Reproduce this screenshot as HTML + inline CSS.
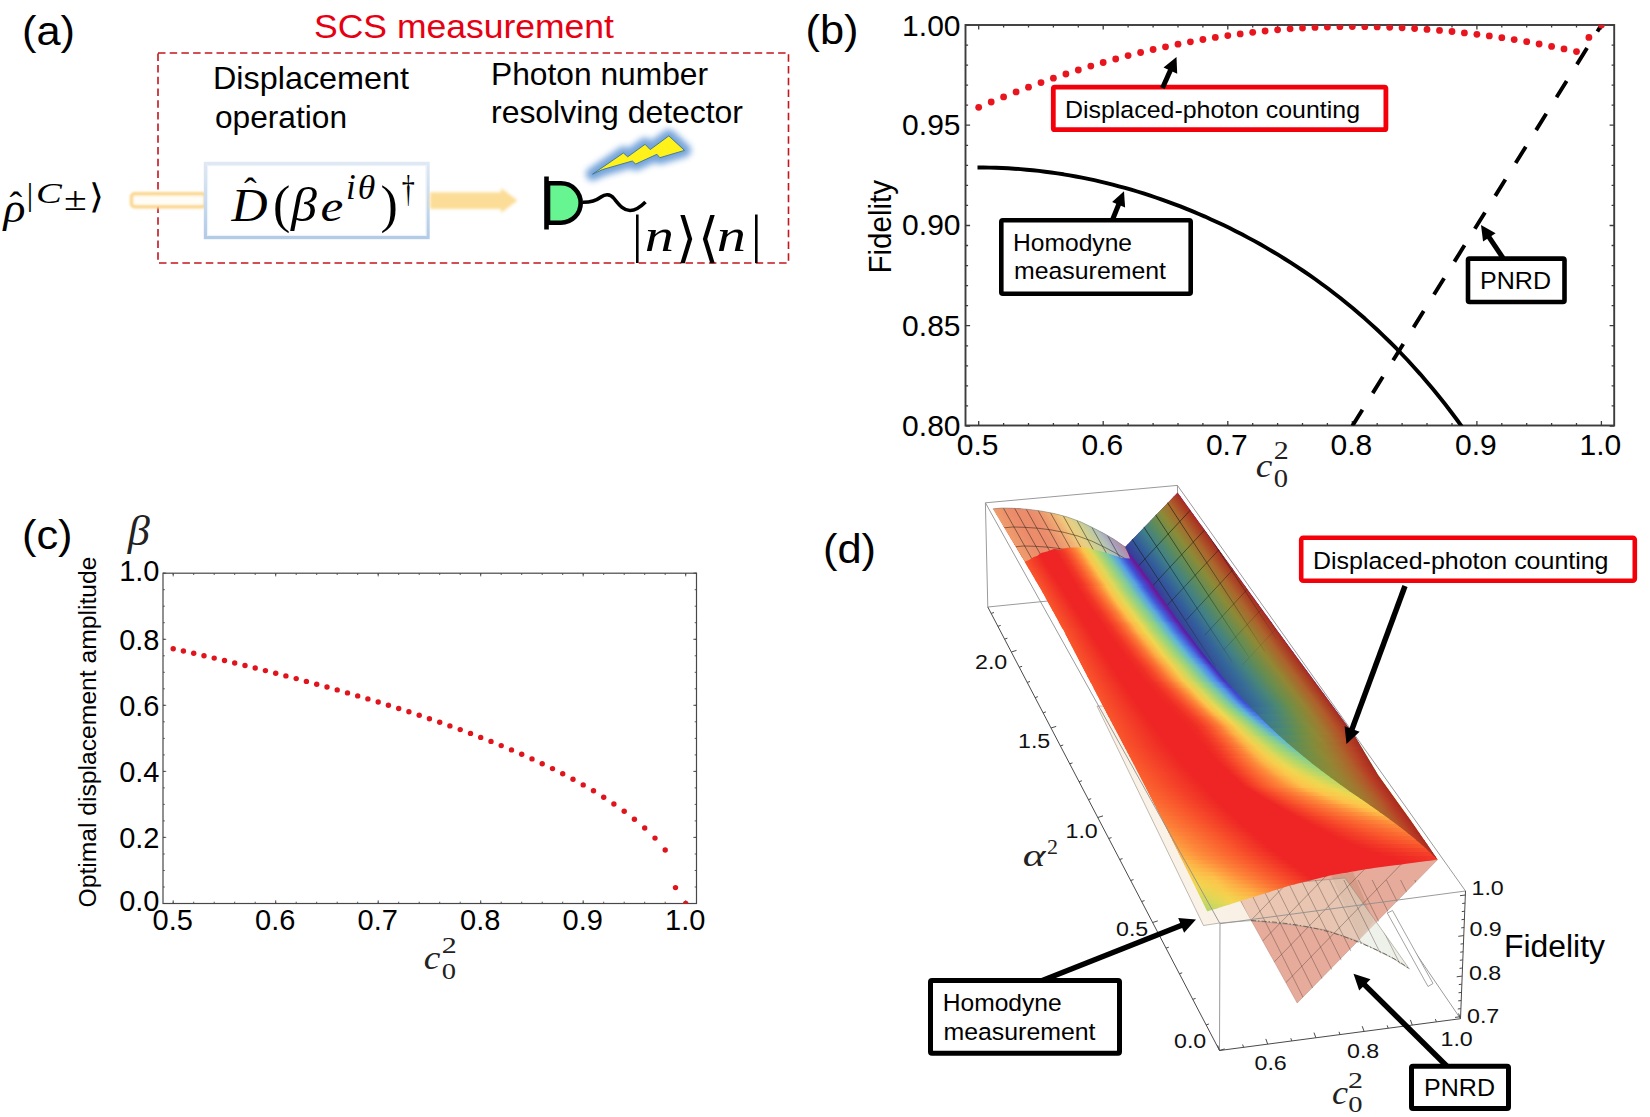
<!DOCTYPE html>
<html lang="en"><head><meta charset="utf-8"><title>SCS measurement figure</title>
<style>html,body{margin:0;padding:0;background:#fff}svg{display:block}</style></head>
<body>
<svg width="1650" height="1117" viewBox="0 0 1650 1117">
<rect width="1650" height="1117" fill="#fff"/>
<defs>
<filter id="soft1" x="-5%" y="-20%" width="110%" height="140%"><feGaussianBlur stdDeviation="0.7"/></filter>
<filter id="soft2" x="-5%" y="-30%" width="110%" height="160%"><feGaussianBlur stdDeviation="1.5"/></filter>
<filter id="soft3" x="-10%" y="-60%" width="120%" height="220%"><feGaussianBlur stdDeviation="1.0"/></filter>
<linearGradient id="gbox" x1="0" y1="0" x2="0" y2="1"><stop offset="0" stop-color="#dfe8f3"/><stop offset=".5" stop-color="#c9dbee"/><stop offset="1" stop-color="#b3cbe6"/></linearGradient>
<filter id="glow" x="-30%" y="-60%" width="160%" height="220%"><feGaussianBlur stdDeviation="3.2"/></filter>
</defs>
<g id="pa">
<text x="22" y="45.3" font-family='"Liberation Sans", sans-serif' font-size="41.5" fill="#000" textLength="53" lengthAdjust="spacingAndGlyphs">(a)</text>
<text x="314" y="37.5" font-family='"Liberation Sans", sans-serif' font-size="34" fill="#e60012" textLength="300" lengthAdjust="spacingAndGlyphs">SCS measurement</text>
<rect x="158" y="53" width="630.5" height="210" fill="none" stroke="#c4161c" stroke-width="1.6" stroke-dasharray="7.5 4.2"/>
<text x="213" y="89" font-family='"Liberation Sans", sans-serif' font-size="32" fill="#000" textLength="196" lengthAdjust="spacingAndGlyphs">Displacement</text>
<text x="215" y="127.5" font-family='"Liberation Sans", sans-serif' font-size="32" fill="#000" textLength="132" lengthAdjust="spacingAndGlyphs">operation</text>
<text x="491" y="85" font-family='"Liberation Sans", sans-serif' font-size="32" fill="#000" textLength="217" lengthAdjust="spacingAndGlyphs">Photon number</text>
<text x="491" y="123" font-family='"Liberation Sans", sans-serif' font-size="32" fill="#000" textLength="252" lengthAdjust="spacingAndGlyphs">resolving detector</text>
<text x="3.41" y="221.6" font-family='"Liberation Serif", "DejaVu Serif", serif' font-size="40" font-style="italic" fill="#000" textLength="21.96" lengthAdjust="spacingAndGlyphs">ρ</text>
<text x="9.42" y="218.4" font-family='"Liberation Serif", "DejaVu Serif", serif' font-size="38" fill="#000">ˆ</text>
<text x="26.64" y="204.8" font-family='"Liberation Serif", "DejaVu Serif", serif' font-size="32" fill="#000">|</text>
<text x="36.08" y="202.6" font-family='"Liberation Serif", "DejaVu Serif", serif' font-size="30" font-style="italic" fill="#000" textLength="25.82" lengthAdjust="spacingAndGlyphs">C</text>
<text x="64.14" y="210.3" font-family='"Liberation Serif", "DejaVu Serif", serif' font-size="33" fill="#000" textLength="22.78" lengthAdjust="spacingAndGlyphs">±</text>
<text x="89.18" y="207.8" font-family='"DejaVu Sans", sans-serif' font-size="34" font-weight="200" fill="#000" textLength="14.71" lengthAdjust="spacingAndGlyphs">⟩</text>
<rect x="131.5" y="193.8" width="74" height="13" rx="3" fill="#fffdf6" stroke="#fbd68c" stroke-width="3.4" filter="url(#soft3)"/>
<rect x="205.5" y="163.5" width="222.5" height="74" fill="#fff" stroke="url(#gbox)" stroke-width="3.4" filter="url(#soft1)"/>
<rect x="207.6" y="165.6" width="218.3" height="69.8" fill="none" stroke="#eef3f9" stroke-width="1.2"/>
<text x="231.50" y="220.5" font-family='"Liberation Serif", "DejaVu Serif", serif' font-size="46" font-style="italic" fill="#000" textLength="36.10" lengthAdjust="spacingAndGlyphs">D</text>
<text x="243.92" y="204.1" font-family='"Liberation Serif", "DejaVu Serif", serif' font-size="38" fill="#000">ˆ</text>
<text x="272.92" y="221.5" font-family='"Liberation Serif", "DejaVu Serif", serif' font-size="52" fill="#000">(</text>
<text x="291.04" y="220.5" font-family='"Liberation Serif", "DejaVu Serif", serif' font-size="48" font-style="italic" fill="#000" textLength="25.86" lengthAdjust="spacingAndGlyphs">β</text>
<text x="320.46" y="220.5" font-family='"Liberation Serif", "DejaVu Serif", serif' font-size="44" font-style="italic" fill="#000" textLength="22.77" lengthAdjust="spacingAndGlyphs">e</text>
<text x="345.90" y="198.7" font-family='"Liberation Serif", "DejaVu Serif", serif' font-size="35" font-style="italic" fill="#000">i</text>
<text x="357.71" y="198.5" font-family='"Liberation Serif", "DejaVu Serif", serif' font-size="34" font-style="italic" fill="#000" textLength="17.54" lengthAdjust="spacingAndGlyphs">θ</text>
<text x="380.44" y="221.5" font-family='"Liberation Serif", "DejaVu Serif", serif' font-size="52" fill="#000">)</text>
<text x="401.72" y="202.2" font-family='"Liberation Serif", "DejaVu Serif", serif' font-size="38" fill="#000" textLength="13.07" lengthAdjust="spacingAndGlyphs">†</text>
<path d="M430,192.3 L501,192.3 L501,188 L517.5,200.5 L501,213 L501,209 L430,209 Z" fill="#fcdd98" filter="url(#soft2)"/>
<path d="M548,183.3 L561,183.3 A19.7,19.7 0 0 1 561,222.7 L548,222.7 Z" fill="#66f590" stroke="#000" stroke-width="4.6"/>
<rect x="544.2" y="176.5" width="4.6" height="53" fill="#000"/>
<path d="M582.5,202.3 C592,202.5 597,200 601,197 C605,194 610,193.5 614,198.5 C619,204.5 623,210.3 630,210.5 C636,210.6 641,206.5 645.5,202" fill="none" stroke="#000" stroke-width="3.6" stroke-linecap="butt"/>
<polygon points="592.5,174.2 623.4,153 627.7,156.8 645.1,144.3 650.2,149.6 668.8,135.9 684.5,150.4 659.9,157.7 656.9,154.3 635.7,164 632.3,161 602.7,169.5" fill="#6d9fd8" stroke="#6d9fd8" stroke-width="13" stroke-linejoin="round" filter="url(#glow)" opacity="0.95"/>
<polygon points="592.5,174.2 623.4,153 627.7,156.8 645.1,144.3 650.2,149.6 668.8,135.9 684.5,150.4 659.9,157.7 656.9,154.3 635.7,164 632.3,161 602.7,169.5" fill="#fff21a" stroke="#3a7396" stroke-width="0.9" stroke-linejoin="miter"/>
<text x="631.96" y="251.6" font-family='"Liberation Serif", "DejaVu Serif", serif' font-size="53" fill="#000">|</text>
<text x="644.67" y="251" font-family='"Liberation Serif", "DejaVu Serif", serif' font-size="46" font-style="italic" fill="#000" textLength="29.17" lengthAdjust="spacingAndGlyphs">n</text>
<text x="675.68" y="256" font-family='"DejaVu Sans", sans-serif' font-size="54" font-weight="200" fill="#000">⟩</text>
<text x="697.84" y="256" font-family='"DejaVu Sans", sans-serif' font-size="54" font-weight="200" fill="#000">⟨</text>
<text x="716.67" y="251" font-family='"Liberation Serif", "DejaVu Serif", serif' font-size="46" font-style="italic" fill="#000" textLength="29.17" lengthAdjust="spacingAndGlyphs">n</text>
<text x="751.06" y="251.6" font-family='"Liberation Serif", "DejaVu Serif", serif' font-size="53" fill="#000">|</text>
</g>
<g id="pb">
<text x="805.5" y="44.3" font-family='"Liberation Sans", sans-serif' font-size="41.5" fill="#000" textLength="53" lengthAdjust="spacingAndGlyphs">(b)</text>
<rect x="965.5" y="25" width="648.7" height="400.5" fill="none" stroke="#3c3c3c" stroke-width="1.9"/>
<path d="M978.7,425.5v-2.6M978.7,25v2.6M1003.6,425.5v-2.6M1003.6,25v2.6M1028.5,425.5v-2.6M1028.5,25v2.6M1053.4,425.5v-2.6M1053.4,25v2.6M1078.3,425.5v-2.6M1078.3,25v2.6M1103.2,425.5v-2.6M1103.2,25v2.6M1128.1,425.5v-2.6M1128.1,25v2.6M1153.1,425.5v-2.6M1153.1,25v2.6M1178.0,425.5v-2.6M1178.0,25v2.6M1202.9,425.5v-2.6M1202.9,25v2.6M1227.8,425.5v-2.6M1227.8,25v2.6M1252.7,425.5v-2.6M1252.7,25v2.6M1277.6,425.5v-2.6M1277.6,25v2.6M1302.5,425.5v-2.6M1302.5,25v2.6M1327.4,425.5v-2.6M1327.4,25v2.6M1352.3,425.5v-2.6M1352.3,25v2.6M1377.2,425.5v-2.6M1377.2,25v2.6M1402.1,425.5v-2.6M1402.1,25v2.6M1427.0,425.5v-2.6M1427.0,25v2.6M1452.0,425.5v-2.6M1452.0,25v2.6M1476.9,425.5v-2.6M1476.9,25v2.6M1501.8,425.5v-2.6M1501.8,25v2.6M1526.7,425.5v-2.6M1526.7,25v2.6M1551.6,425.5v-2.6M1551.6,25v2.6M1576.5,425.5v-2.6M1576.5,25v2.6M1601.4,425.5v-2.6M1601.4,25v2.6M978.7,425.5v-4.6M978.7,25v4.6M1103.2,425.5v-4.6M1103.2,25v4.6M1227.8,425.5v-4.6M1227.8,25v4.6M1352.3,425.5v-4.6M1352.3,25v4.6M1476.9,425.5v-4.6M1476.9,25v4.6M1601.4,425.5v-4.6M1601.4,25v4.6M965.5,426.0h2.6M1614.2,426.0h-2.6M965.5,405.9h2.6M1614.2,405.9h-2.6M965.5,385.9h2.6M1614.2,385.9h-2.6M965.5,365.8h2.6M1614.2,365.8h-2.6M965.5,345.8h2.6M1614.2,345.8h-2.6M965.5,325.7h2.6M1614.2,325.7h-2.6M965.5,305.7h2.6M1614.2,305.7h-2.6M965.5,285.6h2.6M1614.2,285.6h-2.6M965.5,265.6h2.6M1614.2,265.6h-2.6M965.5,245.5h2.6M1614.2,245.5h-2.6M965.5,225.5h2.6M1614.2,225.5h-2.6M965.5,205.4h2.6M1614.2,205.4h-2.6M965.5,185.4h2.6M1614.2,185.4h-2.6M965.5,165.3h2.6M1614.2,165.3h-2.6M965.5,145.3h2.6M1614.2,145.3h-2.6M965.5,125.2h2.6M1614.2,125.2h-2.6M965.5,105.2h2.6M1614.2,105.2h-2.6M965.5,85.1h2.6M1614.2,85.1h-2.6M965.5,65.1h2.6M1614.2,65.1h-2.6M965.5,45.1h2.6M1614.2,45.1h-2.6M965.5,25.0h2.6M1614.2,25.0h-2.6M965.5,426.0h4.6M1614.2,426.0h-4.6M965.5,325.7h4.6M1614.2,325.7h-4.6M965.5,225.5h4.6M1614.2,225.5h-4.6M965.5,125.2h4.6M1614.2,125.2h-4.6M965.5,25.0h4.6M1614.2,25.0h-4.6" stroke="#3c3c3c" stroke-width="1.3" fill="none"/>
<text x="960.5" y="435.7999999999999" font-family='"Liberation Sans", sans-serif' font-size="30" fill="#000" text-anchor="end">0.80</text>
<text x="960.5" y="335.54999999999984" font-family='"Liberation Sans", sans-serif' font-size="30" fill="#000" text-anchor="end">0.85</text>
<text x="960.5" y="235.29999999999995" font-family='"Liberation Sans", sans-serif' font-size="30" fill="#000" text-anchor="end">0.90</text>
<text x="960.5" y="135.04999999999987" font-family='"Liberation Sans", sans-serif' font-size="30" fill="#000" text-anchor="end">0.95</text>
<text x="960.5" y="36.2" font-family='"Liberation Sans", sans-serif' font-size="30" fill="#000" text-anchor="end">1.00</text>
<text x="977.7" y="455" font-family='"Liberation Sans", sans-serif' font-size="30" fill="#000" text-anchor="middle">0.5</text>
<text x="1102.24" y="455" font-family='"Liberation Sans", sans-serif' font-size="30" fill="#000" text-anchor="middle">0.6</text>
<text x="1226.78" y="455" font-family='"Liberation Sans", sans-serif' font-size="30" fill="#000" text-anchor="middle">0.7</text>
<text x="1351.3200000000002" y="455" font-family='"Liberation Sans", sans-serif' font-size="30" fill="#000" text-anchor="middle">0.8</text>
<text x="1475.8600000000001" y="455" font-family='"Liberation Sans", sans-serif' font-size="30" fill="#000" text-anchor="middle">0.9</text>
<text x="1600.4" y="455" font-family='"Liberation Sans", sans-serif' font-size="30" fill="#000" text-anchor="middle">1.0</text>
<text transform="translate(890.7,273.5) rotate(-90)" font-family='"Liberation Sans", sans-serif' font-size="31.5" fill="#000" textLength="93.5" lengthAdjust="spacingAndGlyphs">Fidelity</text>
<text x="1255.88" y="476.6" font-family='"Liberation Serif", "DejaVu Serif", serif' font-size="33" font-style="italic" fill="#222" textLength="16.65" lengthAdjust="spacingAndGlyphs">c</text>
<text x="1273.80" y="459" font-family='"Liberation Serif", "DejaVu Serif", serif' font-size="24.5" fill="#222" textLength="15.00" lengthAdjust="spacingAndGlyphs">2</text>
<text x="1273.86" y="486.6" font-family='"Liberation Serif", "DejaVu Serif", serif' font-size="24.5" fill="#222" textLength="14.29" lengthAdjust="spacingAndGlyphs">0</text>
<clipPath id="cb"><rect x="965.5" y="25" width="648.7" height="400.5"/></clipPath>
<polyline points="977.5,167.5 983.6,167.5 989.8,167.6 995.9,167.7 1002.1,168.0 1008.2,168.3 1014.3,168.7 1020.5,169.1 1026.6,169.7 1032.8,170.3 1038.9,170.9 1045.1,171.7 1051.2,172.5 1057.4,173.4 1063.5,174.3 1069.7,175.4 1075.8,176.5 1082.0,177.7 1088.1,178.9 1094.3,180.2 1100.4,181.6 1106.6,183.1 1112.7,184.6 1118.9,186.3 1125.0,187.9 1131.2,189.7 1137.3,191.5 1143.5,193.4 1149.6,195.4 1155.8,197.5 1161.9,199.6 1168.1,201.8 1174.2,204.1 1180.4,206.4 1186.5,208.9 1192.7,211.4 1198.8,214.0 1205.0,216.6 1211.1,219.4 1217.3,222.2 1223.4,225.1 1229.6,228.1 1235.7,231.2 1241.9,234.3 1248.0,237.6 1254.2,240.9 1260.3,244.3 1266.5,247.9 1272.6,251.5 1278.8,255.2 1284.9,259.0 1291.1,262.9 1297.2,266.9 1303.4,271.0 1309.5,275.2 1315.7,279.5 1321.8,284.0 1328.0,288.5 1334.1,293.2 1340.3,298.0 1346.4,303.0 1352.6,308.0 1358.7,313.3 1364.9,318.6 1371.0,324.1 1377.2,329.8 1383.3,335.6 1389.4,341.5 1395.6,347.7 1401.7,354.0 1407.9,360.5 1414.0,367.2 1420.2,374.1 1426.3,381.2 1432.5,388.5 1438.6,396.0 1444.8,403.8 1450.9,411.8 1457.1,420.0 1463.2,428.5 1469.4,437.2" fill="none" stroke="#000" stroke-width="3.9" stroke-linejoin="round" clip-path="url(#cb)"/>
<line x1="1352.3" y1="426.0" x2="1601.4" y2="25.0" stroke="#000" stroke-width="3.9" stroke-dasharray="19.2 19.5" stroke-dashoffset="0" clip-path="url(#cb)"/>
<g fill="#e8141e" clip-path="url(#cb)"><circle cx="978.7" cy="107.3" r="3.4"/><circle cx="991.2" cy="102.0" r="3.4"/><circle cx="1003.6" cy="96.9" r="3.4"/><circle cx="1016.1" cy="91.9" r="3.4"/><circle cx="1028.5" cy="87.2" r="3.4"/><circle cx="1041.0" cy="82.6" r="3.4"/><circle cx="1053.4" cy="78.2" r="3.4"/><circle cx="1065.9" cy="74.0" r="3.4"/><circle cx="1078.3" cy="70.0" r="3.4"/><circle cx="1090.8" cy="66.1" r="3.4"/><circle cx="1103.2" cy="62.5" r="3.4"/><circle cx="1115.7" cy="59.0" r="3.4"/><circle cx="1128.1" cy="55.6" r="3.4"/><circle cx="1140.6" cy="52.5" r="3.4"/><circle cx="1153.1" cy="49.5" r="3.4"/><circle cx="1165.5" cy="46.8" r="3.4"/><circle cx="1178.0" cy="44.2" r="3.4"/><circle cx="1190.4" cy="41.8" r="3.4"/><circle cx="1202.9" cy="39.5" r="3.4"/><circle cx="1215.3" cy="37.4" r="3.4"/><circle cx="1227.8" cy="35.6" r="3.4"/><circle cx="1240.2" cy="33.9" r="3.4"/><circle cx="1252.7" cy="32.3" r="3.4"/><circle cx="1265.1" cy="31.0" r="3.4"/><circle cx="1277.6" cy="29.8" r="3.4"/><circle cx="1290.1" cy="28.8" r="3.4"/><circle cx="1302.5" cy="28.0" r="3.4"/><circle cx="1315.0" cy="27.4" r="3.4"/><circle cx="1327.4" cy="27.0" r="3.4"/><circle cx="1339.9" cy="26.7" r="3.4"/><circle cx="1352.3" cy="26.6" r="3.4"/><circle cx="1364.8" cy="26.7" r="3.4"/><circle cx="1377.2" cy="26.9" r="3.4"/><circle cx="1389.7" cy="27.3" r="3.4"/><circle cx="1402.1" cy="27.8" r="3.4"/><circle cx="1414.6" cy="28.5" r="3.4"/><circle cx="1427.0" cy="29.4" r="3.4"/><circle cx="1439.5" cy="30.4" r="3.4"/><circle cx="1452.0" cy="31.5" r="3.4"/><circle cx="1464.4" cy="32.9" r="3.4"/><circle cx="1476.9" cy="34.3" r="3.4"/><circle cx="1489.3" cy="35.9" r="3.4"/><circle cx="1501.8" cy="37.7" r="3.4"/><circle cx="1514.2" cy="39.6" r="3.4"/><circle cx="1526.7" cy="41.7" r="3.4"/><circle cx="1539.1" cy="44.0" r="3.4"/><circle cx="1551.6" cy="46.4" r="3.4"/><circle cx="1564.0" cy="48.9" r="3.4"/><circle cx="1576.5" cy="51.6" r="3.4"/><circle cx="1588.9" cy="37.4" r="3.4"/><circle cx="1601.4" cy="25.0" r="3.4"/></g>
<rect x="1053.3" y="87.2" width="332.6" height="42.5" rx="1.5" fill="#fff" stroke="#f3000a" stroke-width="4.8"/>
<text x="1065" y="117.5" font-family='"Liberation Sans", sans-serif' font-size="24.5" fill="#000" textLength="295" lengthAdjust="spacingAndGlyphs">Displaced-photon counting</text>
<line x1="1162.5" y1="88.0" x2="1171.1" y2="68.8" stroke="#000" stroke-width="5"/><polygon points="1176.5,57.0 1177.2,73.8 1163.5,67.6" fill="#000"/>
<rect x="1001.3" y="220.3" width="189.4" height="73.4" rx="1.5" fill="#fff" stroke="#000" stroke-width="4.6"/>
<text x="1013" y="250.5" font-family='"Liberation Sans", sans-serif' font-size="24.5" fill="#000" textLength="119" lengthAdjust="spacingAndGlyphs">Homodyne</text>
<text x="1014" y="279" font-family='"Liberation Sans", sans-serif' font-size="24.5" fill="#000" textLength="152" lengthAdjust="spacingAndGlyphs">measurement</text>
<line x1="1112.0" y1="221.0" x2="1119.3" y2="202.9" stroke="#000" stroke-width="5"/><polygon points="1124.0,191.3 1125.1,207.4 1112.1,202.1" fill="#000"/>
<rect x="1468" y="258.6" width="96.5" height="43.4" rx="1.5" fill="#fff" stroke="#000" stroke-width="4.6"/>
<text x="1480" y="289" font-family='"Liberation Sans", sans-serif' font-size="24.5" fill="#000" textLength="71" lengthAdjust="spacingAndGlyphs">PNRD</text>
<line x1="1503.0" y1="258.0" x2="1488.2" y2="235.8" stroke="#000" stroke-width="5"/><polygon points="1481.0,225.0 1495.6,233.3 1483.1,241.6" fill="#000"/>
</g>
<g id="pc">
<text x="22" y="549" font-family='"Liberation Sans", sans-serif' font-size="41.5" fill="#000" textLength="50.5" lengthAdjust="spacingAndGlyphs">(c)</text>
<text x="127.88" y="545.2" font-family='"Liberation Serif", "DejaVu Serif", serif' font-size="43" font-style="italic" fill="#222" textLength="22.03" lengthAdjust="spacingAndGlyphs">β</text>
<rect x="163" y="573.2" width="533.5" height="330.29999999999995" fill="none" stroke="#484848" stroke-width="1.2"/>
<path d="M173.2,903.5v-1.8M173.2,573.2v1.8M193.7,903.5v-1.8M193.7,573.2v1.8M214.2,903.5v-1.8M214.2,573.2v1.8M234.7,903.5v-1.8M234.7,573.2v1.8M255.2,903.5v-1.8M255.2,573.2v1.8M275.7,903.5v-1.8M275.7,573.2v1.8M296.2,903.5v-1.8M296.2,573.2v1.8M316.7,903.5v-1.8M316.7,573.2v1.8M337.2,903.5v-1.8M337.2,573.2v1.8M357.7,903.5v-1.8M357.7,573.2v1.8M378.2,903.5v-1.8M378.2,573.2v1.8M398.7,903.5v-1.8M398.7,573.2v1.8M419.2,903.5v-1.8M419.2,573.2v1.8M439.7,903.5v-1.8M439.7,573.2v1.8M460.2,903.5v-1.8M460.2,573.2v1.8M480.7,903.5v-1.8M480.7,573.2v1.8M501.2,903.5v-1.8M501.2,573.2v1.8M521.7,903.5v-1.8M521.7,573.2v1.8M542.2,903.5v-1.8M542.2,573.2v1.8M562.7,903.5v-1.8M562.7,573.2v1.8M583.2,903.5v-1.8M583.2,573.2v1.8M603.7,903.5v-1.8M603.7,573.2v1.8M624.2,903.5v-1.8M624.2,573.2v1.8M644.7,903.5v-1.8M644.7,573.2v1.8M665.2,903.5v-1.8M665.2,573.2v1.8M685.7,903.5v-1.8M685.7,573.2v1.8M173.2,903.5v-3.2M173.2,573.2v3.2M275.7,903.5v-3.2M275.7,573.2v3.2M378.2,903.5v-3.2M378.2,573.2v3.2M480.7,903.5v-3.2M480.7,573.2v3.2M583.2,903.5v-3.2M583.2,573.2v3.2M685.7,903.5v-3.2M685.7,573.2v3.2M163,903.5h1.8M696.5,903.5h-1.8M163,887.0h1.8M696.5,887.0h-1.8M163,870.5h1.8M696.5,870.5h-1.8M163,854.0h1.8M696.5,854.0h-1.8M163,837.4h1.8M696.5,837.4h-1.8M163,820.9h1.8M696.5,820.9h-1.8M163,804.4h1.8M696.5,804.4h-1.8M163,787.9h1.8M696.5,787.9h-1.8M163,771.4h1.8M696.5,771.4h-1.8M163,754.9h1.8M696.5,754.9h-1.8M163,738.4h1.8M696.5,738.4h-1.8M163,721.8h1.8M696.5,721.8h-1.8M163,705.3h1.8M696.5,705.3h-1.8M163,688.8h1.8M696.5,688.8h-1.8M163,672.3h1.8M696.5,672.3h-1.8M163,655.8h1.8M696.5,655.8h-1.8M163,639.3h1.8M696.5,639.3h-1.8M163,622.7h1.8M696.5,622.7h-1.8M163,606.2h1.8M696.5,606.2h-1.8M163,589.7h1.8M696.5,589.7h-1.8M163,573.2h1.8M696.5,573.2h-1.8M163,903.5h3.2M696.5,903.5h-3.2M163,837.4h3.2M696.5,837.4h-3.2M163,771.4h3.2M696.5,771.4h-3.2M163,705.3h3.2M696.5,705.3h-3.2M163,639.3h3.2M696.5,639.3h-3.2M163,573.2h3.2M696.5,573.2h-3.2" stroke="#484848" stroke-width="0.9" fill="none"/>
<text x="159.5" y="911.3" font-family='"Liberation Sans", sans-serif' font-size="29" fill="#000" text-anchor="end">0.0</text>
<text x="159.5" y="847.94" font-family='"Liberation Sans", sans-serif' font-size="29" fill="#000" text-anchor="end">0.2</text>
<text x="159.5" y="781.88" font-family='"Liberation Sans", sans-serif' font-size="29" fill="#000" text-anchor="end">0.4</text>
<text x="159.5" y="715.8199999999999" font-family='"Liberation Sans", sans-serif' font-size="29" fill="#000" text-anchor="end">0.6</text>
<text x="159.5" y="649.76" font-family='"Liberation Sans", sans-serif' font-size="29" fill="#000" text-anchor="end">0.8</text>
<text x="159.5" y="580.7" font-family='"Liberation Sans", sans-serif' font-size="29" fill="#000" text-anchor="end">1.0</text>
<text x="172.7" y="929.8" font-family='"Liberation Sans", sans-serif' font-size="29" fill="#000" text-anchor="middle">0.5</text>
<text x="275.19999999999993" y="929.8" font-family='"Liberation Sans", sans-serif' font-size="29" fill="#000" text-anchor="middle">0.6</text>
<text x="377.69999999999993" y="929.8" font-family='"Liberation Sans", sans-serif' font-size="29" fill="#000" text-anchor="middle">0.7</text>
<text x="480.20000000000005" y="929.8" font-family='"Liberation Sans", sans-serif' font-size="29" fill="#000" text-anchor="middle">0.8</text>
<text x="582.7" y="929.8" font-family='"Liberation Sans", sans-serif' font-size="29" fill="#000" text-anchor="middle">0.9</text>
<text x="685.2" y="929.8" font-family='"Liberation Sans", sans-serif' font-size="29" fill="#000" text-anchor="middle">1.0</text>
<text transform="translate(96,907.5) rotate(-90)" font-family='"Liberation Sans", sans-serif' font-size="23" fill="#000" textLength="351" lengthAdjust="spacingAndGlyphs">Optimal displacement amplitude</text>
<text x="423.88" y="968.7" font-family='"Liberation Serif", "DejaVu Serif", serif' font-size="33" font-style="italic" fill="#222" textLength="16.65" lengthAdjust="spacingAndGlyphs">c</text>
<text x="441.80" y="952.5" font-family='"Liberation Serif", "DejaVu Serif", serif' font-size="23.5" fill="#222" textLength="15.00" lengthAdjust="spacingAndGlyphs">2</text>
<text x="441.86" y="978.5" font-family='"Liberation Serif", "DejaVu Serif", serif' font-size="23.5" fill="#222" textLength="14.29" lengthAdjust="spacingAndGlyphs">0</text>
<clipPath id="cc"><rect x="163" y="573.2" width="533.5" height="330.29999999999995"/></clipPath>
<g fill="#e0141c" clip-path="url(#cc)"><circle cx="173.2" cy="648.7" r="2.7"/><circle cx="183.4" cy="651.0" r="2.7"/><circle cx="193.7" cy="653.3" r="2.7"/><circle cx="204.0" cy="655.7" r="2.7"/><circle cx="214.2" cy="658.1" r="2.7"/><circle cx="224.5" cy="660.5" r="2.7"/><circle cx="234.7" cy="663.0" r="2.7"/><circle cx="245.0" cy="665.5" r="2.7"/><circle cx="255.2" cy="668.0" r="2.7"/><circle cx="265.4" cy="670.6" r="2.7"/><circle cx="275.7" cy="673.2" r="2.7"/><circle cx="285.9" cy="675.9" r="2.7"/><circle cx="296.2" cy="678.6" r="2.7"/><circle cx="306.4" cy="681.4" r="2.7"/><circle cx="316.7" cy="684.2" r="2.7"/><circle cx="327.0" cy="687.0" r="2.7"/><circle cx="337.2" cy="689.9" r="2.7"/><circle cx="347.5" cy="692.9" r="2.7"/><circle cx="357.7" cy="695.9" r="2.7"/><circle cx="367.9" cy="698.9" r="2.7"/><circle cx="378.2" cy="702.0" r="2.7"/><circle cx="388.4" cy="705.2" r="2.7"/><circle cx="398.7" cy="708.5" r="2.7"/><circle cx="408.9" cy="711.8" r="2.7"/><circle cx="419.2" cy="715.2" r="2.7"/><circle cx="429.4" cy="718.7" r="2.7"/><circle cx="439.7" cy="722.2" r="2.7"/><circle cx="449.9" cy="725.9" r="2.7"/><circle cx="460.2" cy="729.6" r="2.7"/><circle cx="470.5" cy="733.4" r="2.7"/><circle cx="480.7" cy="737.4" r="2.7"/><circle cx="491.0" cy="741.4" r="2.7"/><circle cx="501.2" cy="745.6" r="2.7"/><circle cx="511.5" cy="749.9" r="2.7"/><circle cx="521.7" cy="754.3" r="2.7"/><circle cx="532.0" cy="758.9" r="2.7"/><circle cx="542.2" cy="763.7" r="2.7"/><circle cx="552.5" cy="768.6" r="2.7"/><circle cx="562.7" cy="773.8" r="2.7"/><circle cx="573.0" cy="779.2" r="2.7"/><circle cx="583.2" cy="784.9" r="2.7"/><circle cx="593.5" cy="790.8" r="2.7"/><circle cx="603.7" cy="797.2" r="2.7"/><circle cx="613.9" cy="804.0" r="2.7"/><circle cx="624.2" cy="811.3" r="2.7"/><circle cx="634.4" cy="819.2" r="2.7"/><circle cx="644.7" cy="828.0" r="2.7"/><circle cx="655.0" cy="838.1" r="2.7"/><circle cx="665.2" cy="850.0" r="2.7"/><circle cx="675.5" cy="887.6" r="2.7"/><circle cx="685.7" cy="903.5" r="2.7"/></g>
</g>
<g id="pd">
<text x="823" y="563.4" font-family='"Liberation Sans", sans-serif' font-size="41.5" fill="#000" textLength="53" lengthAdjust="spacingAndGlyphs">(d)</text>
<path d="M985.4,502.8L1177.4,485.4M985.4,502.8L987.8,607L1048,601M1177.4,485.4L1177.6,493M1388,912.5L1460.5,1018.7" fill="none" stroke="#9a9a9a" stroke-width="1"/>
<polygon points="1437.6,859.6 1297.2,1003.0 1236.0,893.0 1330.0,870.0" fill="#e6ab9b" stroke="#b07868" stroke-width="0.7" stroke-opacity=".6"/>
<polygon points="1331.0,875.5 1353.0,872.0 1373.7,921.4 1360.0,938.5" fill="#c98f78" fill-opacity=".55"/>
<linearGradient id="ghom" gradientUnits="userSpaceOnUse" x1="1205" y1="0" x2="1410" y2="0"><stop offset="0" stop-color="#f5e6cf"/><stop offset=".6" stop-color="#eadcc4"/><stop offset=".8" stop-color="#e0e6d8"/><stop offset="1" stop-color="#d9e2d4"/></linearGradient>
<polygon points="1097.0,706.0 1203.5,925.5 1219.8,923.0 1251.0,920.6 1292.0,924.8 1326.0,930.0 1360.0,941.9 1394.0,958.9 1409.4,969.0 1377.0,923.0 1345.0,878.0 1290.0,883.0 1250.0,896.0 1212.0,908.0 1135.0,760.0 1106.0,706.0" fill="url(#ghom)" fill-opacity=".52" stroke="#8d877a" stroke-width="0.8" stroke-opacity=".7"/>
<polygon points="1387.3,913.0 1392.5,910.5 1433.0,983.5 1428.0,986.5" fill="#fff" stroke="#8c8c88" stroke-width="0.8"/>
<clipPath id="cfr"><polygon points="1207.0,911.5 1203.5,925.5 1236.0,893.0 1297.2,1003.0 1360.0,941.9 1409.4,969.0 1377.0,923.0 1437.6,859.6 1330.0,872.0 1250.0,897.0"/></clipPath>
<path d="M1216.0,880l62.5,125M1230.2,880l62.5,125M1244.4,880l62.5,125M1258.6,880l62.5,125M1272.8,880l62.5,125M1287.0,880l62.5,125M1301.2,880l62.5,125M1315.4,880l62.5,125M1329.6,880l62.5,125M1343.8,880l62.5,125M1358.0,880l62.5,125M1372.2,880l62.5,125M1386.4,880l62.5,125M1400.6,880l62.5,125M1414.8,880l62.5,125M1410.6,854.6l-150,154M1383.6,849.6l-150,154M1356.6,844.6l-150,154M1329.6,839.6l-150,154" fill="none" stroke="#3a3028" stroke-width="0.8" opacity="0.45" clip-path="url(#cfr)"/>
<path d="M1251,920.6 C1285,922 1318,927 1345,937 S1396,958 1409.4,969" fill="none" stroke="#5a5248" stroke-width="1" stroke-dasharray="5 2 1.5 2" opacity=".8"/>
<clipPath id="cs"><polygon points="992.8,508.9 1002.0,508.0 1013.6,508.3 1027.0,509.2 1040.4,510.9 1054.0,513.5 1067.3,517.0 1081.0,522.0 1094.2,528.4 1104.0,533.5 1114.3,539.5 1125.2,547.1 1177.6,492.5 1248.0,590.0 1277.0,630.0 1299.0,660.0 1355.0,736.0 1378.3,775.0 1410.6,820.0 1437.6,859.6 1410.0,863.2 1370.0,868.4 1330.0,875.5 1290.0,885.5 1250.0,898.0 1207.0,911.5 1162.0,820.0 1129.0,756.0 1110.0,720.0 1089.0,680.0 1063.0,630.0 1041.0,590.0 1024.0,561.0"/></clipPath>
<clipPath id="cdk"><polygon points="1124.2,546.7 1177.6,492.5 1248.0,590.0 1277.0,630.0 1299.0,660.0 1355.0,736.0 1378.3,775.0 1410.6,820.0 1437.6,859.6 1425.3,847.7 1413.0,837.2 1400.7,827.5 1388.3,818.2 1375.7,809.3 1363.2,800.6 1350.6,791.9 1338.1,783.0 1325.6,773.8 1313.0,764.2 1300.5,754.1 1288.0,743.5 1275.4,732.2 1262.9,720.3 1250.4,707.6 1237.8,694.1 1225.3,680.0 1212.8,665.0 1200.2,649.4 1187.7,633.1 1175.1,616.2 1162.6,598.8 1150.1,581.0 1137.5,563.6"/></clipPath>
<defs><linearGradient id="g0"><stop offset=".000" stop-color="#f9562c"/><stop offset=".118" stop-color="#f74c2a"/><stop offset=".236" stop-color="#f44229"/><stop offset=".354" stop-color="#f23827"/><stop offset=".472" stop-color="#f02e25"/><stop offset=".590" stop-color="#ee2524"/><stop offset="1" stop-color="#ee2524"/></linearGradient>
<linearGradient id="g1"><stop offset=".000" stop-color="#ee2524"/><stop offset=".062" stop-color="#ee2524"/><stop offset=".099" stop-color="#f23727"/><stop offset=".135" stop-color="#f95a2d"/><stop offset=".171" stop-color="#fd8739"/><stop offset=".208" stop-color="#fbc54b"/><stop offset=".244" stop-color="#e0d857"/><stop offset=".281" stop-color="#a9d573"/><stop offset=".317" stop-color="#7bc8a4"/><stop offset=".353" stop-color="#56a2e3"/><stop offset=".390" stop-color="#4052d9"/><stop offset=".426" stop-color="#6a1a99"/><stop offset="1" stop-color="#6a1a99"/></linearGradient>
<linearGradient id="g2"><stop offset=".000" stop-color="#f9562c"/><stop offset=".116" stop-color="#f74c2a"/><stop offset=".233" stop-color="#f44229"/><stop offset=".349" stop-color="#f23827"/><stop offset=".465" stop-color="#f02e25"/><stop offset=".581" stop-color="#ee2524"/><stop offset="1" stop-color="#ee2524"/></linearGradient>
<linearGradient id="g3"><stop offset=".000" stop-color="#ee2524"/><stop offset=".064" stop-color="#ee2524"/><stop offset=".101" stop-color="#f23727"/><stop offset=".137" stop-color="#f95a2d"/><stop offset=".173" stop-color="#fd8739"/><stop offset=".210" stop-color="#fbc54b"/><stop offset=".246" stop-color="#e0d857"/><stop offset=".282" stop-color="#a9d573"/><stop offset=".319" stop-color="#7bc8a4"/><stop offset=".355" stop-color="#56a2e3"/><stop offset=".391" stop-color="#4052d9"/><stop offset=".428" stop-color="#6a1a99"/><stop offset="1" stop-color="#6a1a99"/></linearGradient>
<linearGradient id="g4"><stop offset=".000" stop-color="#f9562c"/><stop offset=".117" stop-color="#f74c2a"/><stop offset=".235" stop-color="#f44229"/><stop offset=".352" stop-color="#f23827"/><stop offset=".470" stop-color="#f02e25"/><stop offset=".587" stop-color="#ee2524"/><stop offset="1" stop-color="#ee2524"/></linearGradient>
<linearGradient id="g5"><stop offset=".000" stop-color="#ee2524"/><stop offset=".064" stop-color="#ee2524"/><stop offset=".101" stop-color="#f23727"/><stop offset=".137" stop-color="#f95a2d"/><stop offset=".174" stop-color="#fd8739"/><stop offset=".210" stop-color="#fbc54b"/><stop offset=".247" stop-color="#e0d857"/><stop offset=".283" stop-color="#a9d573"/><stop offset=".320" stop-color="#7bc8a4"/><stop offset=".357" stop-color="#56a2e3"/><stop offset=".393" stop-color="#4052d9"/><stop offset=".430" stop-color="#6a1a99"/><stop offset="1" stop-color="#6a1a99"/></linearGradient>
<linearGradient id="g6"><stop offset=".000" stop-color="#f9562c"/><stop offset=".119" stop-color="#f74c2a"/><stop offset=".239" stop-color="#f44229"/><stop offset=".358" stop-color="#f23827"/><stop offset=".477" stop-color="#f02e25"/><stop offset=".596" stop-color="#ee2524"/><stop offset="1" stop-color="#ee2524"/></linearGradient>
<linearGradient id="g7"><stop offset=".000" stop-color="#ee2524"/><stop offset=".063" stop-color="#ee2524"/><stop offset=".100" stop-color="#f23727"/><stop offset=".137" stop-color="#f95a2d"/><stop offset=".174" stop-color="#fd8739"/><stop offset=".211" stop-color="#fbc54b"/><stop offset=".247" stop-color="#e0d857"/><stop offset=".284" stop-color="#a9d573"/><stop offset=".321" stop-color="#7bc8a4"/><stop offset=".358" stop-color="#56a2e3"/><stop offset=".395" stop-color="#4052d9"/><stop offset=".432" stop-color="#6a1a99"/><stop offset="1" stop-color="#6a1a99"/></linearGradient>
<linearGradient id="g8"><stop offset=".000" stop-color="#f9562c"/><stop offset=".121" stop-color="#f74c2a"/><stop offset=".242" stop-color="#f44229"/><stop offset=".363" stop-color="#f23827"/><stop offset=".484" stop-color="#f02e25"/><stop offset=".605" stop-color="#ee2524"/><stop offset="1" stop-color="#ee2524"/></linearGradient>
<linearGradient id="g9"><stop offset=".000" stop-color="#ee2524"/><stop offset=".062" stop-color="#ee2524"/><stop offset=".099" stop-color="#f23727"/><stop offset=".136" stop-color="#f95a2d"/><stop offset=".174" stop-color="#fd8739"/><stop offset=".211" stop-color="#fbc54b"/><stop offset=".248" stop-color="#e0d857"/><stop offset=".285" stop-color="#a9d573"/><stop offset=".322" stop-color="#7bc8a4"/><stop offset=".360" stop-color="#56a2e3"/><stop offset=".397" stop-color="#4052d9"/><stop offset=".434" stop-color="#6a1a99"/><stop offset="1" stop-color="#6a1a99"/></linearGradient>
<linearGradient id="g10"><stop offset=".000" stop-color="#f9562c"/><stop offset=".123" stop-color="#f74c2a"/><stop offset=".245" stop-color="#f44229"/><stop offset=".368" stop-color="#f23827"/><stop offset=".491" stop-color="#f02e25"/><stop offset=".614" stop-color="#ee2524"/><stop offset="1" stop-color="#ee2524"/></linearGradient>
<linearGradient id="g11"><stop offset=".000" stop-color="#ee2524"/><stop offset=".061" stop-color="#ee2524"/><stop offset=".099" stop-color="#f23727"/><stop offset=".136" stop-color="#f95a2d"/><stop offset=".174" stop-color="#fd8739"/><stop offset=".211" stop-color="#fbc54b"/><stop offset=".249" stop-color="#e0d857"/><stop offset=".286" stop-color="#a9d573"/><stop offset=".324" stop-color="#7bc8a4"/><stop offset=".361" stop-color="#56a2e3"/><stop offset=".399" stop-color="#4052d9"/><stop offset=".436" stop-color="#6a1a99"/><stop offset="1" stop-color="#6a1a99"/></linearGradient>
<linearGradient id="g12"><stop offset=".000" stop-color="#f9562c"/><stop offset=".124" stop-color="#f74c2a"/><stop offset=".249" stop-color="#f44229"/><stop offset=".373" stop-color="#f23827"/><stop offset=".498" stop-color="#f02e25"/><stop offset=".622" stop-color="#ee2524"/><stop offset="1" stop-color="#ee2524"/></linearGradient>
<linearGradient id="g13"><stop offset=".000" stop-color="#ee2524"/><stop offset=".060" stop-color="#ee2524"/><stop offset=".098" stop-color="#f23727"/><stop offset=".136" stop-color="#f95a2d"/><stop offset=".174" stop-color="#fd8739"/><stop offset=".211" stop-color="#fbc54b"/><stop offset=".249" stop-color="#e0d857"/><stop offset=".287" stop-color="#a9d573"/><stop offset=".325" stop-color="#7bc8a4"/><stop offset=".363" stop-color="#56a2e3"/><stop offset=".400" stop-color="#4052d9"/><stop offset=".438" stop-color="#6a1a99"/><stop offset="1" stop-color="#6a1a99"/></linearGradient>
<linearGradient id="g14"><stop offset=".000" stop-color="#f9562c"/><stop offset=".126" stop-color="#f74c2a"/><stop offset=".252" stop-color="#f44229"/><stop offset=".378" stop-color="#f23827"/><stop offset=".504" stop-color="#f02e25"/><stop offset=".630" stop-color="#ee2524"/><stop offset="1" stop-color="#ee2524"/></linearGradient>
<linearGradient id="g15"><stop offset=".000" stop-color="#ee2524"/><stop offset=".059" stop-color="#ee2524"/><stop offset=".097" stop-color="#f23727"/><stop offset=".135" stop-color="#f95a2d"/><stop offset=".173" stop-color="#fd8739"/><stop offset=".212" stop-color="#fbc54b"/><stop offset=".250" stop-color="#e0d857"/><stop offset=".288" stop-color="#a9d573"/><stop offset=".326" stop-color="#7bc8a4"/><stop offset=".364" stop-color="#56a2e3"/><stop offset=".402" stop-color="#4052d9"/><stop offset=".440" stop-color="#6a1a99"/><stop offset="1" stop-color="#6a1a99"/></linearGradient>
<linearGradient id="g16"><stop offset=".000" stop-color="#f9562c"/><stop offset=".128" stop-color="#f74c2a"/><stop offset=".255" stop-color="#f44229"/><stop offset=".383" stop-color="#f23827"/><stop offset=".511" stop-color="#f02e25"/><stop offset=".638" stop-color="#ee2524"/><stop offset="1" stop-color="#ee2524"/></linearGradient>
<linearGradient id="g17"><stop offset=".000" stop-color="#ee2524"/><stop offset=".058" stop-color="#ee2524"/><stop offset=".097" stop-color="#f23727"/><stop offset=".135" stop-color="#f95a2d"/><stop offset=".173" stop-color="#fd8739"/><stop offset=".212" stop-color="#fbc54b"/><stop offset=".250" stop-color="#e0d857"/><stop offset=".289" stop-color="#a9d573"/><stop offset=".327" stop-color="#7bc8a4"/><stop offset=".366" stop-color="#56a2e3"/><stop offset=".404" stop-color="#4052d9"/><stop offset=".442" stop-color="#6a1a99"/><stop offset="1" stop-color="#6a1a99"/></linearGradient>
<linearGradient id="g18"><stop offset=".000" stop-color="#f9562c"/><stop offset=".129" stop-color="#f74c2a"/><stop offset=".259" stop-color="#f44229"/><stop offset=".388" stop-color="#f23827"/><stop offset=".517" stop-color="#f02e25"/><stop offset=".646" stop-color="#ee2524"/><stop offset="1" stop-color="#ee2524"/></linearGradient>
<linearGradient id="g19"><stop offset=".000" stop-color="#ee2524"/><stop offset=".057" stop-color="#ee2524"/><stop offset=".096" stop-color="#f23727"/><stop offset=".135" stop-color="#f95a2d"/><stop offset=".173" stop-color="#fd8739"/><stop offset=".212" stop-color="#fbc54b"/><stop offset=".251" stop-color="#e0d857"/><stop offset=".290" stop-color="#a9d573"/><stop offset=".328" stop-color="#7bc8a4"/><stop offset=".367" stop-color="#56a2e3"/><stop offset=".406" stop-color="#4052d9"/><stop offset=".444" stop-color="#6a1a99"/><stop offset="1" stop-color="#6a1a99"/></linearGradient>
<linearGradient id="g20"><stop offset=".000" stop-color="#f9562c"/><stop offset=".131" stop-color="#f74c2a"/><stop offset=".262" stop-color="#f44229"/><stop offset=".393" stop-color="#f23827"/><stop offset=".523" stop-color="#f02e25"/><stop offset=".654" stop-color="#ee2524"/><stop offset="1" stop-color="#ee2524"/></linearGradient>
<linearGradient id="g21"><stop offset=".000" stop-color="#ee2524"/><stop offset=".056" stop-color="#ee2524"/><stop offset=".095" stop-color="#f23727"/><stop offset=".134" stop-color="#f95a2d"/><stop offset=".173" stop-color="#fd8739"/><stop offset=".212" stop-color="#fbc54b"/><stop offset=".251" stop-color="#e0d857"/><stop offset=".290" stop-color="#a9d573"/><stop offset=".329" stop-color="#7bc8a4"/><stop offset=".368" stop-color="#56a2e3"/><stop offset=".407" stop-color="#4052d9"/><stop offset=".446" stop-color="#6a1a99"/><stop offset="1" stop-color="#6a1a99"/></linearGradient>
<linearGradient id="g22"><stop offset=".000" stop-color="#f9562c"/><stop offset=".132" stop-color="#f74c2a"/><stop offset=".265" stop-color="#f44229"/><stop offset=".397" stop-color="#f23827"/><stop offset=".530" stop-color="#f02e25"/><stop offset=".662" stop-color="#ee2524"/><stop offset="1" stop-color="#ee2524"/></linearGradient>
<linearGradient id="g23"><stop offset=".000" stop-color="#ee2524"/><stop offset=".055" stop-color="#ee2524"/><stop offset=".095" stop-color="#f23727"/><stop offset=".134" stop-color="#f95a2d"/><stop offset=".173" stop-color="#fd8739"/><stop offset=".213" stop-color="#fbc54b"/><stop offset=".252" stop-color="#e0d857"/><stop offset=".291" stop-color="#a9d573"/><stop offset=".331" stop-color="#7bc8a4"/><stop offset=".370" stop-color="#56a2e3"/><stop offset=".409" stop-color="#4052d9"/><stop offset=".448" stop-color="#6a1a99"/><stop offset="1" stop-color="#6a1a99"/></linearGradient>
<linearGradient id="g24"><stop offset=".000" stop-color="#f9562c"/><stop offset=".134" stop-color="#f74c2a"/><stop offset=".268" stop-color="#f44229"/><stop offset=".402" stop-color="#f23827"/><stop offset=".535" stop-color="#f02e25"/><stop offset=".669" stop-color="#ee2524"/><stop offset="1" stop-color="#ee2524"/></linearGradient>
<linearGradient id="g25"><stop offset=".000" stop-color="#ee2524"/><stop offset=".055" stop-color="#ee2524"/><stop offset=".094" stop-color="#f23727"/><stop offset=".134" stop-color="#f95a2d"/><stop offset=".173" stop-color="#fd8739"/><stop offset=".213" stop-color="#fbc54b"/><stop offset=".253" stop-color="#e0d857"/><stop offset=".292" stop-color="#a9d573"/><stop offset=".332" stop-color="#7bc8a4"/><stop offset=".371" stop-color="#56a2e3"/><stop offset=".411" stop-color="#4052d9"/><stop offset=".450" stop-color="#6a1a99"/><stop offset="1" stop-color="#6a1a99"/></linearGradient>
<linearGradient id="g26"><stop offset=".000" stop-color="#f9562c"/><stop offset=".135" stop-color="#f74c2a"/><stop offset=".271" stop-color="#f44229"/><stop offset=".406" stop-color="#f23827"/><stop offset=".542" stop-color="#f02e25"/><stop offset=".677" stop-color="#ee2524"/><stop offset="1" stop-color="#ee2524"/></linearGradient>
<linearGradient id="g27"><stop offset=".000" stop-color="#ee2524"/><stop offset=".054" stop-color="#ee2524"/><stop offset=".093" stop-color="#f23727"/><stop offset=".133" stop-color="#f95a2d"/><stop offset=".173" stop-color="#fd8739"/><stop offset=".213" stop-color="#fbc54b"/><stop offset=".253" stop-color="#e0d857"/><stop offset=".293" stop-color="#a9d573"/><stop offset=".333" stop-color="#7bc8a4"/><stop offset=".372" stop-color="#56a2e3"/><stop offset=".412" stop-color="#4052d9"/><stop offset=".452" stop-color="#6a1a99"/><stop offset="1" stop-color="#6a1a99"/></linearGradient>
<linearGradient id="g28"><stop offset=".000" stop-color="#f9562c"/><stop offset=".137" stop-color="#f74c2a"/><stop offset=".274" stop-color="#f44229"/><stop offset=".411" stop-color="#f23827"/><stop offset=".548" stop-color="#f02e25"/><stop offset=".685" stop-color="#ee2524"/><stop offset="1" stop-color="#ee2524"/></linearGradient>
<linearGradient id="g29"><stop offset=".000" stop-color="#ee2524"/><stop offset=".053" stop-color="#ee2524"/><stop offset=".093" stop-color="#f23727"/><stop offset=".133" stop-color="#f95a2d"/><stop offset=".173" stop-color="#fd8739"/><stop offset=".213" stop-color="#fbc54b"/><stop offset=".253" stop-color="#e0d857"/><stop offset=".293" stop-color="#a9d573"/><stop offset=".334" stop-color="#7bc8a4"/><stop offset=".374" stop-color="#56a2e3"/><stop offset=".414" stop-color="#4052d9"/><stop offset=".454" stop-color="#6a1a99"/><stop offset="1" stop-color="#6a1a99"/></linearGradient>
<linearGradient id="g30"><stop offset=".000" stop-color="#f9562c"/><stop offset=".138" stop-color="#f74c2a"/><stop offset=".277" stop-color="#f44229"/><stop offset=".415" stop-color="#f23827"/><stop offset=".554" stop-color="#f02e25"/><stop offset=".692" stop-color="#ee2524"/><stop offset="1" stop-color="#ee2524"/></linearGradient>
<linearGradient id="g31"><stop offset=".000" stop-color="#ee2524"/><stop offset=".051" stop-color="#ee2524"/><stop offset=".092" stop-color="#f23727"/><stop offset=".132" stop-color="#f95a2d"/><stop offset=".173" stop-color="#fd8739"/><stop offset=".213" stop-color="#fbc54b"/><stop offset=".253" stop-color="#e0d857"/><stop offset=".294" stop-color="#a9d573"/><stop offset=".334" stop-color="#7bc8a4"/><stop offset=".375" stop-color="#56a2e3"/><stop offset=".415" stop-color="#4052d9"/><stop offset=".456" stop-color="#6a1a99"/><stop offset="1" stop-color="#6a1a99"/></linearGradient>
<linearGradient id="g32"><stop offset=".000" stop-color="#f9562c"/><stop offset=".140" stop-color="#f74c2a"/><stop offset=".280" stop-color="#f44229"/><stop offset=".421" stop-color="#f23827"/><stop offset=".561" stop-color="#f02e25"/><stop offset=".701" stop-color="#ee2524"/><stop offset="1" stop-color="#ee2524"/></linearGradient>
<linearGradient id="g33"><stop offset=".000" stop-color="#ee2524"/><stop offset=".050" stop-color="#ee2524"/><stop offset=".091" stop-color="#f23727"/><stop offset=".131" stop-color="#f95a2d"/><stop offset=".172" stop-color="#fd8739"/><stop offset=".213" stop-color="#fbc54b"/><stop offset=".253" stop-color="#e0d857"/><stop offset=".294" stop-color="#a9d573"/><stop offset=".335" stop-color="#7bc8a4"/><stop offset=".375" stop-color="#56a2e3"/><stop offset=".416" stop-color="#4052d9"/><stop offset=".457" stop-color="#6a1a99"/><stop offset="1" stop-color="#6a1a99"/></linearGradient>
<linearGradient id="g34"><stop offset=".000" stop-color="#f9562c"/><stop offset=".141" stop-color="#f74c2a"/><stop offset=".283" stop-color="#f44229"/><stop offset=".424" stop-color="#f23827"/><stop offset=".565" stop-color="#f02e25"/><stop offset=".707" stop-color="#ee2524"/><stop offset="1" stop-color="#ee2524"/></linearGradient>
<linearGradient id="g35"><stop offset=".000" stop-color="#ee2524"/><stop offset=".050" stop-color="#ee2524"/><stop offset=".091" stop-color="#f23627"/><stop offset=".131" stop-color="#f9592d"/><stop offset=".172" stop-color="#fd8639"/><stop offset=".213" stop-color="#fcc44b"/><stop offset=".254" stop-color="#e2d856"/><stop offset=".294" stop-color="#aad572"/><stop offset=".335" stop-color="#7cc9a1"/><stop offset=".376" stop-color="#57a4e2"/><stop offset=".417" stop-color="#4055da"/><stop offset=".457" stop-color="#681b9a"/><stop offset="1" stop-color="#681b9a"/></linearGradient>
<linearGradient id="g36"><stop offset=".000" stop-color="#f9562c"/><stop offset=".142" stop-color="#f74c2a"/><stop offset=".284" stop-color="#f44229"/><stop offset=".427" stop-color="#f23827"/><stop offset=".569" stop-color="#f02e25"/><stop offset=".711" stop-color="#ee2524"/><stop offset="1" stop-color="#ee2524"/></linearGradient>
<linearGradient id="g37"><stop offset=".000" stop-color="#ee2524"/><stop offset=".050" stop-color="#ee2524"/><stop offset=".091" stop-color="#f23627"/><stop offset=".132" stop-color="#f9582c"/><stop offset=".172" stop-color="#fd8438"/><stop offset=".213" stop-color="#fcc34a"/><stop offset=".254" stop-color="#e4d855"/><stop offset=".295" stop-color="#acd670"/><stop offset=".336" stop-color="#7eca9e"/><stop offset=".376" stop-color="#58a6e0"/><stop offset=".417" stop-color="#4158db"/><stop offset=".458" stop-color="#661c9c"/><stop offset="1" stop-color="#661c9c"/></linearGradient>
<linearGradient id="g38"><stop offset=".000" stop-color="#f9562c"/><stop offset=".143" stop-color="#f74c2a"/><stop offset=".286" stop-color="#f44229"/><stop offset=".429" stop-color="#f23827"/><stop offset=".571" stop-color="#f02e25"/><stop offset=".714" stop-color="#ee2524"/><stop offset="1" stop-color="#ee2524"/></linearGradient>
<linearGradient id="g39"><stop offset=".000" stop-color="#ee2524"/><stop offset=".050" stop-color="#ee2524"/><stop offset=".091" stop-color="#f23527"/><stop offset=".132" stop-color="#f9572c"/><stop offset=".173" stop-color="#fc8238"/><stop offset=".214" stop-color="#fdc24a"/><stop offset=".255" stop-color="#e6d854"/><stop offset=".295" stop-color="#aed66f"/><stop offset=".336" stop-color="#7fcb9b"/><stop offset=".377" stop-color="#59a8df"/><stop offset=".418" stop-color="#425bdd"/><stop offset=".459" stop-color="#641d9e"/><stop offset="1" stop-color="#641d9e"/></linearGradient>
<linearGradient id="g40"><stop offset=".000" stop-color="#f9562c"/><stop offset=".144" stop-color="#f74c2a"/><stop offset=".287" stop-color="#f44229"/><stop offset=".431" stop-color="#f23827"/><stop offset=".574" stop-color="#f02e25"/><stop offset=".718" stop-color="#ee2524"/><stop offset="1" stop-color="#ee2524"/></linearGradient>
<linearGradient id="g41"><stop offset=".000" stop-color="#ee2524"/><stop offset=".051" stop-color="#ee2524"/><stop offset=".092" stop-color="#f13527"/><stop offset=".133" stop-color="#f9562c"/><stop offset=".173" stop-color="#fc8037"/><stop offset=".214" stop-color="#fdc049"/><stop offset=".255" stop-color="#e8d853"/><stop offset=".296" stop-color="#b0d66d"/><stop offset=".337" stop-color="#81cc98"/><stop offset=".378" stop-color="#5aaade"/><stop offset=".419" stop-color="#425ede"/><stop offset=".460" stop-color="#621da0"/><stop offset="1" stop-color="#621da0"/></linearGradient>
<linearGradient id="g42"><stop offset=".000" stop-color="#f9562c"/><stop offset=".144" stop-color="#f74c2a"/><stop offset=".288" stop-color="#f44229"/><stop offset=".432" stop-color="#f23827"/><stop offset=".576" stop-color="#f02e25"/><stop offset=".720" stop-color="#ee2524"/><stop offset="1" stop-color="#ee2524"/></linearGradient>
<linearGradient id="g43"><stop offset=".000" stop-color="#ee2524"/><stop offset=".051" stop-color="#ee2524"/><stop offset=".092" stop-color="#f13426"/><stop offset=".133" stop-color="#f9542c"/><stop offset=".174" stop-color="#fc7f37"/><stop offset=".215" stop-color="#fdbd49"/><stop offset=".256" stop-color="#ebd852"/><stop offset=".297" stop-color="#b2d76c"/><stop offset=".338" stop-color="#83cd95"/><stop offset=".379" stop-color="#5baddc"/><stop offset=".420" stop-color="#4361df"/><stop offset=".461" stop-color="#601ea2"/><stop offset="1" stop-color="#601ea2"/></linearGradient>
<linearGradient id="g44"><stop offset=".000" stop-color="#f9562c"/><stop offset=".144" stop-color="#f74c2a"/><stop offset=".288" stop-color="#f44229"/><stop offset=".433" stop-color="#f23827"/><stop offset=".577" stop-color="#f02e25"/><stop offset=".721" stop-color="#ee2524"/><stop offset="1" stop-color="#ee2524"/></linearGradient>
<linearGradient id="g45"><stop offset=".000" stop-color="#ee2524"/><stop offset=".052" stop-color="#ee2524"/><stop offset=".093" stop-color="#f13426"/><stop offset=".134" stop-color="#f8532c"/><stop offset=".175" stop-color="#fc7d37"/><stop offset=".216" stop-color="#fdba48"/><stop offset=".257" stop-color="#edd851"/><stop offset=".298" stop-color="#b3d76a"/><stop offset=".339" stop-color="#84ce92"/><stop offset=".380" stop-color="#5bafdb"/><stop offset=".421" stop-color="#4465e0"/><stop offset=".462" stop-color="#5e1fa3"/><stop offset="1" stop-color="#5e1fa3"/></linearGradient>
<linearGradient id="g46"><stop offset=".000" stop-color="#f9562c"/><stop offset=".144" stop-color="#f74c2a"/><stop offset=".289" stop-color="#f44229"/><stop offset=".433" stop-color="#f23827"/><stop offset=".578" stop-color="#f02e25"/><stop offset=".722" stop-color="#ee2524"/><stop offset="1" stop-color="#ee2524"/></linearGradient>
<linearGradient id="g47"><stop offset=".000" stop-color="#ee2524"/><stop offset=".053" stop-color="#ee2524"/><stop offset=".094" stop-color="#f13326"/><stop offset=".135" stop-color="#f8522b"/><stop offset=".176" stop-color="#fc7b36"/><stop offset=".217" stop-color="#fdb847"/><stop offset=".258" stop-color="#efd850"/><stop offset=".299" stop-color="#b5d769"/><stop offset=".341" stop-color="#86cf90"/><stop offset=".382" stop-color="#5cb1da"/><stop offset=".423" stop-color="#4568e2"/><stop offset=".464" stop-color="#5b20a5"/><stop offset="1" stop-color="#5b20a5"/></linearGradient>
<linearGradient id="g48"><stop offset=".000" stop-color="#f9562c"/><stop offset=".144" stop-color="#f74c2a"/><stop offset=".288" stop-color="#f44229"/><stop offset=".433" stop-color="#f23827"/><stop offset=".577" stop-color="#f02e25"/><stop offset=".721" stop-color="#ee2524"/><stop offset="1" stop-color="#ee2524"/></linearGradient>
<linearGradient id="g49"><stop offset=".000" stop-color="#ee2524"/><stop offset=".055" stop-color="#ee2524"/><stop offset=".096" stop-color="#f13326"/><stop offset=".137" stop-color="#f8512b"/><stop offset=".178" stop-color="#fc7a36"/><stop offset=".219" stop-color="#fdb546"/><stop offset=".260" stop-color="#f0d750"/><stop offset=".301" stop-color="#b7d868"/><stop offset=".342" stop-color="#88cf8e"/><stop offset=".383" stop-color="#5db3d8"/><stop offset=".425" stop-color="#456be3"/><stop offset=".466" stop-color="#5921a7"/><stop offset="1" stop-color="#5921a7"/></linearGradient>
<linearGradient id="g50"><stop offset=".000" stop-color="#f9562c"/><stop offset=".144" stop-color="#f74c2a"/><stop offset=".288" stop-color="#f44229"/><stop offset=".432" stop-color="#f23827"/><stop offset=".577" stop-color="#f02e25"/><stop offset=".721" stop-color="#ee2524"/><stop offset="1" stop-color="#ee2524"/></linearGradient>
<linearGradient id="g51"><stop offset=".000" stop-color="#ee2524"/><stop offset=".056" stop-color="#ee2524"/><stop offset=".097" stop-color="#f13226"/><stop offset=".138" stop-color="#f8502b"/><stop offset=".179" stop-color="#fc7835"/><stop offset=".221" stop-color="#fdb245"/><stop offset=".262" stop-color="#f1d64f"/><stop offset=".303" stop-color="#b9d866"/><stop offset=".344" stop-color="#8ad08c"/><stop offset=".385" stop-color="#5fb6d7"/><stop offset=".426" stop-color="#466fe4"/><stop offset=".468" stop-color="#5622aa"/><stop offset="1" stop-color="#5622aa"/></linearGradient>
<linearGradient id="g52"><stop offset=".000" stop-color="#f9562c"/><stop offset=".144" stop-color="#f74c2a"/><stop offset=".289" stop-color="#f44229"/><stop offset=".433" stop-color="#f23827"/><stop offset=".578" stop-color="#f02e25"/><stop offset=".722" stop-color="#ee2524"/><stop offset="1" stop-color="#ee2524"/></linearGradient>
<linearGradient id="g53"><stop offset=".000" stop-color="#ee2524"/><stop offset=".057" stop-color="#ee2524"/><stop offset=".098" stop-color="#f13226"/><stop offset=".139" stop-color="#f74e2b"/><stop offset=".181" stop-color="#fb7635"/><stop offset=".222" stop-color="#fdae44"/><stop offset=".263" stop-color="#f2d44f"/><stop offset=".305" stop-color="#bdd864"/><stop offset=".346" stop-color="#8dd089"/><stop offset=".387" stop-color="#61b8d3"/><stop offset=".428" stop-color="#4775e7"/><stop offset=".470" stop-color="#5224ad"/><stop offset="1" stop-color="#5224ad"/></linearGradient>
<linearGradient id="g54"><stop offset=".000" stop-color="#f9562c"/><stop offset=".144" stop-color="#f74c2a"/><stop offset=".289" stop-color="#f44229"/><stop offset=".433" stop-color="#f23827"/><stop offset=".577" stop-color="#f02e25"/><stop offset=".721" stop-color="#ee2524"/><stop offset="1" stop-color="#ee2524"/></linearGradient>
<linearGradient id="g55"><stop offset=".000" stop-color="#ee2524"/><stop offset=".059" stop-color="#ee2524"/><stop offset=".100" stop-color="#f13126"/><stop offset=".141" stop-color="#f74d2b"/><stop offset=".183" stop-color="#fb7434"/><stop offset=".224" stop-color="#fdab43"/><stop offset=".265" stop-color="#f3d34f"/><stop offset=".307" stop-color="#c1d863"/><stop offset=".348" stop-color="#90d187"/><stop offset=".390" stop-color="#63bace"/><stop offset=".431" stop-color="#497ae9"/><stop offset=".472" stop-color="#4e26b0"/><stop offset="1" stop-color="#4e26b0"/></linearGradient>
<linearGradient id="g56"><stop offset=".000" stop-color="#f9562c"/><stop offset=".144" stop-color="#f74c2a"/><stop offset=".288" stop-color="#f44229"/><stop offset=".432" stop-color="#f23827"/><stop offset=".576" stop-color="#f02e25"/><stop offset=".721" stop-color="#ee2524"/><stop offset="1" stop-color="#ee2524"/></linearGradient>
<linearGradient id="g57"><stop offset=".000" stop-color="#ee2524"/><stop offset=".060" stop-color="#ee2524"/><stop offset=".102" stop-color="#f13026"/><stop offset=".143" stop-color="#f74c2a"/><stop offset=".185" stop-color="#fb7233"/><stop offset=".226" stop-color="#fda742"/><stop offset=".268" stop-color="#f4d14e"/><stop offset=".309" stop-color="#c4d861"/><stop offset=".351" stop-color="#93d185"/><stop offset=".392" stop-color="#66bbc9"/><stop offset=".434" stop-color="#4a7feb"/><stop offset=".475" stop-color="#4b28b4"/><stop offset="1" stop-color="#4b28b4"/></linearGradient>
<linearGradient id="g58"><stop offset=".000" stop-color="#f9562c"/><stop offset=".144" stop-color="#f74c2a"/><stop offset=".288" stop-color="#f44229"/><stop offset=".432" stop-color="#f23827"/><stop offset=".575" stop-color="#f02e25"/><stop offset=".719" stop-color="#ee2524"/><stop offset="1" stop-color="#ee2524"/></linearGradient>
<linearGradient id="g59"><stop offset=".000" stop-color="#ee2524"/><stop offset=".062" stop-color="#ee2524"/><stop offset=".104" stop-color="#f03026"/><stop offset=".145" stop-color="#f64a2a"/><stop offset=".187" stop-color="#fb7033"/><stop offset=".229" stop-color="#fda441"/><stop offset=".270" stop-color="#f5d04e"/><stop offset=".312" stop-color="#c8d860"/><stop offset=".353" stop-color="#96d282"/><stop offset=".395" stop-color="#69bdc4"/><stop offset=".437" stop-color="#4b85ed"/><stop offset=".478" stop-color="#492cb8"/><stop offset="1" stop-color="#492cb8"/></linearGradient>
<linearGradient id="g60"><stop offset=".000" stop-color="#f9562c"/><stop offset=".143" stop-color="#f74c2a"/><stop offset=".287" stop-color="#f44229"/><stop offset=".430" stop-color="#f23827"/><stop offset=".574" stop-color="#f02e25"/><stop offset=".717" stop-color="#ee2524"/><stop offset="1" stop-color="#ee2524"/></linearGradient>
<linearGradient id="g61"><stop offset=".000" stop-color="#ee2524"/><stop offset=".064" stop-color="#ee2524"/><stop offset=".106" stop-color="#f03026"/><stop offset=".148" stop-color="#f6492a"/><stop offset=".189" stop-color="#fb6e32"/><stop offset=".231" stop-color="#fda040"/><stop offset=".273" stop-color="#f6ce4d"/><stop offset=".315" stop-color="#ccd85f"/><stop offset=".356" stop-color="#99d280"/><stop offset=".398" stop-color="#6bbfbf"/><stop offset=".440" stop-color="#4c8aef"/><stop offset=".482" stop-color="#4831bc"/><stop offset="1" stop-color="#4831bc"/></linearGradient>
<linearGradient id="g62"><stop offset=".000" stop-color="#f9562c"/><stop offset=".143" stop-color="#f74c2a"/><stop offset=".286" stop-color="#f44229"/><stop offset=".429" stop-color="#f23827"/><stop offset=".572" stop-color="#f02e25"/><stop offset=".715" stop-color="#ee2524"/><stop offset="1" stop-color="#ee2524"/></linearGradient>
<linearGradient id="g63"><stop offset=".000" stop-color="#ee2524"/><stop offset=".066" stop-color="#ee2524"/><stop offset=".108" stop-color="#f02f26"/><stop offset=".150" stop-color="#f6482a"/><stop offset=".192" stop-color="#fb6c32"/><stop offset=".234" stop-color="#fd9d3f"/><stop offset=".276" stop-color="#f7cd4d"/><stop offset=".318" stop-color="#cfd85d"/><stop offset=".359" stop-color="#9cd37e"/><stop offset=".401" stop-color="#6ec0bb"/><stop offset=".443" stop-color="#4e8fef"/><stop offset=".485" stop-color="#4735c0"/><stop offset="1" stop-color="#4735c0"/></linearGradient>
<linearGradient id="g64"><stop offset=".000" stop-color="#f9562c"/><stop offset=".142" stop-color="#f74c2a"/><stop offset=".285" stop-color="#f44229"/><stop offset=".427" stop-color="#f23827"/><stop offset=".570" stop-color="#f02e25"/><stop offset=".712" stop-color="#ee2524"/><stop offset="1" stop-color="#ee2524"/></linearGradient>
<linearGradient id="g65"><stop offset=".000" stop-color="#ee2524"/><stop offset=".069" stop-color="#ee2524"/><stop offset=".111" stop-color="#f02e26"/><stop offset=".153" stop-color="#f54629"/><stop offset=".195" stop-color="#fa6931"/><stop offset=".237" stop-color="#fd983e"/><stop offset=".279" stop-color="#f8cb4c"/><stop offset=".321" stop-color="#d4d85b"/><stop offset=".363" stop-color="#a0d47a"/><stop offset=".405" stop-color="#72c3b3"/><stop offset=".447" stop-color="#5094ec"/><stop offset=".489" stop-color="#453cc6"/><stop offset="1" stop-color="#453cc6"/></linearGradient>
<linearGradient id="g66"><stop offset=".000" stop-color="#f9562c"/><stop offset=".142" stop-color="#f74c2a"/><stop offset=".284" stop-color="#f44229"/><stop offset=".425" stop-color="#f23827"/><stop offset=".567" stop-color="#f02e25"/><stop offset=".709" stop-color="#ee2524"/><stop offset="1" stop-color="#ee2524"/></linearGradient>
<linearGradient id="g67"><stop offset=".000" stop-color="#ee2524"/><stop offset=".073" stop-color="#ee2524"/><stop offset=".115" stop-color="#f02e25"/><stop offset=".157" stop-color="#f54429"/><stop offset=".199" stop-color="#fa6630"/><stop offset=".241" stop-color="#fd933d"/><stop offset=".283" stop-color="#f9c84c"/><stop offset=".325" stop-color="#dad859"/><stop offset=".367" stop-color="#a4d477"/><stop offset=".409" stop-color="#76c5ac"/><stop offset=".451" stop-color="#539ae8"/><stop offset=".493" stop-color="#4343cd"/><stop offset="1" stop-color="#4343cd"/></linearGradient>
<linearGradient id="g68"><stop offset=".000" stop-color="#f9562c"/><stop offset=".141" stop-color="#f74c2a"/><stop offset=".282" stop-color="#f44229"/><stop offset=".423" stop-color="#f23827"/><stop offset=".564" stop-color="#f02e25"/><stop offset=".705" stop-color="#ee2524"/><stop offset="1" stop-color="#ee2524"/></linearGradient>
<linearGradient id="g69"><stop offset=".000" stop-color="#ee2524"/><stop offset=".076" stop-color="#ee2524"/><stop offset=".119" stop-color="#f02d25"/><stop offset=".161" stop-color="#f54329"/><stop offset=".203" stop-color="#fa6330"/><stop offset=".245" stop-color="#fd8e3b"/><stop offset=".287" stop-color="#fbc64b"/><stop offset=".329" stop-color="#dfd857"/><stop offset=".371" stop-color="#a9d573"/><stop offset=".413" stop-color="#7ac8a4"/><stop offset=".455" stop-color="#55a0e4"/><stop offset=".497" stop-color="#404ad4"/><stop offset="1" stop-color="#404ad4"/></linearGradient>
<linearGradient id="g70"><stop offset=".000" stop-color="#f9562c"/><stop offset=".140" stop-color="#f74c2a"/><stop offset=".280" stop-color="#f44229"/><stop offset=".421" stop-color="#f23827"/><stop offset=".561" stop-color="#f02e25"/><stop offset=".701" stop-color="#ee2524"/><stop offset="1" stop-color="#ee2524"/></linearGradient>
<linearGradient id="g71"><stop offset=".000" stop-color="#ee2524"/><stop offset=".080" stop-color="#ee2524"/><stop offset=".122" stop-color="#f02d25"/><stop offset=".164" stop-color="#f44129"/><stop offset=".206" stop-color="#fa612f"/><stop offset=".249" stop-color="#fd8a3a"/><stop offset=".291" stop-color="#fcc44b"/><stop offset=".333" stop-color="#e3d855"/><stop offset=".375" stop-color="#acd670"/><stop offset=".417" stop-color="#7eca9e"/><stop offset=".459" stop-color="#57a4e2"/><stop offset=".502" stop-color="#3f51d9"/><stop offset="1" stop-color="#3f51d9"/></linearGradient>
<linearGradient id="g72"><stop offset=".000" stop-color="#f9562c"/><stop offset=".140" stop-color="#f74c2a"/><stop offset=".279" stop-color="#f44229"/><stop offset=".419" stop-color="#f23827"/><stop offset=".559" stop-color="#f02e25"/><stop offset=".698" stop-color="#ee2524"/><stop offset="1" stop-color="#ee2524"/></linearGradient>
<linearGradient id="g73"><stop offset=".000" stop-color="#ee2524"/><stop offset=".083" stop-color="#ee2524"/><stop offset=".125" stop-color="#f02c25"/><stop offset=".167" stop-color="#f44028"/><stop offset=".209" stop-color="#fa602f"/><stop offset=".251" stop-color="#fd8839"/><stop offset=".294" stop-color="#fcc34a"/><stop offset=".336" stop-color="#e7d854"/><stop offset=".378" stop-color="#b0d66d"/><stop offset=".420" stop-color="#81cc99"/><stop offset=".463" stop-color="#59a9df"/><stop offset=".505" stop-color="#4159dc"/><stop offset="1" stop-color="#4159dc"/></linearGradient>
<linearGradient id="g74"><stop offset=".000" stop-color="#f9562c"/><stop offset=".139" stop-color="#f74c2a"/><stop offset=".279" stop-color="#f44229"/><stop offset=".418" stop-color="#f23827"/><stop offset=".557" stop-color="#f02e25"/><stop offset=".697" stop-color="#ee2524"/><stop offset="1" stop-color="#ee2524"/></linearGradient>
<linearGradient id="g75"><stop offset=".000" stop-color="#ee2524"/><stop offset=".085" stop-color="#ee2524"/><stop offset=".128" stop-color="#f02c25"/><stop offset=".170" stop-color="#f44028"/><stop offset=".212" stop-color="#fa5e2e"/><stop offset=".255" stop-color="#fd8539"/><stop offset=".297" stop-color="#fdc049"/><stop offset=".339" stop-color="#ecd852"/><stop offset=".382" stop-color="#b4d76a"/><stop offset=".424" stop-color="#85cf90"/><stop offset=".466" stop-color="#5cb1da"/><stop offset=".509" stop-color="#4466e1"/><stop offset="1" stop-color="#4466e1"/></linearGradient>
<linearGradient id="g76"><stop offset=".000" stop-color="#f9562c"/><stop offset=".139" stop-color="#f74c2a"/><stop offset=".278" stop-color="#f44229"/><stop offset=".417" stop-color="#f23827"/><stop offset=".556" stop-color="#f02e25"/><stop offset=".695" stop-color="#ee2524"/><stop offset="1" stop-color="#ee2524"/></linearGradient>
<linearGradient id="g77"><stop offset=".000" stop-color="#ee2524"/><stop offset=".088" stop-color="#ee2524"/><stop offset=".131" stop-color="#f02c25"/><stop offset=".173" stop-color="#f43f28"/><stop offset=".215" stop-color="#fa5d2e"/><stop offset=".258" stop-color="#fc8338"/><stop offset=".300" stop-color="#fdbb48"/><stop offset=".343" stop-color="#f0d850"/><stop offset=".385" stop-color="#b8d866"/><stop offset=".428" stop-color="#8bd08b"/><stop offset=".470" stop-color="#60b8d4"/><stop offset=".513" stop-color="#4774e6"/><stop offset="1" stop-color="#4774e6"/></linearGradient>
<linearGradient id="g78"><stop offset=".000" stop-color="#f9562c"/><stop offset=".138" stop-color="#f74c2a"/><stop offset=".277" stop-color="#f44229"/><stop offset=".415" stop-color="#f23827"/><stop offset=".554" stop-color="#f02e25"/><stop offset=".692" stop-color="#ee2524"/><stop offset="1" stop-color="#ee2524"/></linearGradient>
<linearGradient id="g79"><stop offset=".000" stop-color="#ee2524"/><stop offset=".091" stop-color="#ee2524"/><stop offset=".134" stop-color="#f02c25"/><stop offset=".176" stop-color="#f43e28"/><stop offset=".219" stop-color="#f95b2d"/><stop offset=".261" stop-color="#fc8037"/><stop offset=".304" stop-color="#fdb747"/><stop offset=".346" stop-color="#f1d64f"/><stop offset=".389" stop-color="#bed864"/><stop offset=".432" stop-color="#91d186"/><stop offset=".474" stop-color="#66bbca"/><stop offset=".517" stop-color="#4a82ec"/><stop offset="1" stop-color="#4a82ec"/></linearGradient>
<linearGradient id="g80"><stop offset=".000" stop-color="#f9562c"/><stop offset=".138" stop-color="#f74c2a"/><stop offset=".276" stop-color="#f44229"/><stop offset=".414" stop-color="#f23827"/><stop offset=".552" stop-color="#f02e25"/><stop offset=".690" stop-color="#ee2524"/><stop offset="1" stop-color="#ee2524"/></linearGradient>
<linearGradient id="g81"><stop offset=".000" stop-color="#ee2524"/><stop offset=".094" stop-color="#ee2524"/><stop offset=".137" stop-color="#ef2c25"/><stop offset=".180" stop-color="#f43e28"/><stop offset=".222" stop-color="#f95a2d"/><stop offset=".265" stop-color="#fc7e37"/><stop offset=".308" stop-color="#fdb245"/><stop offset=".350" stop-color="#f3d34f"/><stop offset=".393" stop-color="#c5d861"/><stop offset=".436" stop-color="#96d282"/><stop offset=".478" stop-color="#6cbfbf"/><stop offset=".521" stop-color="#4e8eef"/><stop offset="1" stop-color="#4e8eef"/></linearGradient>
<linearGradient id="g82"><stop offset=".000" stop-color="#f9562c"/><stop offset=".138" stop-color="#f74c2a"/><stop offset=".275" stop-color="#f44229"/><stop offset=".413" stop-color="#f23827"/><stop offset=".550" stop-color="#f02e25"/><stop offset=".688" stop-color="#ee2524"/><stop offset="1" stop-color="#ee2524"/></linearGradient>
<linearGradient id="g83"><stop offset=".000" stop-color="#ee2524"/><stop offset=".097" stop-color="#ee2524"/><stop offset=".140" stop-color="#ef2c25"/><stop offset=".183" stop-color="#f33d28"/><stop offset=".226" stop-color="#f9592d"/><stop offset=".269" stop-color="#fc7c36"/><stop offset=".312" stop-color="#fdaf44"/><stop offset=".355" stop-color="#f4d14e"/><stop offset=".398" stop-color="#cad85f"/><stop offset=".441" stop-color="#9cd37e"/><stop offset=".484" stop-color="#71c2b4"/><stop offset=".527" stop-color="#5298e9"/><stop offset="1" stop-color="#5298e9"/></linearGradient>
<linearGradient id="g84"><stop offset=".000" stop-color="#f9562c"/><stop offset=".138" stop-color="#f74c2a"/><stop offset=".276" stop-color="#f44229"/><stop offset=".414" stop-color="#f23827"/><stop offset=".552" stop-color="#f02e25"/><stop offset=".690" stop-color="#ee2524"/><stop offset="1" stop-color="#ee2524"/></linearGradient>
<linearGradient id="g85"><stop offset=".000" stop-color="#ee2524"/><stop offset=".098" stop-color="#ee2524"/><stop offset=".142" stop-color="#f02c25"/><stop offset=".185" stop-color="#f43f28"/><stop offset=".229" stop-color="#f95b2d"/><stop offset=".272" stop-color="#fc7e37"/><stop offset=".316" stop-color="#fdaf45"/><stop offset=".359" stop-color="#f4d14e"/><stop offset=".403" stop-color="#cdd85e"/><stop offset=".446" stop-color="#a0d47a"/><stop offset=".490" stop-color="#77c6aa"/><stop offset=".533" stop-color="#56a3e2"/><stop offset="1" stop-color="#56a3e2"/></linearGradient>
<linearGradient id="g86"><stop offset=".000" stop-color="#f9562c"/><stop offset=".138" stop-color="#f74c2a"/><stop offset=".277" stop-color="#f44229"/><stop offset=".415" stop-color="#f23827"/><stop offset=".554" stop-color="#f02e25"/><stop offset=".692" stop-color="#ee2524"/><stop offset="1" stop-color="#ee2524"/></linearGradient>
<linearGradient id="g87"><stop offset=".000" stop-color="#ee2524"/><stop offset=".100" stop-color="#ee2524"/><stop offset=".144" stop-color="#f02d25"/><stop offset=".188" stop-color="#f44028"/><stop offset=".232" stop-color="#fa5d2e"/><stop offset=".276" stop-color="#fc7f37"/><stop offset=".320" stop-color="#fdb045"/><stop offset=".364" stop-color="#f4d04e"/><stop offset=".408" stop-color="#d0d85d"/><stop offset=".452" stop-color="#a4d477"/><stop offset=".496" stop-color="#7dc99f"/><stop offset=".540" stop-color="#5baedc"/><stop offset="1" stop-color="#5baedc"/></linearGradient>
<linearGradient id="g88"><stop offset=".000" stop-color="#f9562c"/><stop offset=".139" stop-color="#f74c2a"/><stop offset=".277" stop-color="#f44229"/><stop offset=".416" stop-color="#f23827"/><stop offset=".555" stop-color="#f02e25"/><stop offset=".693" stop-color="#ee2524"/><stop offset="1" stop-color="#ee2524"/></linearGradient>
<linearGradient id="g89"><stop offset=".000" stop-color="#ee2524"/><stop offset=".101" stop-color="#ee2524"/><stop offset=".146" stop-color="#f02e25"/><stop offset=".191" stop-color="#f54229"/><stop offset=".235" stop-color="#fa5e2e"/><stop offset=".280" stop-color="#fc8037"/><stop offset=".325" stop-color="#fdb045"/><stop offset=".369" stop-color="#f5d04e"/><stop offset=".414" stop-color="#d4d85b"/><stop offset=".459" stop-color="#a9d573"/><stop offset=".504" stop-color="#83cd95"/><stop offset=".548" stop-color="#60b8d3"/><stop offset="1" stop-color="#60b8d3"/></linearGradient>
<linearGradient id="g90"><stop offset=".000" stop-color="#f9562c"/><stop offset=".139" stop-color="#f74c2a"/><stop offset=".278" stop-color="#f44229"/><stop offset=".416" stop-color="#f23827"/><stop offset=".555" stop-color="#f02e25"/><stop offset=".694" stop-color="#ee2524"/><stop offset="1" stop-color="#ee2524"/></linearGradient>
<linearGradient id="g91"><stop offset=".000" stop-color="#ee2524"/><stop offset=".103" stop-color="#ee2524"/><stop offset=".149" stop-color="#f02f26"/><stop offset=".194" stop-color="#f54429"/><stop offset=".239" stop-color="#fa602f"/><stop offset=".285" stop-color="#fc8238"/><stop offset=".330" stop-color="#fdb045"/><stop offset=".376" stop-color="#f5cf4e"/><stop offset=".421" stop-color="#d8d85a"/><stop offset=".467" stop-color="#aed66f"/><stop offset=".512" stop-color="#8ad08c"/><stop offset=".558" stop-color="#69bdc4"/><stop offset="1" stop-color="#69bdc4"/></linearGradient>
<linearGradient id="g92"><stop offset=".000" stop-color="#f9562c"/><stop offset=".139" stop-color="#f74c2a"/><stop offset=".278" stop-color="#f44229"/><stop offset=".417" stop-color="#f23827"/><stop offset=".556" stop-color="#f02e25"/><stop offset=".695" stop-color="#ee2524"/><stop offset="1" stop-color="#ee2524"/></linearGradient>
<linearGradient id="g93"><stop offset=".000" stop-color="#ee2524"/><stop offset=".105" stop-color="#ee2524"/><stop offset=".151" stop-color="#f03026"/><stop offset=".198" stop-color="#f54629"/><stop offset=".244" stop-color="#fa622f"/><stop offset=".290" stop-color="#fc8338"/><stop offset=".336" stop-color="#fdb145"/><stop offset=".383" stop-color="#f6ce4d"/><stop offset=".429" stop-color="#dbd858"/><stop offset=".475" stop-color="#b2d76b"/><stop offset=".521" stop-color="#91d186"/><stop offset=".567" stop-color="#71c2b5"/><stop offset="1" stop-color="#71c2b5"/></linearGradient>
<linearGradient id="g94"><stop offset=".000" stop-color="#f9582c"/><stop offset=".140" stop-color="#f74d2b"/><stop offset=".280" stop-color="#f54329"/><stop offset=".420" stop-color="#f23827"/><stop offset=".560" stop-color="#f02e26"/><stop offset=".700" stop-color="#ee2524"/><stop offset="1" stop-color="#ee2524"/></linearGradient>
<linearGradient id="g95"><stop offset=".000" stop-color="#ee2524"/><stop offset=".106" stop-color="#ee2524"/><stop offset=".153" stop-color="#f13126"/><stop offset=".201" stop-color="#f6482a"/><stop offset=".248" stop-color="#fa6430"/><stop offset=".295" stop-color="#fd8539"/><stop offset=".342" stop-color="#fdb245"/><stop offset=".389" stop-color="#f6ce4d"/><stop offset=".436" stop-color="#ded857"/><stop offset=".483" stop-color="#b6d868"/><stop offset=".531" stop-color="#97d281"/><stop offset=".578" stop-color="#79c7a7"/><stop offset="1" stop-color="#79c7a7"/></linearGradient>
<linearGradient id="g96"><stop offset=".000" stop-color="#f9592d"/><stop offset=".141" stop-color="#f74e2b"/><stop offset=".282" stop-color="#f54429"/><stop offset=".423" stop-color="#f23927"/><stop offset=".563" stop-color="#f02f26"/><stop offset=".704" stop-color="#ee2524"/><stop offset="1" stop-color="#ee2524"/></linearGradient>
<linearGradient id="g97"><stop offset=".000" stop-color="#ee2524"/><stop offset=".108" stop-color="#ee2524"/><stop offset=".156" stop-color="#f13326"/><stop offset=".204" stop-color="#f64a2a"/><stop offset=".252" stop-color="#fa6731"/><stop offset=".300" stop-color="#fd8739"/><stop offset=".348" stop-color="#fdb346"/><stop offset=".396" stop-color="#f6cd4d"/><stop offset=".444" stop-color="#e1d856"/><stop offset=".492" stop-color="#bbd865"/><stop offset=".540" stop-color="#9ed37c"/><stop offset=".588" stop-color="#81cc98"/><stop offset="1" stop-color="#81cc98"/></linearGradient>
<linearGradient id="g98"><stop offset=".000" stop-color="#f95a2d"/><stop offset=".141" stop-color="#f84f2b"/><stop offset=".283" stop-color="#f54429"/><stop offset=".424" stop-color="#f33927"/><stop offset=".566" stop-color="#f02f26"/><stop offset=".707" stop-color="#ee2524"/><stop offset="1" stop-color="#ee2524"/></linearGradient>
<linearGradient id="g99"><stop offset=".000" stop-color="#ee2524"/><stop offset=".109" stop-color="#ee2524"/><stop offset=".158" stop-color="#f13427"/><stop offset=".207" stop-color="#f74d2b"/><stop offset=".256" stop-color="#fb6a31"/><stop offset=".306" stop-color="#fd893a"/><stop offset=".355" stop-color="#fdb346"/><stop offset=".404" stop-color="#f7cd4d"/><stop offset=".453" stop-color="#e5d854"/><stop offset=".502" stop-color="#c2d863"/><stop offset=".551" stop-color="#a5d476"/><stop offset=".600" stop-color="#89d08c"/><stop offset="1" stop-color="#89d08c"/></linearGradient>
<linearGradient id="g100"><stop offset=".000" stop-color="#f95c2d"/><stop offset=".142" stop-color="#f8502b"/><stop offset=".284" stop-color="#f54529"/><stop offset=".426" stop-color="#f33a27"/><stop offset=".568" stop-color="#f02f26"/><stop offset=".710" stop-color="#ee2524"/><stop offset="1" stop-color="#ee2524"/></linearGradient>
<linearGradient id="g101"><stop offset=".000" stop-color="#ee2524"/><stop offset=".111" stop-color="#ee2524"/><stop offset=".161" stop-color="#f23627"/><stop offset=".211" stop-color="#f8502b"/><stop offset=".261" stop-color="#fb6c32"/><stop offset=".311" stop-color="#fd8b3a"/><stop offset=".361" stop-color="#fdb446"/><stop offset=".411" stop-color="#f7cc4d"/><stop offset=".461" stop-color="#e9d853"/><stop offset=".511" stop-color="#c8d860"/><stop offset=".561" stop-color="#acd671"/><stop offset=".611" stop-color="#93d185"/><stop offset="1" stop-color="#93d185"/></linearGradient>
<linearGradient id="g102"><stop offset=".000" stop-color="#fa5d2e"/><stop offset=".142" stop-color="#f8522b"/><stop offset=".285" stop-color="#f54629"/><stop offset=".427" stop-color="#f33b28"/><stop offset=".570" stop-color="#f02f26"/><stop offset=".712" stop-color="#ee2524"/><stop offset="1" stop-color="#ee2524"/></linearGradient>
<linearGradient id="g103"><stop offset=".000" stop-color="#ee2524"/><stop offset=".114" stop-color="#ee2524"/><stop offset=".165" stop-color="#f23827"/><stop offset=".216" stop-color="#f8522b"/><stop offset=".267" stop-color="#fb6e32"/><stop offset=".318" stop-color="#fd8c3b"/><stop offset=".369" stop-color="#fdb346"/><stop offset=".420" stop-color="#f8cb4c"/><stop offset=".471" stop-color="#edd851"/><stop offset=".522" stop-color="#cfd85d"/><stop offset=".573" stop-color="#b3d76b"/><stop offset=".624" stop-color="#9cd37d"/><stop offset="1" stop-color="#9cd37d"/></linearGradient>
<linearGradient id="g104"><stop offset=".000" stop-color="#fa5e2e"/><stop offset=".143" stop-color="#f8532b"/><stop offset=".286" stop-color="#f6472a"/><stop offset=".429" stop-color="#f33b28"/><stop offset=".572" stop-color="#f03026"/><stop offset=".716" stop-color="#ee2524"/><stop offset="1" stop-color="#ee2524"/></linearGradient>
<linearGradient id="g105"><stop offset=".000" stop-color="#ee2524"/><stop offset=".117" stop-color="#ee2524"/><stop offset=".169" stop-color="#f33a27"/><stop offset=".221" stop-color="#f9542c"/><stop offset=".272" stop-color="#fb6f33"/><stop offset=".324" stop-color="#fd8c3b"/><stop offset=".376" stop-color="#fdb145"/><stop offset=".428" stop-color="#f9c94c"/><stop offset=".480" stop-color="#f1d750"/><stop offset=".532" stop-color="#d6d85a"/><stop offset=".584" stop-color="#b9d866"/><stop offset=".636" stop-color="#a4d477"/><stop offset="1" stop-color="#a4d477"/></linearGradient>
<linearGradient id="g106"><stop offset=".000" stop-color="#fa5f2f"/><stop offset=".144" stop-color="#f9542c"/><stop offset=".288" stop-color="#f6482a"/><stop offset=".431" stop-color="#f33c28"/><stop offset=".575" stop-color="#f03026"/><stop offset=".719" stop-color="#ee2524"/><stop offset="1" stop-color="#ee2524"/></linearGradient>
<linearGradient id="g107"><stop offset=".000" stop-color="#ee2524"/><stop offset=".119" stop-color="#ee2524"/><stop offset=".172" stop-color="#f33b28"/><stop offset=".225" stop-color="#f9552c"/><stop offset=".278" stop-color="#fb7033"/><stop offset=".331" stop-color="#fd8b3a"/><stop offset=".384" stop-color="#fdaf44"/><stop offset=".437" stop-color="#fac84c"/><stop offset=".490" stop-color="#f2d44f"/><stop offset=".543" stop-color="#ddd857"/><stop offset=".597" stop-color="#c3d862"/><stop offset=".650" stop-color="#add670"/><stop offset="1" stop-color="#add670"/></linearGradient>
<linearGradient id="g108"><stop offset=".000" stop-color="#fa612f"/><stop offset=".144" stop-color="#f9552c"/><stop offset=".288" stop-color="#f6482a"/><stop offset=".433" stop-color="#f33c28"/><stop offset=".577" stop-color="#f13026"/><stop offset=".721" stop-color="#ee2524"/><stop offset="1" stop-color="#ee2524"/></linearGradient>
<linearGradient id="g109"><stop offset=".000" stop-color="#ee2524"/><stop offset=".122" stop-color="#ee2524"/><stop offset=".176" stop-color="#f33c28"/><stop offset=".230" stop-color="#f9572c"/><stop offset=".284" stop-color="#fb7033"/><stop offset=".338" stop-color="#fd8b3a"/><stop offset=".392" stop-color="#fdac44"/><stop offset=".446" stop-color="#fbc64b"/><stop offset=".500" stop-color="#f4d24e"/><stop offset=".554" stop-color="#e5d855"/><stop offset=".608" stop-color="#cdd85e"/><stop offset=".662" stop-color="#b6d769"/><stop offset="1" stop-color="#b6d769"/></linearGradient>
<linearGradient id="g110"><stop offset=".000" stop-color="#fa622f"/><stop offset=".145" stop-color="#f9562c"/><stop offset=".289" stop-color="#f6492a"/><stop offset=".434" stop-color="#f33d28"/><stop offset=".579" stop-color="#f13026"/><stop offset=".723" stop-color="#ee2524"/><stop offset="1" stop-color="#ee2524"/></linearGradient>
<linearGradient id="g111"><stop offset=".000" stop-color="#ee2524"/><stop offset=".125" stop-color="#ee2524"/><stop offset=".180" stop-color="#f43e28"/><stop offset=".235" stop-color="#f9582c"/><stop offset=".290" stop-color="#fb7133"/><stop offset=".345" stop-color="#fd8a3a"/><stop offset=".400" stop-color="#fda943"/><stop offset=".455" stop-color="#fcc44b"/><stop offset=".510" stop-color="#f5cf4e"/><stop offset=".565" stop-color="#ecd851"/><stop offset=".620" stop-color="#d6d85a"/><stop offset=".675" stop-color="#c0d863"/><stop offset="1" stop-color="#c0d863"/></linearGradient>
<linearGradient id="g112"><stop offset=".000" stop-color="#fa6430"/><stop offset=".145" stop-color="#f9572c"/><stop offset=".289" stop-color="#f64a2a"/><stop offset=".434" stop-color="#f33d28"/><stop offset=".579" stop-color="#f13126"/><stop offset=".723" stop-color="#ee2524"/><stop offset="1" stop-color="#ee2524"/></linearGradient>
<linearGradient id="g113"><stop offset=".000" stop-color="#ee2524"/><stop offset=".130" stop-color="#ee2524"/><stop offset=".186" stop-color="#f43e28"/><stop offset=".242" stop-color="#f9582c"/><stop offset=".297" stop-color="#fb7033"/><stop offset=".353" stop-color="#fd8739"/><stop offset=".409" stop-color="#fda441"/><stop offset=".465" stop-color="#fdc14a"/><stop offset=".520" stop-color="#f7cc4d"/><stop offset=".576" stop-color="#f1d64f"/><stop offset=".632" stop-color="#e1d856"/><stop offset=".688" stop-color="#cdd85e"/><stop offset="1" stop-color="#cdd85e"/></linearGradient>
<linearGradient id="g114"><stop offset=".000" stop-color="#fa6630"/><stop offset=".144" stop-color="#f9592d"/><stop offset=".288" stop-color="#f74c2a"/><stop offset=".431" stop-color="#f43e28"/><stop offset=".575" stop-color="#f13126"/><stop offset=".719" stop-color="#ee2524"/><stop offset="1" stop-color="#ee2524"/></linearGradient>
<linearGradient id="g115"><stop offset=".000" stop-color="#ee2524"/><stop offset=".138" stop-color="#ee2524"/><stop offset=".194" stop-color="#f33d28"/><stop offset=".251" stop-color="#f9552c"/><stop offset=".307" stop-color="#fb6b32"/><stop offset=".363" stop-color="#fc8138"/><stop offset=".419" stop-color="#fd9a3f"/><stop offset=".475" stop-color="#fdb646"/><stop offset=".532" stop-color="#fac74b"/><stop offset=".588" stop-color="#f4d04e"/><stop offset=".644" stop-color="#ecd851"/><stop offset=".700" stop-color="#dad859"/><stop offset="1" stop-color="#dad859"/></linearGradient>
<linearGradient id="g116"><stop offset=".000" stop-color="#fa6831"/><stop offset=".143" stop-color="#f95b2d"/><stop offset=".286" stop-color="#f74d2b"/><stop offset=".429" stop-color="#f43f28"/><stop offset=".572" stop-color="#f13226"/><stop offset=".715" stop-color="#ee2524"/><stop offset="1" stop-color="#ee2524"/></linearGradient>
<linearGradient id="g117"><stop offset=".000" stop-color="#ee2524"/><stop offset=".147" stop-color="#ee2524"/><stop offset=".203" stop-color="#f33b28"/><stop offset=".260" stop-color="#f8512b"/><stop offset=".317" stop-color="#fa6630"/><stop offset=".373" stop-color="#fc7b36"/><stop offset=".430" stop-color="#fd913c"/><stop offset=".487" stop-color="#fdaa43"/><stop offset=".544" stop-color="#fdc34a"/><stop offset=".600" stop-color="#f7cb4d"/><stop offset=".657" stop-color="#f2d44f"/><stop offset=".714" stop-color="#e6d854"/><stop offset="1" stop-color="#e6d854"/></linearGradient>
<linearGradient id="g118"><stop offset=".000" stop-color="#fb6a32"/><stop offset=".142" stop-color="#fa5d2e"/><stop offset=".284" stop-color="#f74f2b"/><stop offset=".426" stop-color="#f44028"/><stop offset=".568" stop-color="#f13226"/><stop offset=".711" stop-color="#ee2524"/><stop offset="1" stop-color="#ee2524"/></linearGradient>
<linearGradient id="g119"><stop offset=".000" stop-color="#ee2524"/><stop offset=".156" stop-color="#ee2524"/><stop offset=".213" stop-color="#f33a27"/><stop offset=".270" stop-color="#f74e2b"/><stop offset=".328" stop-color="#fa622f"/><stop offset=".385" stop-color="#fb7534"/><stop offset=".442" stop-color="#fd883a"/><stop offset=".499" stop-color="#fd9f40"/><stop offset=".556" stop-color="#fdb747"/><stop offset=".613" stop-color="#fac64b"/><stop offset=".670" stop-color="#f6ce4d"/><stop offset=".727" stop-color="#f1d750"/><stop offset="1" stop-color="#f1d750"/></linearGradient>
<linearGradient id="g120"><stop offset=".000" stop-color="#fb6e33"/><stop offset=".141" stop-color="#fa602f"/><stop offset=".283" stop-color="#f8512b"/><stop offset=".424" stop-color="#f44229"/><stop offset=".565" stop-color="#f13326"/><stop offset=".707" stop-color="#ee2524"/><stop offset="1" stop-color="#ee2524"/></linearGradient>
<linearGradient id="g121"><stop offset=".000" stop-color="#ee2524"/><stop offset=".167" stop-color="#ee2524"/><stop offset=".225" stop-color="#f23827"/><stop offset=".282" stop-color="#f74b2a"/><stop offset=".339" stop-color="#fa5e2e"/><stop offset=".397" stop-color="#fb7033"/><stop offset=".454" stop-color="#fc8138"/><stop offset=".511" stop-color="#fd953d"/><stop offset=".569" stop-color="#fdab43"/><stop offset=".626" stop-color="#fdc14a"/><stop offset=".683" stop-color="#f9c94c"/><stop offset=".741" stop-color="#f4d14e"/><stop offset="1" stop-color="#f4d14e"/></linearGradient>
<linearGradient id="g122"><stop offset=".000" stop-color="#fb7234"/><stop offset=".141" stop-color="#fa6330"/><stop offset=".281" stop-color="#f8542c"/><stop offset=".422" stop-color="#f54329"/><stop offset=".562" stop-color="#f13426"/><stop offset=".703" stop-color="#ee2524"/><stop offset="1" stop-color="#ee2524"/></linearGradient>
<linearGradient id="g123"><stop offset=".000" stop-color="#ee2524"/><stop offset=".179" stop-color="#ee2524"/><stop offset=".236" stop-color="#f23727"/><stop offset=".294" stop-color="#f6482a"/><stop offset=".351" stop-color="#f95a2d"/><stop offset=".409" stop-color="#fb6a31"/><stop offset=".466" stop-color="#fc7a36"/><stop offset=".524" stop-color="#fd8b3a"/><stop offset=".582" stop-color="#fd9f40"/><stop offset=".639" stop-color="#fdb346"/><stop offset=".697" stop-color="#fcc44a"/><stop offset=".754" stop-color="#f8cb4c"/><stop offset="1" stop-color="#f8cb4c"/></linearGradient>
<linearGradient id="g124"><stop offset=".000" stop-color="#fc7635"/><stop offset=".140" stop-color="#fa6630"/><stop offset=".280" stop-color="#f9562c"/><stop offset=".420" stop-color="#f54529"/><stop offset=".560" stop-color="#f13527"/><stop offset=".700" stop-color="#ee2524"/><stop offset="1" stop-color="#ee2524"/></linearGradient>
<linearGradient id="g125"><stop offset=".000" stop-color="#ee2524"/><stop offset=".191" stop-color="#ee2524"/><stop offset=".248" stop-color="#f23527"/><stop offset=".306" stop-color="#f54529"/><stop offset=".364" stop-color="#f9552c"/><stop offset=".422" stop-color="#fa6430"/><stop offset=".479" stop-color="#fb7334"/><stop offset=".537" stop-color="#fc8238"/><stop offset=".595" stop-color="#fd933d"/><stop offset=".653" stop-color="#fda542"/><stop offset=".710" stop-color="#fdb847"/><stop offset=".768" stop-color="#fbc54b"/><stop offset="1" stop-color="#fbc54b"/></linearGradient>
<linearGradient id="g126"><stop offset=".000" stop-color="#fc7b36"/><stop offset=".139" stop-color="#fa6931"/><stop offset=".278" stop-color="#f9582d"/><stop offset=".417" stop-color="#f6472a"/><stop offset=".556" stop-color="#f23527"/><stop offset=".695" stop-color="#ee2524"/><stop offset="1" stop-color="#ee2524"/></linearGradient>
<linearGradient id="g127"><stop offset=".000" stop-color="#ee2524"/><stop offset=".205" stop-color="#ee2524"/><stop offset=".263" stop-color="#f13426"/><stop offset=".320" stop-color="#f54229"/><stop offset=".378" stop-color="#f8512b"/><stop offset=".436" stop-color="#fa5f2e"/><stop offset=".493" stop-color="#fb6c32"/><stop offset=".551" stop-color="#fc7a36"/><stop offset=".609" stop-color="#fd8739"/><stop offset=".666" stop-color="#fd973e"/><stop offset=".724" stop-color="#fda843"/><stop offset=".782" stop-color="#fdb947"/><stop offset="1" stop-color="#fdb947"/></linearGradient>
<linearGradient id="g128"><stop offset=".000" stop-color="#fc7f37"/><stop offset=".138" stop-color="#fb6d32"/><stop offset=".276" stop-color="#f95b2d"/><stop offset=".414" stop-color="#f6482a"/><stop offset=".552" stop-color="#f23627"/><stop offset=".690" stop-color="#ee2524"/><stop offset="1" stop-color="#ee2524"/></linearGradient>
<linearGradient id="g129"><stop offset=".000" stop-color="#ee2524"/><stop offset=".220" stop-color="#ee2524"/><stop offset=".277" stop-color="#f13226"/><stop offset=".335" stop-color="#f43f28"/><stop offset=".393" stop-color="#f74c2a"/><stop offset=".450" stop-color="#f9592d"/><stop offset=".508" stop-color="#fa6530"/><stop offset=".565" stop-color="#fb7133"/><stop offset=".623" stop-color="#fc7e37"/><stop offset=".681" stop-color="#fd8a3a"/><stop offset=".738" stop-color="#fd993e"/><stop offset=".796" stop-color="#fda842"/><stop offset="1" stop-color="#fda842"/></linearGradient>
<linearGradient id="g130"><stop offset=".000" stop-color="#fc8338"/><stop offset=".137" stop-color="#fb7033"/><stop offset=".275" stop-color="#fa5d2e"/><stop offset=".412" stop-color="#f64a2a"/><stop offset=".550" stop-color="#f23727"/><stop offset=".687" stop-color="#ee2524"/><stop offset="1" stop-color="#ee2524"/></linearGradient>
<linearGradient id="g131"><stop offset=".000" stop-color="#ee2524"/><stop offset=".234" stop-color="#ee2524"/><stop offset=".292" stop-color="#f13126"/><stop offset=".349" stop-color="#f33c28"/><stop offset=".407" stop-color="#f6482a"/><stop offset=".464" stop-color="#f8532c"/><stop offset=".522" stop-color="#fa5e2e"/><stop offset=".579" stop-color="#fa6931"/><stop offset=".637" stop-color="#fb7434"/><stop offset=".694" stop-color="#fc7f37"/><stop offset=".752" stop-color="#fd893a"/><stop offset=".809" stop-color="#fd963e"/><stop offset="1" stop-color="#fd963e"/></linearGradient>
<linearGradient id="g132"><stop offset=".000" stop-color="#fd8739"/><stop offset=".137" stop-color="#fb7334"/><stop offset=".274" stop-color="#fa602f"/><stop offset=".411" stop-color="#f74c2a"/><stop offset=".548" stop-color="#f23827"/><stop offset=".685" stop-color="#ee2524"/><stop offset="1" stop-color="#ee2524"/></linearGradient>
<linearGradient id="g133"><stop offset=".000" stop-color="#ee2524"/><stop offset=".251" stop-color="#ee2524"/><stop offset=".308" stop-color="#f02f26"/><stop offset=".365" stop-color="#f33a27"/><stop offset=".422" stop-color="#f54429"/><stop offset=".480" stop-color="#f74f2b"/><stop offset=".537" stop-color="#f9592d"/><stop offset=".594" stop-color="#fa632f"/><stop offset=".651" stop-color="#fb6c32"/><stop offset=".709" stop-color="#fb7635"/><stop offset=".766" stop-color="#fc8037"/><stop offset=".823" stop-color="#fd893a"/><stop offset="1" stop-color="#fd893a"/></linearGradient>
<linearGradient id="g134"><stop offset=".000" stop-color="#fd8d3b"/><stop offset=".137" stop-color="#fc7735"/><stop offset=".273" stop-color="#fa632f"/><stop offset=".410" stop-color="#f74e2b"/><stop offset=".547" stop-color="#f23927"/><stop offset=".683" stop-color="#ee2524"/><stop offset="1" stop-color="#ee2524"/></linearGradient>
<linearGradient id="g135"><stop offset=".000" stop-color="#ee2524"/><stop offset=".268" stop-color="#ee2524"/><stop offset=".324" stop-color="#f02e26"/><stop offset=".381" stop-color="#f23827"/><stop offset=".438" stop-color="#f44129"/><stop offset=".495" stop-color="#f64a2a"/><stop offset=".552" stop-color="#f9542c"/><stop offset=".609" stop-color="#fa5d2e"/><stop offset=".666" stop-color="#fa6530"/><stop offset=".723" stop-color="#fb6e32"/><stop offset=".779" stop-color="#fc7735"/><stop offset=".836" stop-color="#fc7f37"/><stop offset="1" stop-color="#fc7f37"/></linearGradient>
<linearGradient id="g136"><stop offset=".000" stop-color="#fd923c"/><stop offset=".136" stop-color="#fc7b36"/><stop offset=".273" stop-color="#fa6630"/><stop offset=".409" stop-color="#f8502b"/><stop offset=".546" stop-color="#f33a27"/><stop offset=".682" stop-color="#ee2524"/><stop offset="1" stop-color="#ee2524"/></linearGradient>
<linearGradient id="g137"><stop offset=".000" stop-color="#ee2524"/><stop offset=".285" stop-color="#ee2524"/><stop offset=".341" stop-color="#f02d25"/><stop offset=".398" stop-color="#f23627"/><stop offset=".454" stop-color="#f43e28"/><stop offset=".511" stop-color="#f54629"/><stop offset=".567" stop-color="#f74f2b"/><stop offset=".624" stop-color="#f9572c"/><stop offset=".680" stop-color="#fa5f2e"/><stop offset=".737" stop-color="#fa6630"/><stop offset=".793" stop-color="#fb6e32"/><stop offset=".850" stop-color="#fb7635"/><stop offset="1" stop-color="#fb7635"/></linearGradient>
<linearGradient id="g138"><stop offset=".000" stop-color="#fd993e"/><stop offset=".136" stop-color="#fc7f37"/><stop offset=".273" stop-color="#fa6831"/><stop offset=".409" stop-color="#f8522b"/><stop offset=".545" stop-color="#f33b28"/><stop offset=".681" stop-color="#ee2524"/><stop offset="1" stop-color="#ee2524"/></linearGradient>
<linearGradient id="g139"><stop offset=".000" stop-color="#ee2524"/><stop offset=".303" stop-color="#ee2524"/><stop offset=".359" stop-color="#f02c25"/><stop offset=".415" stop-color="#f13426"/><stop offset=".471" stop-color="#f33b28"/><stop offset=".527" stop-color="#f54229"/><stop offset=".583" stop-color="#f6492a"/><stop offset=".639" stop-color="#f8512b"/><stop offset=".695" stop-color="#f9582c"/><stop offset=".751" stop-color="#fa5e2e"/><stop offset=".807" stop-color="#fa6530"/><stop offset=".863" stop-color="#fb6c32"/><stop offset="1" stop-color="#fb6c32"/></linearGradient>
<linearGradient id="g140"><stop offset=".000" stop-color="#fd9e40"/><stop offset=".135" stop-color="#fc8238"/><stop offset=".270" stop-color="#fb6b32"/><stop offset=".405" stop-color="#f9542c"/><stop offset=".540" stop-color="#f33c28"/><stop offset=".676" stop-color="#ee2524"/><stop offset="1" stop-color="#ee2524"/></linearGradient>
<linearGradient id="g141"><stop offset=".000" stop-color="#ee2524"/><stop offset=".331" stop-color="#ee2524"/><stop offset=".385" stop-color="#ef2b25"/><stop offset=".440" stop-color="#f13126"/><stop offset=".494" stop-color="#f23727"/><stop offset=".549" stop-color="#f43e28"/><stop offset=".603" stop-color="#f54429"/><stop offset=".657" stop-color="#f64a2a"/><stop offset=".712" stop-color="#f8502b"/><stop offset=".766" stop-color="#f9562c"/><stop offset=".820" stop-color="#f95c2e"/><stop offset=".875" stop-color="#fa612f"/><stop offset=".862" stop-color="#fa612f"/><stop offset=".939" stop-color="#b02a22"/><stop offset="1" stop-color="#b02a22"/></linearGradient>
<linearGradient id="g142"><stop offset=".000" stop-color="#fda341"/><stop offset=".134" stop-color="#fd8639"/><stop offset=".267" stop-color="#fb6e32"/><stop offset=".401" stop-color="#f9562c"/><stop offset=".535" stop-color="#f33c28"/><stop offset=".668" stop-color="#ee2524"/><stop offset="1" stop-color="#ee2524"/></linearGradient>
<linearGradient id="g143"><stop offset=".000" stop-color="#ee2524"/><stop offset=".365" stop-color="#ee2524"/><stop offset=".417" stop-color="#ef2a25"/><stop offset=".469" stop-color="#f02f26"/><stop offset=".522" stop-color="#f13426"/><stop offset=".574" stop-color="#f23927"/><stop offset=".626" stop-color="#f43e28"/><stop offset=".678" stop-color="#f54329"/><stop offset=".730" stop-color="#f6482a"/><stop offset=".782" stop-color="#f74d2a"/><stop offset=".835" stop-color="#f8522b"/><stop offset=".887" stop-color="#f9572c"/><stop offset=".857" stop-color="#f9572c"/><stop offset=".936" stop-color="#b02a22"/><stop offset="1" stop-color="#b02a22"/></linearGradient>
<linearGradient id="g144"><stop offset=".000" stop-color="#fda943"/><stop offset=".133" stop-color="#fd893a"/><stop offset=".265" stop-color="#fb7033"/><stop offset=".398" stop-color="#f9572c"/><stop offset=".530" stop-color="#f33d28"/><stop offset=".663" stop-color="#ee2524"/><stop offset="1" stop-color="#ee2524"/></linearGradient>
<linearGradient id="g145"><stop offset=".000" stop-color="#ee2524"/><stop offset=".400" stop-color="#ee2524"/><stop offset=".450" stop-color="#ef2925"/><stop offset=".499" stop-color="#f02d25"/><stop offset=".549" stop-color="#f13026"/><stop offset=".599" stop-color="#f13426"/><stop offset=".648" stop-color="#f23827"/><stop offset=".698" stop-color="#f33c28"/><stop offset=".748" stop-color="#f44028"/><stop offset=".797" stop-color="#f54329"/><stop offset=".847" stop-color="#f6472a"/><stop offset=".897" stop-color="#f74b2a"/><stop offset=".852" stop-color="#f74b2a"/><stop offset=".934" stop-color="#b02a22"/><stop offset="1" stop-color="#b02a22"/></linearGradient>
<linearGradient id="g146"><stop offset=".000" stop-color="#fdaf45"/><stop offset=".131" stop-color="#fd8e3b"/><stop offset=".262" stop-color="#fb7334"/><stop offset=".393" stop-color="#f9592d"/><stop offset=".524" stop-color="#f43e28"/><stop offset=".655" stop-color="#ee2524"/><stop offset="1" stop-color="#ee2524"/></linearGradient>
<linearGradient id="g147"><stop offset=".000" stop-color="#ee2524"/><stop offset=".451" stop-color="#ee2524"/><stop offset=".496" stop-color="#ef2824"/><stop offset=".541" stop-color="#ef2b25"/><stop offset=".587" stop-color="#f02d25"/><stop offset=".632" stop-color="#f13026"/><stop offset=".677" stop-color="#f13326"/><stop offset=".723" stop-color="#f23627"/><stop offset=".768" stop-color="#f23927"/><stop offset=".813" stop-color="#f33b28"/><stop offset=".859" stop-color="#f43e28"/><stop offset=".904" stop-color="#f44129"/><stop offset=".844" stop-color="#f44129"/><stop offset=".931" stop-color="#b02a22"/><stop offset="1" stop-color="#b02a22"/></linearGradient>
<linearGradient id="g148"><stop offset=".000" stop-color="#fdb647"/><stop offset=".129" stop-color="#fd943d"/><stop offset=".259" stop-color="#fc7735"/><stop offset=".388" stop-color="#f95c2d"/><stop offset=".518" stop-color="#f44028"/><stop offset=".647" stop-color="#ee2524"/><stop offset="1" stop-color="#ee2524"/></linearGradient>
<linearGradient id="g149"><stop offset=".000" stop-color="#ee2524"/><stop offset=".513" stop-color="#ee2524"/><stop offset=".553" stop-color="#ee2724"/><stop offset=".592" stop-color="#ef2925"/><stop offset=".632" stop-color="#ef2b25"/><stop offset=".672" stop-color="#f02c25"/><stop offset=".712" stop-color="#f02e26"/><stop offset=".752" stop-color="#f13026"/><stop offset=".792" stop-color="#f13226"/><stop offset=".832" stop-color="#f13426"/><stop offset=".872" stop-color="#f23627"/><stop offset=".912" stop-color="#f23827"/><stop offset=".835" stop-color="#f23827"/><stop offset=".926" stop-color="#b02a22"/><stop offset="1" stop-color="#b02a22"/></linearGradient>
<linearGradient id="g150"><stop offset=".000" stop-color="#fdc049"/><stop offset=".130" stop-color="#fd9b3f"/><stop offset=".259" stop-color="#fc7b36"/><stop offset=".389" stop-color="#fa5e2e"/><stop offset=".519" stop-color="#f44129"/><stop offset=".648" stop-color="#ee2524"/><stop offset="1" stop-color="#ee2524"/></linearGradient>
<linearGradient id="g151"><stop offset=".000" stop-color="#ee2524"/><stop offset=".550" stop-color="#ee2524"/><stop offset=".586" stop-color="#ee2624"/><stop offset=".623" stop-color="#ef2824"/><stop offset=".659" stop-color="#ef2925"/><stop offset=".695" stop-color="#ef2a25"/><stop offset=".732" stop-color="#ef2c25"/><stop offset=".768" stop-color="#f02d25"/><stop offset=".805" stop-color="#f02e26"/><stop offset=".841" stop-color="#f03026"/><stop offset=".877" stop-color="#f13126"/><stop offset=".914" stop-color="#f13226"/><stop offset=".828" stop-color="#f13226"/><stop offset=".923" stop-color="#b02a22"/><stop offset="1" stop-color="#b02a22"/></linearGradient>
<linearGradient id="g152"><stop offset=".000" stop-color="#fbc54b"/><stop offset=".132" stop-color="#fda441"/><stop offset=".263" stop-color="#fc8037"/><stop offset=".395" stop-color="#fa622f"/><stop offset=".526" stop-color="#f54329"/><stop offset=".658" stop-color="#ee2524"/><stop offset="1" stop-color="#ee2524"/></linearGradient>
<linearGradient id="g153"><stop offset=".000" stop-color="#ee2524"/><stop offset=".559" stop-color="#ee2524"/><stop offset=".594" stop-color="#ee2624"/><stop offset=".629" stop-color="#ef2724"/><stop offset=".665" stop-color="#ef2925"/><stop offset=".700" stop-color="#ef2a25"/><stop offset=".735" stop-color="#ef2b25"/><stop offset=".771" stop-color="#f02c25"/><stop offset=".806" stop-color="#f02d25"/><stop offset=".841" stop-color="#f02f26"/><stop offset=".876" stop-color="#f03026"/><stop offset=".912" stop-color="#f13126"/><stop offset=".823" stop-color="#f13126"/><stop offset=".922" stop-color="#b02a22"/><stop offset="1" stop-color="#b02a22"/></linearGradient>
<linearGradient id="g154"><stop offset=".000" stop-color="#f9c94c"/><stop offset=".133" stop-color="#fdad44"/><stop offset=".267" stop-color="#fd8639"/><stop offset=".400" stop-color="#fa6530"/><stop offset=".533" stop-color="#f54529"/><stop offset=".667" stop-color="#ee2524"/><stop offset="1" stop-color="#ee2524"/></linearGradient>
<linearGradient id="g155"><stop offset=".000" stop-color="#ee2524"/><stop offset=".568" stop-color="#ee2524"/><stop offset=".602" stop-color="#ee2624"/><stop offset=".636" stop-color="#ee2724"/><stop offset=".670" stop-color="#ef2825"/><stop offset=".705" stop-color="#ef2925"/><stop offset=".739" stop-color="#ef2a25"/><stop offset=".773" stop-color="#ef2b25"/><stop offset=".807" stop-color="#f02c25"/><stop offset=".841" stop-color="#f02d25"/><stop offset=".875" stop-color="#f02e26"/><stop offset=".910" stop-color="#f03026"/><stop offset=".819" stop-color="#f03026"/><stop offset=".920" stop-color="#b02a22"/><stop offset="1" stop-color="#b02a22"/></linearGradient>
<linearGradient id="g156"><stop offset=".000" stop-color="#f7cd4d"/><stop offset=".135" stop-color="#fdb647"/><stop offset=".270" stop-color="#fd8b3a"/><stop offset=".405" stop-color="#fa6931"/><stop offset=".540" stop-color="#f64629"/><stop offset=".675" stop-color="#ee2524"/><stop offset="1" stop-color="#ee2524"/></linearGradient>
<linearGradient id="g157"><stop offset=".000" stop-color="#ee2524"/><stop offset=".578" stop-color="#ee2524"/><stop offset=".611" stop-color="#ee2624"/><stop offset=".644" stop-color="#ee2724"/><stop offset=".677" stop-color="#ef2824"/><stop offset=".710" stop-color="#ef2925"/><stop offset=".743" stop-color="#ef2a25"/><stop offset=".776" stop-color="#ef2a25"/><stop offset=".808" stop-color="#ef2b25"/><stop offset=".841" stop-color="#f02c25"/><stop offset=".874" stop-color="#f02d25"/><stop offset=".907" stop-color="#f02e25"/><stop offset=".815" stop-color="#f02e25"/><stop offset=".918" stop-color="#b02a22"/><stop offset="1" stop-color="#b02a22"/></linearGradient>
<linearGradient id="g158"><stop offset=".000" stop-color="#f4d14e"/><stop offset=".137" stop-color="#fdbf49"/><stop offset=".273" stop-color="#fd923c"/><stop offset=".410" stop-color="#fb6c32"/><stop offset=".547" stop-color="#f6482a"/><stop offset=".683" stop-color="#ee2524"/><stop offset="1" stop-color="#ee2524"/></linearGradient>
<linearGradient id="g159"><stop offset=".000" stop-color="#ee2524"/><stop offset=".588" stop-color="#ee2524"/><stop offset=".620" stop-color="#ee2624"/><stop offset=".652" stop-color="#ee2724"/><stop offset=".683" stop-color="#ef2724"/><stop offset=".715" stop-color="#ef2825"/><stop offset=".747" stop-color="#ef2925"/><stop offset=".778" stop-color="#ef2a25"/><stop offset=".810" stop-color="#ef2a25"/><stop offset=".842" stop-color="#ef2b25"/><stop offset=".873" stop-color="#f02c25"/><stop offset=".905" stop-color="#f02d25"/><stop offset=".810" stop-color="#f02d25"/><stop offset=".916" stop-color="#b02a22"/><stop offset="1" stop-color="#b02a22"/></linearGradient>
<linearGradient id="g160"><stop offset=".000" stop-color="#f2d54f"/><stop offset=".139" stop-color="#fcc44b"/><stop offset=".278" stop-color="#fd993e"/><stop offset=".417" stop-color="#fb7033"/><stop offset=".556" stop-color="#f64a2a"/><stop offset=".695" stop-color="#ee2524"/><stop offset="1" stop-color="#ee2524"/></linearGradient>
<linearGradient id="g161"><stop offset=".000" stop-color="#ee2524"/><stop offset=".590" stop-color="#ee2524"/><stop offset=".621" stop-color="#ee2624"/><stop offset=".652" stop-color="#ee2624"/><stop offset=".684" stop-color="#ee2724"/><stop offset=".715" stop-color="#ef2824"/><stop offset=".746" stop-color="#ef2925"/><stop offset=".778" stop-color="#ef2925"/><stop offset=".809" stop-color="#ef2a25"/><stop offset=".840" stop-color="#ef2b25"/><stop offset=".871" stop-color="#ef2b25"/><stop offset=".903" stop-color="#f02c25"/><stop offset=".806" stop-color="#f02c25"/><stop offset=".914" stop-color="#b02a22"/><stop offset="1" stop-color="#b02a22"/></linearGradient>
<linearGradient id="g162"><stop offset=".000" stop-color="#eed851"/><stop offset=".142" stop-color="#fac84c"/><stop offset=".283" stop-color="#fda040"/><stop offset=".425" stop-color="#fb7434"/><stop offset=".567" stop-color="#f74c2a"/><stop offset=".708" stop-color="#ee2524"/><stop offset="1" stop-color="#ee2524"/></linearGradient>
<linearGradient id="g163"><stop offset=".000" stop-color="#ee2524"/><stop offset=".582" stop-color="#ee2524"/><stop offset=".614" stop-color="#ee2624"/><stop offset=".646" stop-color="#ee2624"/><stop offset=".677" stop-color="#ee2724"/><stop offset=".709" stop-color="#ef2824"/><stop offset=".741" stop-color="#ef2925"/><stop offset=".773" stop-color="#ef2925"/><stop offset=".805" stop-color="#ef2a25"/><stop offset=".837" stop-color="#ef2b25"/><stop offset=".869" stop-color="#ef2b25"/><stop offset=".901" stop-color="#f02c25"/><stop offset=".802" stop-color="#f02c25"/><stop offset=".912" stop-color="#b02a22"/><stop offset="1" stop-color="#b02a22"/></linearGradient>
<linearGradient id="g164"><stop offset=".000" stop-color="#e5d854"/><stop offset=".144" stop-color="#f8cb4c"/><stop offset=".289" stop-color="#fda842"/><stop offset=".433" stop-color="#fc7835"/><stop offset=".578" stop-color="#f74e2b"/><stop offset=".722" stop-color="#ee2524"/><stop offset="1" stop-color="#ee2524"/></linearGradient>
<linearGradient id="g165"><stop offset=".000" stop-color="#ee2524"/><stop offset=".573" stop-color="#ee2524"/><stop offset=".606" stop-color="#ee2624"/><stop offset=".639" stop-color="#ee2624"/><stop offset=".671" stop-color="#ee2724"/><stop offset=".704" stop-color="#ef2824"/><stop offset=".736" stop-color="#ef2925"/><stop offset=".769" stop-color="#ef2925"/><stop offset=".801" stop-color="#ef2a25"/><stop offset=".834" stop-color="#ef2b25"/><stop offset=".866" stop-color="#ef2b25"/><stop offset=".899" stop-color="#f02c25"/><stop offset=".798" stop-color="#f02c25"/><stop offset=".910" stop-color="#b02a22"/><stop offset="1" stop-color="#b02a22"/></linearGradient>
<linearGradient id="g166"><stop offset=".000" stop-color="#dcd858"/><stop offset=".147" stop-color="#f6cf4d"/><stop offset=".294" stop-color="#fdaf45"/><stop offset=".441" stop-color="#fc7c36"/><stop offset=".588" stop-color="#f8502b"/><stop offset=".735" stop-color="#ee2524"/><stop offset="1" stop-color="#ee2524"/></linearGradient>
<linearGradient id="g167"><stop offset=".000" stop-color="#ee2524"/><stop offset=".565" stop-color="#ee2524"/><stop offset=".598" stop-color="#ee2624"/><stop offset=".631" stop-color="#ee2624"/><stop offset=".665" stop-color="#ee2724"/><stop offset=".698" stop-color="#ef2824"/><stop offset=".731" stop-color="#ef2925"/><stop offset=".764" stop-color="#ef2925"/><stop offset=".797" stop-color="#ef2a25"/><stop offset=".831" stop-color="#ef2b25"/><stop offset=".864" stop-color="#ef2b25"/><stop offset=".897" stop-color="#f02c25"/><stop offset=".794" stop-color="#f02c25"/><stop offset=".908" stop-color="#b02a22"/><stop offset="1" stop-color="#b02a22"/></linearGradient>
<linearGradient id="g168"><stop offset=".000" stop-color="#d2d85c"/><stop offset=".149" stop-color="#f3d34f"/><stop offset=".299" stop-color="#fdb847"/><stop offset=".448" stop-color="#fc8037"/><stop offset=".598" stop-color="#f8532b"/><stop offset=".747" stop-color="#ee2524"/><stop offset="1" stop-color="#ee2524"/></linearGradient>
<linearGradient id="g169"><stop offset=".000" stop-color="#ee2524"/><stop offset=".556" stop-color="#ee2524"/><stop offset=".590" stop-color="#ee2624"/><stop offset=".624" stop-color="#ee2624"/><stop offset=".658" stop-color="#ee2724"/><stop offset=".692" stop-color="#ef2824"/><stop offset=".726" stop-color="#ef2925"/><stop offset=".760" stop-color="#ef2925"/><stop offset=".793" stop-color="#ef2a25"/><stop offset=".827" stop-color="#ef2b25"/><stop offset=".861" stop-color="#ef2b25"/><stop offset=".895" stop-color="#f02c25"/><stop offset=".790" stop-color="#f02c25"/><stop offset=".907" stop-color="#b02a22"/><stop offset="1" stop-color="#b02a22"/></linearGradient>
<linearGradient id="g170"><stop offset=".000" stop-color="#c8d860"/><stop offset=".152" stop-color="#f1d750"/><stop offset=".304" stop-color="#fdc04a"/><stop offset=".455" stop-color="#fd8539"/><stop offset=".607" stop-color="#f9552c"/><stop offset=".759" stop-color="#ee2524"/><stop offset="1" stop-color="#ee2524"/></linearGradient>
<linearGradient id="g171"><stop offset=".000" stop-color="#ee2524"/><stop offset=".548" stop-color="#ee2524"/><stop offset=".582" stop-color="#ee2624"/><stop offset=".617" stop-color="#ee2624"/><stop offset=".651" stop-color="#ee2724"/><stop offset=".686" stop-color="#ef2824"/><stop offset=".720" stop-color="#ef2925"/><stop offset=".755" stop-color="#ef2925"/><stop offset=".789" stop-color="#ef2a25"/><stop offset=".824" stop-color="#ef2b25"/><stop offset=".858" stop-color="#ef2b25"/><stop offset=".893" stop-color="#f02c25"/><stop offset=".786" stop-color="#f02c25"/><stop offset=".905" stop-color="#b02a22"/><stop offset="1" stop-color="#b02a22"/></linearGradient>
<linearGradient id="g172"><stop offset=".000" stop-color="#bed864"/><stop offset=".154" stop-color="#ebd852"/><stop offset=".308" stop-color="#fcc54b"/><stop offset=".462" stop-color="#fd8a3a"/><stop offset=".616" stop-color="#f9572c"/><stop offset=".770" stop-color="#ee2524"/><stop offset="1" stop-color="#ee2524"/></linearGradient>
<linearGradient id="g173"><stop offset=".000" stop-color="#ee2524"/><stop offset=".539" stop-color="#ee2524"/><stop offset=".574" stop-color="#ee2624"/><stop offset=".609" stop-color="#ee2624"/><stop offset=".645" stop-color="#ee2724"/><stop offset=".680" stop-color="#ef2824"/><stop offset=".715" stop-color="#ef2925"/><stop offset=".750" stop-color="#ef2925"/><stop offset=".785" stop-color="#ef2a25"/><stop offset=".820" stop-color="#ef2b25"/><stop offset=".856" stop-color="#ef2b25"/><stop offset=".891" stop-color="#f02c25"/><stop offset=".782" stop-color="#f02c25"/><stop offset=".903" stop-color="#b02a22"/><stop offset="1" stop-color="#b02a22"/></linearGradient>
<linearGradient id="g174"><stop offset=".000" stop-color="#b5d769"/><stop offset=".156" stop-color="#e2d855"/><stop offset=".313" stop-color="#fac84c"/><stop offset=".469" stop-color="#fd903c"/><stop offset=".625" stop-color="#f95a2d"/><stop offset=".781" stop-color="#ee2524"/><stop offset="1" stop-color="#ee2524"/></linearGradient>
<linearGradient id="g175"><stop offset=".000" stop-color="#ee2524"/><stop offset=".530" stop-color="#ee2524"/><stop offset=".566" stop-color="#ee2624"/><stop offset=".602" stop-color="#ee2624"/><stop offset=".637" stop-color="#ee2724"/><stop offset=".673" stop-color="#ef2824"/><stop offset=".709" stop-color="#ef2925"/><stop offset=".745" stop-color="#ef2925"/><stop offset=".781" stop-color="#ef2a25"/><stop offset=".817" stop-color="#ef2b25"/><stop offset=".853" stop-color="#ef2b25"/><stop offset=".889" stop-color="#f02c25"/><stop offset=".777" stop-color="#f02c25"/><stop offset=".901" stop-color="#b02a22"/><stop offset="1" stop-color="#b02a22"/></linearGradient>
<linearGradient id="g176"><stop offset=".000" stop-color="#b1d76c"/><stop offset=".157" stop-color="#ded857"/><stop offset=".314" stop-color="#f9c94c"/><stop offset=".472" stop-color="#fd923c"/><stop offset=".629" stop-color="#f95b2d"/><stop offset=".786" stop-color="#ee2524"/><stop offset="1" stop-color="#ee2524"/></linearGradient>
<linearGradient id="g177"><stop offset=".000" stop-color="#ee2524"/><stop offset=".526" stop-color="#ee2524"/><stop offset=".562" stop-color="#ee2624"/><stop offset=".598" stop-color="#ee2624"/><stop offset=".635" stop-color="#ee2724"/><stop offset=".671" stop-color="#ef2824"/><stop offset=".707" stop-color="#ef2925"/><stop offset=".743" stop-color="#ef2925"/><stop offset=".779" stop-color="#ef2a25"/><stop offset=".815" stop-color="#ef2b25"/><stop offset=".852" stop-color="#ef2b25"/><stop offset=".888" stop-color="#f02c25"/><stop offset=".776" stop-color="#f02c25"/><stop offset=".900" stop-color="#b02a22"/><stop offset="1" stop-color="#b02a22"/></linearGradient></defs>
<defs><linearGradient id="g178"><stop offset=".000" stop-color="#3b2a96"/><stop offset=".219" stop-color="#325b9b"/><stop offset=".364" stop-color="#3e7e8b"/><stop offset=".509" stop-color="#5c8c5c"/><stop offset=".654" stop-color="#8b8b37"/><stop offset=".799" stop-color="#ac652c"/><stop offset=".944" stop-color="#a82a20"/><stop offset="1" stop-color="#a82a20"/></linearGradient>
<linearGradient id="g179"><stop offset=".000" stop-color="#3b2a96"/><stop offset=".219" stop-color="#325b9b"/><stop offset=".364" stop-color="#3e7e8b"/><stop offset=".509" stop-color="#5c8c5c"/><stop offset=".654" stop-color="#8b8b37"/><stop offset=".799" stop-color="#ac652c"/><stop offset=".944" stop-color="#a82a20"/><stop offset="1" stop-color="#a82a20"/></linearGradient>
<linearGradient id="g180"><stop offset=".000" stop-color="#3b2a96"/><stop offset=".220" stop-color="#325b9b"/><stop offset=".364" stop-color="#3e7e8b"/><stop offset=".509" stop-color="#5c8c5c"/><stop offset=".654" stop-color="#8b8b37"/><stop offset=".799" stop-color="#ac652c"/><stop offset=".944" stop-color="#a82a20"/><stop offset="1" stop-color="#a82a20"/></linearGradient>
<linearGradient id="g181"><stop offset=".000" stop-color="#3b2a96"/><stop offset=".220" stop-color="#325b9b"/><stop offset=".364" stop-color="#3e7e8b"/><stop offset=".509" stop-color="#5c8c5c"/><stop offset=".654" stop-color="#8b8b37"/><stop offset=".799" stop-color="#ac652c"/><stop offset=".944" stop-color="#a82a20"/><stop offset="1" stop-color="#a82a20"/></linearGradient>
<linearGradient id="g182"><stop offset=".000" stop-color="#3b2a96"/><stop offset=".220" stop-color="#325b9b"/><stop offset=".364" stop-color="#3e7e8b"/><stop offset=".509" stop-color="#5c8c5c"/><stop offset=".654" stop-color="#8b8b37"/><stop offset=".799" stop-color="#ac652c"/><stop offset=".944" stop-color="#a82a20"/><stop offset="1" stop-color="#a82a20"/></linearGradient>
<linearGradient id="g183"><stop offset=".000" stop-color="#3b2a96"/><stop offset=".220" stop-color="#325b9b"/><stop offset=".365" stop-color="#3e7e8b"/><stop offset=".509" stop-color="#5c8c5c"/><stop offset=".654" stop-color="#8b8b37"/><stop offset=".799" stop-color="#ac652c"/><stop offset=".944" stop-color="#a82a20"/><stop offset="1" stop-color="#a82a20"/></linearGradient>
<linearGradient id="g184"><stop offset=".000" stop-color="#3b2a96"/><stop offset=".220" stop-color="#325b9b"/><stop offset=".365" stop-color="#3e7e8b"/><stop offset=".509" stop-color="#5c8c5c"/><stop offset=".654" stop-color="#8b8b37"/><stop offset=".799" stop-color="#ac652c"/><stop offset=".944" stop-color="#a82a20"/><stop offset="1" stop-color="#a82a20"/></linearGradient>
<linearGradient id="g185"><stop offset=".000" stop-color="#3b2a96"/><stop offset=".220" stop-color="#325b9b"/><stop offset=".365" stop-color="#3e7e8b"/><stop offset=".509" stop-color="#5c8c5c"/><stop offset=".654" stop-color="#8b8b37"/><stop offset=".799" stop-color="#ac652c"/><stop offset=".944" stop-color="#a82a20"/><stop offset="1" stop-color="#a82a20"/></linearGradient>
<linearGradient id="g186"><stop offset=".000" stop-color="#3b2a96"/><stop offset=".220" stop-color="#325b9b"/><stop offset=".365" stop-color="#3e7e8b"/><stop offset=".509" stop-color="#5c8c5c"/><stop offset=".654" stop-color="#8b8b37"/><stop offset=".799" stop-color="#ac652c"/><stop offset=".944" stop-color="#a82a20"/><stop offset="1" stop-color="#a82a20"/></linearGradient>
<linearGradient id="g187"><stop offset=".000" stop-color="#3b2a96"/><stop offset=".220" stop-color="#325b9b"/><stop offset=".365" stop-color="#3e7e8b"/><stop offset=".509" stop-color="#5c8c5c"/><stop offset=".654" stop-color="#8b8b37"/><stop offset=".799" stop-color="#ac652c"/><stop offset=".944" stop-color="#a82a20"/><stop offset="1" stop-color="#a82a20"/></linearGradient>
<linearGradient id="g188"><stop offset=".000" stop-color="#3b2a96"/><stop offset=".220" stop-color="#325b9b"/><stop offset=".365" stop-color="#3e7e8b"/><stop offset=".509" stop-color="#5c8c5c"/><stop offset=".654" stop-color="#8b8b37"/><stop offset=".799" stop-color="#ac652c"/><stop offset=".944" stop-color="#a82a20"/><stop offset="1" stop-color="#a82a20"/></linearGradient>
<linearGradient id="g189"><stop offset=".000" stop-color="#3b2a96"/><stop offset=".220" stop-color="#325b9b"/><stop offset=".365" stop-color="#3e7e8b"/><stop offset=".509" stop-color="#5c8c5c"/><stop offset=".654" stop-color="#8b8b37"/><stop offset=".799" stop-color="#ac652c"/><stop offset=".944" stop-color="#a82a20"/><stop offset="1" stop-color="#a82a20"/></linearGradient>
<linearGradient id="g190"><stop offset=".000" stop-color="#3b2a96"/><stop offset=".220" stop-color="#325b9b"/><stop offset=".365" stop-color="#3e7e8b"/><stop offset=".509" stop-color="#5c8c5c"/><stop offset=".654" stop-color="#8b8b37"/><stop offset=".799" stop-color="#ac652c"/><stop offset=".944" stop-color="#a82a20"/><stop offset="1" stop-color="#a82a20"/></linearGradient>
<linearGradient id="g191"><stop offset=".000" stop-color="#3b2a96"/><stop offset=".220" stop-color="#325b9b"/><stop offset=".365" stop-color="#3e7e8b"/><stop offset=".509" stop-color="#5c8c5c"/><stop offset=".654" stop-color="#8b8b37"/><stop offset=".799" stop-color="#ac652c"/><stop offset=".944" stop-color="#a82a20"/><stop offset="1" stop-color="#a82a20"/></linearGradient>
<linearGradient id="g192"><stop offset=".000" stop-color="#3b2a96"/><stop offset=".220" stop-color="#325b9b"/><stop offset=".365" stop-color="#3e7e8b"/><stop offset=".509" stop-color="#5c8c5c"/><stop offset=".654" stop-color="#8b8b37"/><stop offset=".799" stop-color="#ac652c"/><stop offset=".944" stop-color="#a82a20"/><stop offset="1" stop-color="#a82a20"/></linearGradient>
<linearGradient id="g193"><stop offset=".000" stop-color="#3a2c96"/><stop offset=".220" stop-color="#325c9b"/><stop offset=".365" stop-color="#3f7e8a"/><stop offset=".509" stop-color="#5d8c5b"/><stop offset=".654" stop-color="#8c8b37"/><stop offset=".799" stop-color="#ac652c"/><stop offset=".944" stop-color="#a82a20"/><stop offset="1" stop-color="#a82a20"/></linearGradient>
<linearGradient id="g194"><stop offset=".000" stop-color="#3a2d97"/><stop offset=".220" stop-color="#325d9b"/><stop offset=".365" stop-color="#3f7f8a"/><stop offset=".509" stop-color="#5e8c5a"/><stop offset=".654" stop-color="#8c8a36"/><stop offset=".799" stop-color="#ac652c"/><stop offset=".944" stop-color="#a82a20"/><stop offset="1" stop-color="#a82a20"/></linearGradient>
<linearGradient id="g195"><stop offset=".000" stop-color="#392e97"/><stop offset=".220" stop-color="#325d9b"/><stop offset=".365" stop-color="#3f7f89"/><stop offset=".509" stop-color="#5e8c5a"/><stop offset=".654" stop-color="#8c8a36"/><stop offset=".799" stop-color="#ac652c"/><stop offset=".944" stop-color="#a82a20"/><stop offset="1" stop-color="#a82a20"/></linearGradient>
<linearGradient id="g196"><stop offset=".000" stop-color="#393097"/><stop offset=".220" stop-color="#325e9b"/><stop offset=".365" stop-color="#408089"/><stop offset=".509" stop-color="#5f8c59"/><stop offset=".654" stop-color="#8d8a36"/><stop offset=".799" stop-color="#ac642c"/><stop offset=".944" stop-color="#a82a20"/><stop offset="1" stop-color="#a82a20"/></linearGradient>
<linearGradient id="g197"><stop offset=".000" stop-color="#383197"/><stop offset=".220" stop-color="#335f9b"/><stop offset=".365" stop-color="#408088"/><stop offset=".509" stop-color="#5f8d58"/><stop offset=".654" stop-color="#8d8a36"/><stop offset=".799" stop-color="#ac642c"/><stop offset=".944" stop-color="#a82a20"/><stop offset="1" stop-color="#a82a20"/></linearGradient>
<linearGradient id="g198"><stop offset=".000" stop-color="#383298"/><stop offset=".220" stop-color="#33609b"/><stop offset=".365" stop-color="#418087"/><stop offset=".509" stop-color="#608d58"/><stop offset=".654" stop-color="#8e8a36"/><stop offset=".799" stop-color="#ad642c"/><stop offset=".944" stop-color="#a82a20"/><stop offset="1" stop-color="#a82a20"/></linearGradient>
<linearGradient id="g199"><stop offset=".000" stop-color="#373498"/><stop offset=".220" stop-color="#33619a"/><stop offset=".365" stop-color="#418086"/><stop offset=".509" stop-color="#608d57"/><stop offset=".654" stop-color="#8e8a35"/><stop offset=".799" stop-color="#ad642c"/><stop offset=".943" stop-color="#a82a20"/><stop offset="1" stop-color="#a82a20"/></linearGradient>
<linearGradient id="g200"><stop offset=".000" stop-color="#363798"/><stop offset=".220" stop-color="#33639a"/><stop offset=".365" stop-color="#428185"/><stop offset=".509" stop-color="#628d55"/><stop offset=".654" stop-color="#8f8a35"/><stop offset=".799" stop-color="#ad632c"/><stop offset=".943" stop-color="#a82a20"/><stop offset="1" stop-color="#a82a20"/></linearGradient>
<linearGradient id="g201"><stop offset=".000" stop-color="#353999"/><stop offset=".220" stop-color="#33659a"/><stop offset=".365" stop-color="#438283"/><stop offset=".509" stop-color="#638d54"/><stop offset=".654" stop-color="#908935"/><stop offset=".799" stop-color="#ad632c"/><stop offset=".943" stop-color="#a82a20"/><stop offset="1" stop-color="#a82a20"/></linearGradient>
<linearGradient id="g202"><stop offset=".000" stop-color="#343c99"/><stop offset=".221" stop-color="#34679a"/><stop offset=".365" stop-color="#448281"/><stop offset=".510" stop-color="#648d53"/><stop offset=".654" stop-color="#908935"/><stop offset=".798" stop-color="#ad622c"/><stop offset=".943" stop-color="#a82a20"/><stop offset="1" stop-color="#a82a20"/></linearGradient>
<linearGradient id="g203"><stop offset=".000" stop-color="#333f9a"/><stop offset=".221" stop-color="#34689a"/><stop offset=".365" stop-color="#448380"/><stop offset=".510" stop-color="#658d51"/><stop offset=".654" stop-color="#918834"/><stop offset=".798" stop-color="#ae622b"/><stop offset=".942" stop-color="#a82a20"/><stop offset="1" stop-color="#a82a20"/></linearGradient>
<linearGradient id="g204"><stop offset=".000" stop-color="#32429a"/><stop offset=".221" stop-color="#356a99"/><stop offset=".365" stop-color="#45837e"/><stop offset=".510" stop-color="#668e50"/><stop offset=".654" stop-color="#918834"/><stop offset=".798" stop-color="#ae622b"/><stop offset=".942" stop-color="#a82a20"/><stop offset="1" stop-color="#a82a20"/></linearGradient>
<linearGradient id="g205"><stop offset=".000" stop-color="#31459b"/><stop offset=".222" stop-color="#366b98"/><stop offset=".366" stop-color="#46847c"/><stop offset=".510" stop-color="#688e4e"/><stop offset=".654" stop-color="#928734"/><stop offset=".798" stop-color="#ae612b"/><stop offset=".942" stop-color="#a82a20"/><stop offset="1" stop-color="#a82a20"/></linearGradient>
<linearGradient id="g206"><stop offset=".000" stop-color="#2f4a9c"/><stop offset=".222" stop-color="#376e96"/><stop offset=".366" stop-color="#48857a"/><stop offset=".510" stop-color="#6a8e4c"/><stop offset=".654" stop-color="#938634"/><stop offset=".797" stop-color="#af602b"/><stop offset=".941" stop-color="#a82a20"/><stop offset="1" stop-color="#a82a20"/></linearGradient>
<linearGradient id="g207"><stop offset=".000" stop-color="#304d9c"/><stop offset=".223" stop-color="#387095"/><stop offset=".366" stop-color="#498677"/><stop offset=".510" stop-color="#6b8e49"/><stop offset=".653" stop-color="#948534"/><stop offset=".797" stop-color="#af602b"/><stop offset=".940" stop-color="#a82a20"/><stop offset="1" stop-color="#a82a20"/></linearGradient>
<linearGradient id="g208"><stop offset=".000" stop-color="#30519c"/><stop offset=".224" stop-color="#397293"/><stop offset=".367" stop-color="#4a8775"/><stop offset=".510" stop-color="#6d8f47"/><stop offset=".653" stop-color="#958433"/><stop offset=".796" stop-color="#af5f2b"/><stop offset=".940" stop-color="#a82a20"/><stop offset="1" stop-color="#a82a20"/></linearGradient>
<linearGradient id="g209"><stop offset=".000" stop-color="#325c9b"/><stop offset=".225" stop-color="#3c798e"/><stop offset=".367" stop-color="#4f8a6d"/><stop offset=".510" stop-color="#748e43"/><stop offset=".653" stop-color="#988132"/><stop offset=".796" stop-color="#b15d2a"/><stop offset=".939" stop-color="#a82a20"/><stop offset="1" stop-color="#a82a20"/></linearGradient>
<linearGradient id="g210"><stop offset=".000" stop-color="#34699a"/><stop offset=".226" stop-color="#418086"/><stop offset=".368" stop-color="#588b61"/><stop offset=".510" stop-color="#7b8d3f"/><stop offset=".653" stop-color="#9b7e31"/><stop offset=".795" stop-color="#b25a2a"/><stop offset=".938" stop-color="#a82a20"/><stop offset="1" stop-color="#a82a20"/></linearGradient>
<linearGradient id="g211"><stop offset=".000" stop-color="#397392"/><stop offset=".227" stop-color="#47857a"/><stop offset=".369" stop-color="#618d56"/><stop offset=".511" stop-color="#838c3b"/><stop offset=".652" stop-color="#9f7a30"/><stop offset=".794" stop-color="#b35629"/><stop offset=".936" stop-color="#a82a20"/><stop offset="1" stop-color="#a82a20"/></linearGradient>
<linearGradient id="g212"><stop offset=".000" stop-color="#3f7e8b"/><stop offset=".228" stop-color="#4e8a6d"/><stop offset=".370" stop-color="#6b8e49"/><stop offset=".511" stop-color="#8b8b37"/><stop offset=".652" stop-color="#a3762f"/><stop offset=".793" stop-color="#b45128"/><stop offset=".935" stop-color="#a82a20"/><stop offset="1" stop-color="#a82a20"/></linearGradient>
<linearGradient id="g213"><stop offset=".000" stop-color="#47847b"/><stop offset=".230" stop-color="#5b8c5d"/><stop offset=".371" stop-color="#778e41"/><stop offset=".511" stop-color="#928734"/><stop offset=".652" stop-color="#a6702e"/><stop offset=".792" stop-color="#b44d28"/><stop offset=".932" stop-color="#a82a20"/><stop offset="1" stop-color="#a82a20"/></linearGradient>
<linearGradient id="g214"><stop offset=".000" stop-color="#508a6b"/><stop offset=".233" stop-color="#688e4d"/><stop offset=".372" stop-color="#828c3b"/><stop offset=".512" stop-color="#988132"/><stop offset=".651" stop-color="#a96a2d"/><stop offset=".790" stop-color="#b54827"/><stop offset=".930" stop-color="#a82a20"/><stop offset="1" stop-color="#a82a20"/></linearGradient>
<linearGradient id="g215"><stop offset=".000" stop-color="#5b8c5d"/><stop offset=".237" stop-color="#728f44"/><stop offset=".374" stop-color="#8a8b37"/><stop offset=".512" stop-color="#9c7c31"/><stop offset=".650" stop-color="#ac662c"/><stop offset=".788" stop-color="#b64526"/><stop offset=".926" stop-color="#a82a20"/><stop offset="1" stop-color="#a82a20"/></linearGradient>
<linearGradient id="g216"><stop offset=".000" stop-color="#668e50"/><stop offset=".241" stop-color="#7c8d3f"/><stop offset=".377" stop-color="#918834"/><stop offset=".513" stop-color="#a17830"/><stop offset=".649" stop-color="#ae622b"/><stop offset=".786" stop-color="#b74225"/><stop offset=".922" stop-color="#a82a20"/><stop offset="1" stop-color="#a82a20"/></linearGradient>
<linearGradient id="g217"><stop offset=".000" stop-color="#718f44"/><stop offset=".245" stop-color="#868b3a"/><stop offset=".380" stop-color="#978233"/><stop offset=".514" stop-color="#a4732f"/><stop offset=".648" stop-color="#b05d2b"/><stop offset=".782" stop-color="#b73f25"/><stop offset=".917" stop-color="#a82a20"/><stop offset="1" stop-color="#a82a20"/></linearGradient>
<linearGradient id="g218"><stop offset=".000" stop-color="#7b8d3f"/><stop offset=".251" stop-color="#8e8a35"/><stop offset=".383" stop-color="#9b7e31"/><stop offset=".515" stop-color="#a76e2e"/><stop offset=".647" stop-color="#b25a2a"/><stop offset=".779" stop-color="#b83c24"/><stop offset=".910" stop-color="#a82a20"/><stop offset="1" stop-color="#a82a20"/></linearGradient>
<linearGradient id="g219"><stop offset=".000" stop-color="#868b3a"/><stop offset=".258" stop-color="#948533"/><stop offset=".387" stop-color="#a07930"/><stop offset=".516" stop-color="#aa682d"/><stop offset=".645" stop-color="#b35429"/><stop offset=".775" stop-color="#b83a24"/><stop offset=".904" stop-color="#a82a20"/><stop offset="1" stop-color="#a82a20"/></linearGradient>
<linearGradient id="g220"><stop offset=".000" stop-color="#8f8a35"/><stop offset=".265" stop-color="#9a7f32"/><stop offset=".391" stop-color="#a4742f"/><stop offset=".517" stop-color="#ad632c"/><stop offset=".644" stop-color="#b44f28"/><stop offset=".770" stop-color="#b63824"/><stop offset=".896" stop-color="#a82a20"/><stop offset="1" stop-color="#a82a20"/></linearGradient>
<linearGradient id="g221"><stop offset=".000" stop-color="#958433"/><stop offset=".274" stop-color="#9f7a30"/><stop offset=".397" stop-color="#a76e2e"/><stop offset=".519" stop-color="#af5f2b"/><stop offset=".641" stop-color="#b54b27"/><stop offset=".764" stop-color="#b53723"/><stop offset=".886" stop-color="#a82a20"/><stop offset="1" stop-color="#a82a20"/></linearGradient>
<linearGradient id="g222"><stop offset=".000" stop-color="#9d7c31"/><stop offset=".286" stop-color="#a5732e"/><stop offset=".403" stop-color="#ac662c"/><stop offset=".521" stop-color="#b2582a"/><stop offset=".639" stop-color="#b64526"/><stop offset=".756" stop-color="#b33523"/><stop offset=".874" stop-color="#a82a20"/><stop offset="1" stop-color="#a82a20"/></linearGradient>
<linearGradient id="g223"><stop offset=".000" stop-color="#a5732e"/><stop offset=".300" stop-color="#ab682c"/><stop offset=".412" stop-color="#b05d2b"/><stop offset=".523" stop-color="#b44e28"/><stop offset=".635" stop-color="#b73e25"/><stop offset=".747" stop-color="#b13322"/><stop offset=".859" stop-color="#a82a20"/><stop offset="1" stop-color="#a82a20"/></linearGradient>
<linearGradient id="g224"><stop offset=".000" stop-color="#ab682c"/><stop offset=".317" stop-color="#af5f2b"/><stop offset=".422" stop-color="#b35429"/><stop offset=".527" stop-color="#b64626"/><stop offset=".631" stop-color="#b83a24"/><stop offset=".736" stop-color="#b03222"/><stop offset=".841" stop-color="#a82a20"/><stop offset="1" stop-color="#a82a20"/></linearGradient>
<linearGradient id="g225"><stop offset=".000" stop-color="#b05e2b"/><stop offset=".338" stop-color="#b35529"/><stop offset=".434" stop-color="#b54a27"/><stop offset=".530" stop-color="#b73f25"/><stop offset=".626" stop-color="#b53723"/><stop offset=".722" stop-color="#ae3022"/><stop offset=".818" stop-color="#a82a20"/><stop offset="1" stop-color="#a82a20"/></linearGradient>
<linearGradient id="g226"><stop offset=".000" stop-color="#b45228"/><stop offset=".365" stop-color="#b54927"/><stop offset=".450" stop-color="#b74125"/><stop offset=".535" stop-color="#b73924"/><stop offset=".620" stop-color="#b23422"/><stop offset=".705" stop-color="#ad2f21"/><stop offset=".789" stop-color="#a82a20"/><stop offset="1" stop-color="#a82a20"/></linearGradient>
<linearGradient id="g227"><stop offset=".000" stop-color="#b64426"/><stop offset=".400" stop-color="#b73d25"/><stop offset=".471" stop-color="#b63824"/><stop offset=".541" stop-color="#b33523"/><stop offset=".612" stop-color="#af3122"/><stop offset=".682" stop-color="#ac2e21"/><stop offset=".753" stop-color="#a82a20"/><stop offset="1" stop-color="#a82a20"/></linearGradient>
<linearGradient id="g228"><stop offset=".000" stop-color="#b73924"/><stop offset=".442" stop-color="#b43623"/><stop offset=".495" stop-color="#b23422"/><stop offset=".549" stop-color="#af3122"/><stop offset=".602" stop-color="#ad2f21"/><stop offset=".655" stop-color="#aa2c21"/><stop offset=".708" stop-color="#a82a20"/><stop offset="1" stop-color="#a82a20"/></linearGradient>
<linearGradient id="g229"><stop offset=".000" stop-color="#b03222"/><stop offset=".493" stop-color="#af3122"/><stop offset=".525" stop-color="#ae3021"/><stop offset=".558" stop-color="#ac2e21"/><stop offset=".590" stop-color="#ab2d21"/><stop offset=".622" stop-color="#a92b20"/><stop offset=".654" stop-color="#a82a20"/><stop offset="1" stop-color="#a82a20"/></linearGradient>
<linearGradient id="g230"><stop offset=".000" stop-color="#aa2c21"/><stop offset=".550" stop-color="#aa2c20"/><stop offset=".559" stop-color="#a92b20"/><stop offset=".568" stop-color="#a92b20"/><stop offset=".576" stop-color="#a92b20"/><stop offset=".585" stop-color="#a82a20"/><stop offset=".594" stop-color="#a82a20"/><stop offset="1" stop-color="#a82a20"/></linearGradient></defs>
<g clip-path="url(#cs)"><rect x="983.3" y="490.0" width="27.1" height="6.7" fill="url(#g0)" transform="matrix(1 0 0.599 1 -295.23 0)"/>
<rect x="1007.4" y="490.0" width="178.6" height="6.7" fill="url(#g1)" transform="matrix(1 0 0.740 1 -364.64 0)"/>
<rect x="986.9" y="496.0" width="27.5" height="6.7" fill="url(#g2)" transform="matrix(1 0 0.599 1 -298.83 0)"/>
<rect x="1011.4" y="496.0" width="178.9" height="6.7" fill="url(#g3)" transform="matrix(1 0 0.740 1 -369.08 0)"/>
<rect x="990.5" y="502.0" width="27.8" height="6.7" fill="url(#g4)" transform="matrix(1 0 0.599 1 -302.42 0)"/>
<rect x="1015.3" y="502.0" width="179.4" height="6.7" fill="url(#g5)" transform="matrix(1 0 0.740 1 -373.52 0)"/>
<rect x="994.1" y="508.0" width="28.1" height="6.7" fill="url(#g6)" transform="matrix(1 0 0.599 1 -306.01 0)"/>
<rect x="1019.1" y="508.0" width="179.8" height="6.7" fill="url(#g7)" transform="matrix(1 0 0.740 1 -377.96 0)"/>
<rect x="997.7" y="514.0" width="28.3" height="6.7" fill="url(#g8)" transform="matrix(1 0 0.599 1 -309.60 0)"/>
<rect x="1023.0" y="514.0" width="180.3" height="6.7" fill="url(#g9)" transform="matrix(1 0 0.740 1 -382.40 0)"/>
<rect x="1001.2" y="520.0" width="28.6" height="6.7" fill="url(#g10)" transform="matrix(1 0 0.599 1 -313.20 0)"/>
<rect x="1026.8" y="520.0" width="180.8" height="6.7" fill="url(#g11)" transform="matrix(1 0 0.740 1 -386.83 0)"/>
<rect x="1004.8" y="526.0" width="28.8" height="6.7" fill="url(#g12)" transform="matrix(1 0 0.599 1 -316.79 0)"/>
<rect x="1030.7" y="526.0" width="181.3" height="6.7" fill="url(#g13)" transform="matrix(1 0 0.740 1 -391.27 0)"/>
<rect x="1008.4" y="532.0" width="29.1" height="6.7" fill="url(#g14)" transform="matrix(1 0 0.599 1 -320.38 0)"/>
<rect x="1034.5" y="532.0" width="181.8" height="6.7" fill="url(#g15)" transform="matrix(1 0 0.740 1 -395.71 0)"/>
<rect x="1012.0" y="538.0" width="29.3" height="6.7" fill="url(#g16)" transform="matrix(1 0 0.599 1 -323.98 0)"/>
<rect x="1038.4" y="538.0" width="182.3" height="6.7" fill="url(#g17)" transform="matrix(1 0 0.740 1 -400.15 0)"/>
<rect x="1015.6" y="544.0" width="29.6" height="6.7" fill="url(#g18)" transform="matrix(1 0 0.599 1 -327.57 0)"/>
<rect x="1042.2" y="544.0" width="182.7" height="6.7" fill="url(#g19)" transform="matrix(1 0 0.740 1 -404.59 0)"/>
<rect x="1019.2" y="550.0" width="29.9" height="6.7" fill="url(#g20)" transform="matrix(1 0 0.599 1 -331.16 0)"/>
<rect x="1046.1" y="550.0" width="183.2" height="6.7" fill="url(#g21)" transform="matrix(1 0 0.740 1 -409.02 0)"/>
<rect x="1022.8" y="556.0" width="30.1" height="6.7" fill="url(#g22)" transform="matrix(1 0 0.595 1 -332.40 0)"/>
<rect x="1049.9" y="556.0" width="183.7" height="6.7" fill="url(#g23)" transform="matrix(1 0 0.738 1 -412.45 0)"/>
<rect x="1026.3" y="562.0" width="30.4" height="6.7" fill="url(#g24)" transform="matrix(1 0 0.588 1 -332.40 0)"/>
<rect x="1053.7" y="562.0" width="184.2" height="6.7" fill="url(#g25)" transform="matrix(1 0 0.730 1 -412.50 0)"/>
<rect x="1029.9" y="568.0" width="30.6" height="6.7" fill="url(#g26)" transform="matrix(1 0 0.586 1 -334.72 0)"/>
<rect x="1057.5" y="568.0" width="184.8" height="6.7" fill="url(#g27)" transform="matrix(1 0 0.724 1 -413.48 0)"/>
<rect x="1033.4" y="574.0" width="30.9" height="6.7" fill="url(#g28)" transform="matrix(1 0 0.586 1 -338.24 0)"/>
<rect x="1061.3" y="574.0" width="185.4" height="6.7" fill="url(#g29)" transform="matrix(1 0 0.720 1 -415.72 0)"/>
<rect x="1036.9" y="580.0" width="31.1" height="6.7" fill="url(#g30)" transform="matrix(1 0 0.586 1 -341.76 0)"/>
<rect x="1065.0" y="580.0" width="186.0" height="6.7" fill="url(#g31)" transform="matrix(1 0 0.710 1 -413.66 0)"/>
<rect x="1040.4" y="586.0" width="31.3" height="6.7" fill="url(#g32)" transform="matrix(1 0 0.571 1 -336.39 0)"/>
<rect x="1068.7" y="586.0" width="186.6" height="6.7" fill="url(#g33)" transform="matrix(1 0 0.702 1 -413.62 0)"/>
<rect x="1043.8" y="592.0" width="31.8" height="6.7" fill="url(#g34)" transform="matrix(1 0 0.553 1 -329.05 0)"/>
<rect x="1072.6" y="592.0" width="187.0" height="6.7" fill="url(#g35)" transform="matrix(1 0 0.705 1 -419.60 0)"/>
<rect x="1047.0" y="598.0" width="32.5" height="6.7" fill="url(#g36)" transform="matrix(1 0 0.550 1 -330.55 0)"/>
<rect x="1076.5" y="598.0" width="187.4" height="6.7" fill="url(#g37)" transform="matrix(1 0 0.713 1 -428.68 0)"/>
<rect x="1050.3" y="604.0" width="33.2" height="6.7" fill="url(#g38)" transform="matrix(1 0 0.550 1 -333.85 0)"/>
<rect x="1080.5" y="604.0" width="187.8" height="6.7" fill="url(#g39)" transform="matrix(1 0 0.718 1 -436.06 0)"/>
<rect x="1053.7" y="610.0" width="33.9" height="6.7" fill="url(#g40)" transform="matrix(1 0 0.550 1 -337.15 0)"/>
<rect x="1084.5" y="610.0" width="188.2" height="6.7" fill="url(#g41)" transform="matrix(1 0 0.725 1 -444.26 0)"/>
<rect x="1057.0" y="616.0" width="34.6" height="6.7" fill="url(#g42)" transform="matrix(1 0 0.550 1 -340.45 0)"/>
<rect x="1088.5" y="616.0" width="188.5" height="6.7" fill="url(#g43)" transform="matrix(1 0 0.738 1 -457.02 0)"/>
<rect x="1060.2" y="622.0" width="35.4" height="6.7" fill="url(#g44)" transform="matrix(1 0 0.547 1 -342.19 0)"/>
<rect x="1092.6" y="622.0" width="188.8" height="6.7" fill="url(#g45)" transform="matrix(1 0 0.746 1 -465.98 0)"/>
<rect x="1063.5" y="628.0" width="36.1" height="6.7" fill="url(#g46)" transform="matrix(1 0 0.533 1 -336.01 0)"/>
<rect x="1096.7" y="628.0" width="189.1" height="6.7" fill="url(#g47)" transform="matrix(1 0 0.752 1 -474.82 0)"/>
<rect x="1066.6" y="634.0" width="37.0" height="6.7" fill="url(#g48)" transform="matrix(1 0 0.520 1 -331.24 0)"/>
<rect x="1100.7" y="634.0" width="189.5" height="6.7" fill="url(#g49)" transform="matrix(1 0 0.763 1 -486.12 0)"/>
<rect x="1069.8" y="640.0" width="38.0" height="6.7" fill="url(#g50)" transform="matrix(1 0 0.520 1 -334.36 0)"/>
<rect x="1104.7" y="640.0" width="189.8" height="6.7" fill="url(#g51)" transform="matrix(1 0 0.767 1 -493.10 0)"/>
<rect x="1072.9" y="646.0" width="38.9" height="6.7" fill="url(#g52)" transform="matrix(1 0 0.520 1 -337.48 0)"/>
<rect x="1108.8" y="646.0" width="190.1" height="6.7" fill="url(#g53)" transform="matrix(1 0 0.786 1 -510.06 0)"/>
<rect x="1076.0" y="652.0" width="40.0" height="6.7" fill="url(#g54)" transform="matrix(1 0 0.520 1 -340.60 0)"/>
<rect x="1113.0" y="652.0" width="190.3" height="6.7" fill="url(#g55)" transform="matrix(1 0 0.806 1 -528.15 0)"/>
<rect x="1079.1" y="658.0" width="41.1" height="6.7" fill="url(#g56)" transform="matrix(1 0 0.520 1 -343.72 0)"/>
<rect x="1117.2" y="658.0" width="190.5" height="6.7" fill="url(#g57)" transform="matrix(1 0 0.812 1 -536.71 0)"/>
<rect x="1082.2" y="664.0" width="42.2" height="6.7" fill="url(#g58)" transform="matrix(1 0 0.520 1 -346.84 0)"/>
<rect x="1121.5" y="664.0" width="190.7" height="6.7" fill="url(#g59)" transform="matrix(1 0 0.825 1 -550.13 0)"/>
<rect x="1085.4" y="670.0" width="43.4" height="6.7" fill="url(#g60)" transform="matrix(1 0 0.520 1 -349.96 0)"/>
<rect x="1125.8" y="670.0" width="190.8" height="6.7" fill="url(#g61)" transform="matrix(1 0 0.833 1 -560.83 0)"/>
<rect x="1088.5" y="676.0" width="44.6" height="6.7" fill="url(#g62)" transform="matrix(1 0 0.522 1 -354.49 0)"/>
<rect x="1130.0" y="676.0" width="191.0" height="6.7" fill="url(#g63)" transform="matrix(1 0 0.855 1 -580.88 0)"/>
<rect x="1091.6" y="682.0" width="46.1" height="6.7" fill="url(#g64)" transform="matrix(1 0 0.525 1 -359.34 0)"/>
<rect x="1134.7" y="682.0" width="190.7" height="6.7" fill="url(#g65)" transform="matrix(1 0 0.882 1 -604.23 0)"/>
<rect x="1094.8" y="688.0" width="47.6" height="6.7" fill="url(#g66)" transform="matrix(1 0 0.525 1 -362.77 0)"/>
<rect x="1139.4" y="688.0" width="190.4" height="6.7" fill="url(#g67)" transform="matrix(1 0 0.898 1 -620.41 0)"/>
<rect x="1097.9" y="694.0" width="49.3" height="6.7" fill="url(#g68)" transform="matrix(1 0 0.525 1 -365.92 0)"/>
<rect x="1144.2" y="694.0" width="190.1" height="6.7" fill="url(#g69)" transform="matrix(1 0 0.921 1 -642.11 0)"/>
<rect x="1100.5" y="700.0" width="50.7" height="4.7" fill="url(#g70)" transform="matrix(1 0 0.525 1 -368.55 0)"/>
<rect x="1148.2" y="700.0" width="189.7" height="4.7" fill="url(#g71)" transform="matrix(1 0 0.935 1 -656.39 0)"/>
<rect x="1102.7" y="704.0" width="51.8" height="4.7" fill="url(#g72)" transform="matrix(1 0 0.525 1 -370.65 0)"/>
<rect x="1151.5" y="704.0" width="189.4" height="4.7" fill="url(#g73)" transform="matrix(1 0 0.952 1 -672.11 0)"/>
<rect x="1104.8" y="708.0" width="53.1" height="4.7" fill="url(#g74)" transform="matrix(1 0 0.525 1 -372.75 0)"/>
<rect x="1154.9" y="708.0" width="189.0" height="4.7" fill="url(#g75)" transform="matrix(1 0 0.969 1 -687.97 0)"/>
<rect x="1106.8" y="712.0" width="54.4" height="4.7" fill="url(#g76)" transform="matrix(1 0 0.525 1 -374.85 0)"/>
<rect x="1158.3" y="712.0" width="188.5" height="4.7" fill="url(#g77)" transform="matrix(1 0 0.984 1 -702.76 0)"/>
<rect x="1109.0" y="716.0" width="55.7" height="4.7" fill="url(#g78)" transform="matrix(1 0 0.526 1 -377.61 0)"/>
<rect x="1161.7" y="716.0" width="188.0" height="4.7" fill="url(#g79)" transform="matrix(1 0 1.005 1 -721.34 0)"/>
<rect x="1111.1" y="720.0" width="57.1" height="4.7" fill="url(#g80)" transform="matrix(1 0 0.527 1 -380.39 0)"/>
<rect x="1165.2" y="720.0" width="187.5" height="4.7" fill="url(#g81)" transform="matrix(1 0 1.027 1 -741.28 0)"/>
<rect x="1113.2" y="724.0" width="58.4" height="4.7" fill="url(#g82)" transform="matrix(1 0 0.528 1 -383.17 0)"/>
<rect x="1168.6" y="724.0" width="187.0" height="4.7" fill="url(#g83)" transform="matrix(1 0 1.049 1 -761.40 0)"/>
<rect x="1115.3" y="728.0" width="59.4" height="4.7" fill="url(#g84)" transform="matrix(1 0 0.528 1 -385.28 0)"/>
<rect x="1171.7" y="728.0" width="186.9" height="4.7" fill="url(#g85)" transform="matrix(1 0 1.071 1 -781.75 0)"/>
<rect x="1117.4" y="732.0" width="60.4" height="4.7" fill="url(#g86)" transform="matrix(1 0 0.528 1 -387.39 0)"/>
<rect x="1174.8" y="732.0" width="186.8" height="4.7" fill="url(#g87)" transform="matrix(1 0 1.092 1 -801.84 0)"/>
<rect x="1119.5" y="736.0" width="61.5" height="4.7" fill="url(#g88)" transform="matrix(1 0 0.528 1 -389.50 0)"/>
<rect x="1178.0" y="736.0" width="186.2" height="4.7" fill="url(#g89)" transform="matrix(1 0 1.117 1 -824.08 0)"/>
<rect x="1121.6" y="740.0" width="62.5" height="4.7" fill="url(#g90)" transform="matrix(1 0 0.528 1 -391.61 0)"/>
<rect x="1181.1" y="740.0" width="185.4" height="4.7" fill="url(#g91)" transform="matrix(1 0 1.139 1 -845.23 0)"/>
<rect x="1123.7" y="744.0" width="63.7" height="4.7" fill="url(#g92)" transform="matrix(1 0 0.528 1 -393.72 0)"/>
<rect x="1184.4" y="744.0" width="184.5" height="4.7" fill="url(#g93)" transform="matrix(1 0 1.161 1 -865.75 0)"/>
<rect x="1125.8" y="748.0" width="65.0" height="4.7" fill="url(#g94)" transform="matrix(1 0 0.528 1 -395.83 0)"/>
<rect x="1187.8" y="748.0" width="183.5" height="4.7" fill="url(#g95)" transform="matrix(1 0 1.188 1 -891.37 0)"/>
<rect x="1127.9" y="752.0" width="66.3" height="4.7" fill="url(#g96)" transform="matrix(1 0 0.524 1 -394.89 0)"/>
<rect x="1191.3" y="752.0" width="182.5" height="4.7" fill="url(#g97)" transform="matrix(1 0 1.208 1 -910.79 0)"/>
<rect x="1130.0" y="756.0" width="67.7" height="4.7" fill="url(#g98)" transform="matrix(1 0 0.520 1 -393.91 0)"/>
<rect x="1194.8" y="756.0" width="181.4" height="4.7" fill="url(#g99)" transform="matrix(1 0 1.227 1 -930.37 0)"/>
<rect x="1132.1" y="760.0" width="69.2" height="4.7" fill="url(#g100)" transform="matrix(1 0 0.516 1 -392.91 0)"/>
<rect x="1198.3" y="760.0" width="180.2" height="4.7" fill="url(#g101)" transform="matrix(1 0 1.261 1 -961.14 0)"/>
<rect x="1134.2" y="764.0" width="70.8" height="4.7" fill="url(#g102)" transform="matrix(1 0 0.516 1 -394.97 0)"/>
<rect x="1201.9" y="764.0" width="179.0" height="4.7" fill="url(#g103)" transform="matrix(1 0 1.286 1 -985.30 0)"/>
<rect x="1136.2" y="768.0" width="72.7" height="4.7" fill="url(#g104)" transform="matrix(1 0 0.516 1 -397.03 0)"/>
<rect x="1205.9" y="768.0" width="177.4" height="4.7" fill="url(#g105)" transform="matrix(1 0 1.320 1 -1016.19 0)"/>
<rect x="1138.3" y="772.0" width="74.6" height="4.7" fill="url(#g106)" transform="matrix(1 0 0.516 1 -399.09 0)"/>
<rect x="1209.9" y="772.0" width="175.9" height="4.7" fill="url(#g107)" transform="matrix(1 0 1.336 1 -1034.35 0)"/>
<rect x="1140.3" y="776.0" width="76.6" height="4.7" fill="url(#g108)" transform="matrix(1 0 0.516 1 -401.16 0)"/>
<rect x="1213.9" y="776.0" width="174.6" height="4.7" fill="url(#g109)" transform="matrix(1 0 1.356 1 -1054.64 0)"/>
<rect x="1142.4" y="780.0" width="78.5" height="4.7" fill="url(#g110)" transform="matrix(1 0 0.516 1 -403.22 0)"/>
<rect x="1217.9" y="780.0" width="173.4" height="4.7" fill="url(#g111)" transform="matrix(1 0 1.378 1 -1077.42 0)"/>
<rect x="1144.5" y="784.0" width="80.8" height="4.7" fill="url(#g112)" transform="matrix(1 0 0.516 1 -405.28 0)"/>
<rect x="1222.2" y="784.0" width="172.0" height="4.7" fill="url(#g113)" transform="matrix(1 0 1.393 1 -1095.22 0)"/>
<rect x="1146.5" y="788.0" width="83.6" height="4.7" fill="url(#g114)" transform="matrix(1 0 0.516 1 -407.34 0)"/>
<rect x="1227.1" y="788.0" width="170.0" height="4.7" fill="url(#g115)" transform="matrix(1 0 1.419 1 -1121.37 0)"/>
<rect x="1148.6" y="792.0" width="86.4" height="4.7" fill="url(#g116)" transform="matrix(1 0 0.516 1 -409.41 0)"/>
<rect x="1232.0" y="792.0" width="168.0" height="4.7" fill="url(#g117)" transform="matrix(1 0 1.434 1 -1138.63 0)"/>
<rect x="1150.7" y="796.0" width="89.4" height="4.7" fill="url(#g118)" transform="matrix(1 0 0.516 1 -411.47 0)"/>
<rect x="1237.1" y="796.0" width="165.7" height="4.7" fill="url(#g119)" transform="matrix(1 0 1.445 1 -1153.13 0)"/>
<rect x="1152.7" y="800.0" width="93.0" height="4.7" fill="url(#g120)" transform="matrix(1 0 0.516 1 -413.53 0)"/>
<rect x="1242.7" y="800.0" width="163.0" height="4.7" fill="url(#g121)" transform="matrix(1 0 1.441 1 -1155.83 0)"/>
<rect x="1154.8" y="804.0" width="96.5" height="4.7" fill="url(#g122)" transform="matrix(1 0 0.516 1 -415.59 0)"/>
<rect x="1248.3" y="804.0" width="160.3" height="4.7" fill="url(#g123)" transform="matrix(1 0 1.433 1 -1154.69 0)"/>
<rect x="1156.8" y="808.0" width="100.0" height="4.7" fill="url(#g124)" transform="matrix(1 0 0.516 1 -417.66 0)"/>
<rect x="1253.9" y="808.0" width="157.6" height="4.7" fill="url(#g125)" transform="matrix(1 0 1.425 1 -1154.27 0)"/>
<rect x="1158.9" y="812.0" width="103.8" height="4.7" fill="url(#g126)" transform="matrix(1 0 0.516 1 -419.72 0)"/>
<rect x="1259.7" y="812.0" width="154.6" height="4.7" fill="url(#g127)" transform="matrix(1 0 1.407 1 -1145.51 0)"/>
<rect x="1161.0" y="816.0" width="107.6" height="4.7" fill="url(#g128)" transform="matrix(1 0 0.508 1 -415.29 0)"/>
<rect x="1265.6" y="816.0" width="151.6" height="4.7" fill="url(#g129)" transform="matrix(1 0 1.381 1 -1129.74 0)"/>
<rect x="1163.0" y="820.0" width="111.3" height="4.7" fill="url(#g130)" transform="matrix(1 0 0.500 1 -410.79 0)"/>
<rect x="1271.3" y="820.0" width="148.7" height="4.7" fill="url(#g131)" transform="matrix(1 0 1.355 1 -1113.74 0)"/>
<rect x="1165.0" y="824.0" width="115.5" height="4.7" fill="url(#g132)" transform="matrix(1 0 0.492 1 -406.23 0)"/>
<rect x="1277.4" y="824.0" width="145.3" height="4.7" fill="url(#g133)" transform="matrix(1 0 1.323 1 -1093.05 0)"/>
<rect x="1166.9" y="828.0" width="119.7" height="4.7" fill="url(#g134)" transform="matrix(1 0 0.492 1 -408.20 0)"/>
<rect x="1283.7" y="828.0" width="141.8" height="4.7" fill="url(#g135)" transform="matrix(1 0 1.305 1 -1083.01 0)"/>
<rect x="1168.9" y="832.0" width="124.0" height="4.7" fill="url(#g136)" transform="matrix(1 0 0.492 1 -410.16 0)"/>
<rect x="1289.8" y="832.0" width="138.3" height="4.7" fill="url(#g137)" transform="matrix(1 0 1.268 1 -1057.49 0)"/>
<rect x="1170.9" y="836.0" width="128.1" height="4.7" fill="url(#g138)" transform="matrix(1 0 0.492 1 -412.13 0)"/>
<rect x="1296.0" y="836.0" width="134.9" height="4.7" fill="url(#g139)" transform="matrix(1 0 1.238 1 -1037.80 0)"/>
<rect x="1172.8" y="840.0" width="133.2" height="4.7" fill="url(#g140)" transform="matrix(1 0 0.492 1 -414.10 0)"/>
<rect x="1303.0" y="840.0" width="130.6" height="4.7" fill="url(#g141)" transform="matrix(1 0 1.205 1 -1014.72 0)"/>
<rect x="1174.8" y="844.0" width="138.6" height="4.7" fill="url(#g142)" transform="matrix(1 0 0.492 1 -416.07 0)"/>
<rect x="1310.4" y="844.0" width="125.9" height="4.7" fill="url(#g143)" transform="matrix(1 0 1.146 1 -969.85 0)"/>
<rect x="1176.8" y="848.0" width="143.9" height="4.7" fill="url(#g144)" transform="matrix(1 0 0.492 1 -418.03 0)"/>
<rect x="1317.6" y="848.0" width="121.4" height="4.7" fill="url(#g145)" transform="matrix(1 0 0.680 1 -578.00 0)"/>
<rect x="1178.7" y="852.0" width="150.7" height="4.7" fill="url(#g146)" transform="matrix(1 0 0.492 1 -420.00 0)"/>
<rect x="1326.4" y="852.0" width="115.4" height="4.7" fill="url(#g147)" transform="matrix(1 0 0.680 1 -580.72 0)"/>
<rect x="1180.7" y="856.0" width="158.0" height="4.7" fill="url(#g148)" transform="matrix(1 0 0.492 1 -421.97 0)"/>
<rect x="1335.7" y="856.0" width="108.8" height="4.7" fill="url(#g149)" transform="matrix(1 0 0.680 1 -583.44 0)"/>
<rect x="1182.7" y="860.0" width="163.2" height="4.7" fill="url(#g150)" transform="matrix(1 0 0.492 1 -423.93 0)"/>
<rect x="1342.8" y="860.0" width="104.4" height="4.7" fill="url(#g151)" transform="matrix(1 0 0.680 1 -586.16 0)"/>
<rect x="1184.6" y="864.0" width="166.4" height="4.7" fill="url(#g152)" transform="matrix(1 0 0.492 1 -425.90 0)"/>
<rect x="1348.0" y="864.0" width="102.0" height="4.7" fill="url(#g153)" transform="matrix(1 0 0.680 1 -588.88 0)"/>
<rect x="1186.6" y="868.0" width="169.5" height="4.7" fill="url(#g154)" transform="matrix(1 0 0.492 1 -427.87 0)"/>
<rect x="1353.1" y="868.0" width="99.5" height="4.7" fill="url(#g155)" transform="matrix(1 0 0.680 1 -591.60 0)"/>
<rect x="1188.6" y="872.0" width="172.7" height="4.7" fill="url(#g156)" transform="matrix(1 0 0.492 1 -429.84 0)"/>
<rect x="1358.3" y="872.0" width="97.1" height="4.7" fill="url(#g157)" transform="matrix(1 0 0.680 1 -594.32 0)"/>
<rect x="1190.5" y="876.0" width="175.9" height="4.7" fill="url(#g158)" transform="matrix(1 0 0.492 1 -431.80 0)"/>
<rect x="1363.4" y="876.0" width="94.7" height="4.7" fill="url(#g159)" transform="matrix(1 0 0.680 1 -597.04 0)"/>
<rect x="1192.5" y="880.0" width="178.7" height="4.7" fill="url(#g160)" transform="matrix(1 0 0.492 1 -433.77 0)"/>
<rect x="1368.2" y="880.0" width="92.6" height="4.7" fill="url(#g161)" transform="matrix(1 0 0.680 1 -599.76 0)"/>
<rect x="1194.5" y="884.0" width="181.2" height="4.7" fill="url(#g162)" transform="matrix(1 0 0.492 1 -435.74 0)"/>
<rect x="1372.7" y="884.0" width="90.8" height="4.7" fill="url(#g163)" transform="matrix(1 0 0.680 1 -602.48 0)"/>
<rect x="1196.4" y="888.0" width="183.8" height="4.7" fill="url(#g164)" transform="matrix(1 0 0.492 1 -437.70 0)"/>
<rect x="1377.2" y="888.0" width="89.1" height="4.7" fill="url(#g165)" transform="matrix(1 0 0.680 1 -605.20 0)"/>
<rect x="1198.4" y="892.0" width="186.3" height="4.7" fill="url(#g166)" transform="matrix(1 0 0.492 1 -439.67 0)"/>
<rect x="1381.7" y="892.0" width="87.3" height="4.7" fill="url(#g167)" transform="matrix(1 0 0.680 1 -607.92 0)"/>
<rect x="1200.4" y="896.0" width="188.7" height="4.7" fill="url(#g168)" transform="matrix(1 0 0.492 1 -441.64 0)"/>
<rect x="1386.0" y="896.0" width="85.7" height="4.7" fill="url(#g169)" transform="matrix(1 0 0.680 1 -610.64 0)"/>
<rect x="1202.3" y="900.0" width="191.1" height="4.7" fill="url(#g170)" transform="matrix(1 0 0.492 1 -443.61 0)"/>
<rect x="1390.4" y="900.0" width="84.1" height="4.7" fill="url(#g171)" transform="matrix(1 0 0.680 1 -613.36 0)"/>
<rect x="1204.3" y="904.0" width="193.4" height="4.7" fill="url(#g172)" transform="matrix(1 0 0.492 1 -445.57 0)"/>
<rect x="1394.7" y="904.0" width="82.4" height="4.7" fill="url(#g173)" transform="matrix(1 0 0.680 1 -616.08 0)"/>
<rect x="1206.3" y="908.0" width="195.8" height="4.7" fill="url(#g174)" transform="matrix(1 0 0.492 1 -447.54 0)"/>
<rect x="1399.1" y="908.0" width="80.8" height="4.7" fill="url(#g175)" transform="matrix(1 0 0.680 1 -618.80 0)"/>
<rect x="1208.2" y="912.0" width="197.2" height="4.7" fill="url(#g176)" transform="matrix(1 0 0.492 1 -449.51 0)"/>
<rect x="1402.4" y="912.0" width="80.2" height="4.7" fill="url(#g177)" transform="matrix(1 0 0.680 1 -621.52 0)"/>
<g clip-path="url(#cdk)"><rect x="1076.9" y="490.0" width="107.5" height="7.7" fill="url(#g178)" transform="matrix(1 0 0.715 1 -352.85 0)"/>
<rect x="1082.0" y="497.0" width="107.3" height="7.7" fill="url(#g179)" transform="matrix(1 0 0.715 1 -357.86 0)"/>
<rect x="1087.2" y="504.0" width="107.2" height="7.7" fill="url(#g180)" transform="matrix(1 0 0.715 1 -362.86 0)"/>
<rect x="1092.4" y="511.0" width="107.1" height="7.7" fill="url(#g181)" transform="matrix(1 0 0.715 1 -367.87 0)"/>
<rect x="1097.6" y="518.0" width="107.0" height="7.7" fill="url(#g182)" transform="matrix(1 0 0.715 1 -372.87 0)"/>
<rect x="1102.7" y="525.0" width="106.9" height="7.7" fill="url(#g183)" transform="matrix(1 0 0.715 1 -377.88 0)"/>
<rect x="1107.9" y="532.0" width="106.7" height="7.7" fill="url(#g184)" transform="matrix(1 0 0.715 1 -382.88 0)"/>
<rect x="1113.1" y="539.0" width="106.6" height="7.7" fill="url(#g185)" transform="matrix(1 0 0.715 1 -387.89 0)"/>
<rect x="1118.3" y="546.0" width="106.5" height="7.7" fill="url(#g186)" transform="matrix(1 0 0.715 1 -392.89 0)"/>
<rect x="1123.4" y="553.0" width="106.4" height="7.7" fill="url(#g187)" transform="matrix(1 0 0.715 1 -397.90 0)"/>
<rect x="1128.6" y="560.0" width="106.2" height="7.7" fill="url(#g188)" transform="matrix(1 0 0.715 1 -402.90 0)"/>
<rect x="1133.7" y="567.0" width="106.2" height="7.7" fill="url(#g189)" transform="matrix(1 0 0.715 1 -407.91 0)"/>
<rect x="1138.8" y="574.0" width="106.2" height="7.7" fill="url(#g190)" transform="matrix(1 0 0.715 1 -412.91 0)"/>
<rect x="1143.8" y="581.0" width="106.3" height="7.7" fill="url(#g191)" transform="matrix(1 0 0.715 1 -417.92 0)"/>
<rect x="1148.7" y="588.0" width="106.4" height="7.7" fill="url(#g192)" transform="matrix(1 0 0.715 1 -422.92 0)"/>
<rect x="1153.6" y="595.0" width="106.6" height="7.7" fill="url(#g193)" transform="matrix(1 0 0.715 1 -427.93 0)"/>
<rect x="1158.6" y="602.0" width="106.6" height="7.7" fill="url(#g194)" transform="matrix(1 0 0.715 1 -432.93 0)"/>
<rect x="1163.6" y="609.0" width="106.7" height="7.7" fill="url(#g195)" transform="matrix(1 0 0.715 1 -437.94 0)"/>
<rect x="1168.8" y="616.0" width="106.6" height="7.7" fill="url(#g196)" transform="matrix(1 0 0.715 1 -442.94 0)"/>
<rect x="1174.0" y="623.0" width="106.5" height="7.7" fill="url(#g197)" transform="matrix(1 0 0.715 1 -447.95 0)"/>
<rect x="1179.2" y="630.0" width="106.4" height="7.7" fill="url(#g198)" transform="matrix(1 0 0.715 1 -452.95 0)"/>
<rect x="1184.6" y="637.0" width="106.1" height="7.7" fill="url(#g199)" transform="matrix(1 0 0.715 1 -457.96 0)"/>
<rect x="1189.9" y="644.0" width="105.9" height="7.7" fill="url(#g200)" transform="matrix(1 0 0.715 1 -462.96 0)"/>
<rect x="1195.5" y="651.0" width="105.4" height="7.7" fill="url(#g201)" transform="matrix(1 0 0.715 1 -467.97 0)"/>
<rect x="1201.2" y="658.0" width="104.9" height="7.7" fill="url(#g202)" transform="matrix(1 0 0.715 1 -472.97 0)"/>
<rect x="1206.9" y="665.0" width="104.3" height="7.7" fill="url(#g203)" transform="matrix(1 0 0.715 1 -477.98 0)"/>
<rect x="1212.8" y="672.0" width="103.7" height="7.7" fill="url(#g204)" transform="matrix(1 0 0.715 1 -482.98 0)"/>
<rect x="1218.7" y="679.0" width="102.9" height="7.7" fill="url(#g205)" transform="matrix(1 0 0.715 1 -487.99 0)"/>
<rect x="1224.9" y="686.0" width="101.8" height="7.7" fill="url(#g206)" transform="matrix(1 0 0.715 1 -492.99 0)"/>
<rect x="1231.2" y="693.0" width="100.7" height="7.7" fill="url(#g207)" transform="matrix(1 0 0.715 1 -498.00 0)"/>
<rect x="1237.8" y="700.0" width="99.3" height="7.7" fill="url(#g208)" transform="matrix(1 0 0.715 1 -503.00 0)"/>
<rect x="1244.5" y="707.0" width="97.8" height="7.7" fill="url(#g209)" transform="matrix(1 0 0.715 1 -508.01 0)"/>
<rect x="1251.3" y="714.0" width="96.0" height="7.7" fill="url(#g210)" transform="matrix(1 0 0.715 1 -513.01 0)"/>
<rect x="1258.5" y="721.0" width="94.0" height="7.7" fill="url(#g211)" transform="matrix(1 0 0.715 1 -518.02 0)"/>
<rect x="1265.9" y="728.0" width="91.8" height="7.7" fill="url(#g212)" transform="matrix(1 0 0.715 1 -523.02 0)"/>
<rect x="1273.6" y="735.0" width="88.9" height="7.7" fill="url(#g213)" transform="matrix(1 0 0.715 1 -528.03 0)"/>
<rect x="1281.6" y="742.0" width="85.1" height="7.7" fill="url(#g214)" transform="matrix(1 0 0.715 1 -533.03 0)"/>
<rect x="1289.8" y="749.0" width="81.0" height="7.7" fill="url(#g215)" transform="matrix(1 0 0.715 1 -538.04 0)"/>
<rect x="1298.4" y="756.0" width="76.7" height="7.7" fill="url(#g216)" transform="matrix(1 0 0.715 1 -543.04 0)"/>
<rect x="1307.2" y="763.0" width="72.0" height="7.7" fill="url(#g217)" transform="matrix(1 0 0.715 1 -548.05 0)"/>
<rect x="1316.4" y="770.0" width="67.0" height="7.7" fill="url(#g218)" transform="matrix(1 0 0.715 1 -553.05 0)"/>
<rect x="1325.9" y="777.0" width="62.3" height="7.7" fill="url(#g219)" transform="matrix(1 0 0.715 1 -558.06 0)"/>
<rect x="1335.6" y="784.0" width="57.7" height="7.7" fill="url(#g220)" transform="matrix(1 0 0.715 1 -563.06 0)"/>
<rect x="1345.6" y="791.0" width="52.7" height="7.7" fill="url(#g221)" transform="matrix(1 0 0.715 1 -568.07 0)"/>
<rect x="1355.7" y="798.0" width="47.6" height="7.7" fill="url(#g222)" transform="matrix(1 0 0.715 1 -573.07 0)"/>
<rect x="1365.8" y="805.0" width="42.6" height="7.7" fill="url(#g223)" transform="matrix(1 0 0.715 1 -578.08 0)"/>
<rect x="1375.7" y="812.0" width="37.7" height="7.7" fill="url(#g224)" transform="matrix(1 0 0.715 1 -583.08 0)"/>
<rect x="1385.3" y="819.0" width="33.0" height="7.7" fill="url(#g225)" transform="matrix(1 0 0.715 1 -588.09 0)"/>
<rect x="1394.6" y="826.0" width="28.5" height="7.7" fill="url(#g226)" transform="matrix(1 0 0.715 1 -593.09 0)"/>
<rect x="1403.6" y="833.0" width="24.3" height="7.7" fill="url(#g227)" transform="matrix(1 0 0.715 1 -598.10 0)"/>
<rect x="1412.1" y="840.0" width="20.6" height="7.7" fill="url(#g228)" transform="matrix(1 0 0.715 1 -603.10 0)"/>
<rect x="1420.0" y="847.0" width="17.4" height="7.7" fill="url(#g229)" transform="matrix(1 0 0.715 1 -608.11 0)"/>
<rect x="1427.4" y="854.0" width="14.8" height="7.7" fill="url(#g230)" transform="matrix(1 0 0.715 1 -613.11 0)"/>
</g></g>
<linearGradient id="ggrid" gradientUnits="userSpaceOnUse" x1="1170" y1="500" x2="1255" y2="650"><stop offset="0" stop-color="#141c10" stop-opacity=".75"/><stop offset=".6" stop-color="#141c10" stop-opacity=".5"/><stop offset="1" stop-color="#141c10" stop-opacity=".12"/></linearGradient>
<path d="M1169.8,476.0L1276.4,638.8M1158.5,489.0L1264.8,651.3M1147.1,501.9L1248.5,656.6M1135.8,514.8L1232.2,661.9M1124.5,527.7L1215.9,667.1M1201.8,497.8L1129.9,575.2M1215.3,518.4L1148.6,590.2M1228.8,539.0L1167.4,605.2M1242.3,559.5L1186.1,620.2M1255.8,580.1L1204.8,635.1M1269.3,600.8L1223.5,650.1M1282.8,621.4L1242.2,665.1" fill="none" stroke="url(#ggrid)" stroke-width="0.9" clip-path="url(#cdk)"/>
<linearGradient id="gdome" gradientUnits="userSpaceOnUse" x1="992.8" y1="508.9" x2="1078" y2="460"><stop offset="0" stop-color="#eac391" stop-opacity=".64"/><stop offset=".5" stop-color="#e9c996" stop-opacity=".64"/><stop offset="1" stop-color="#e4cfae" stop-opacity=".62"/></linearGradient>
<polygon points="992.8,508.9 1002.0,508.0 1013.6,508.3 1027.0,509.2 1040.4,510.9 1054.0,513.5 1067.3,517.0 1081.0,522.0 1094.2,528.4 1104.0,533.5 1114.3,539.5 1125.2,547.1 1128.0,553.0 1130.0,558.5 1122.0,558.0 1110.0,554.0 1098.0,550.5 1088.0,548.0 1080.7,547.0 1074.0,547.6 1067.3,547.8 1060.0,549.5 1054.0,549.0 1047.0,551.5 1041.0,553.0 1037.0,556.0 1033.7,557.0 1029.0,560.0 1025.0,561.5" fill="url(#gdome)"/>
<clipPath id="cdome"><polygon points="992.8,508.9 1002.0,508.0 1013.6,508.3 1027.0,509.2 1040.4,510.9 1054.0,513.5 1067.3,517.0 1081.0,522.0 1094.2,528.4 1104.0,533.5 1114.3,539.5 1125.2,547.1 1128.0,553.0 1130.0,558.5 1122.0,558.0 1110.0,554.0 1098.0,550.5 1088.0,548.0 1080.7,547.0 1074.0,547.6 1067.3,547.8 1060.0,549.5 1054.0,549.0 1047.0,551.5 1041.0,553.0 1037.0,556.0 1033.7,557.0 1029.0,560.0 1025.0,561.5"/></clipPath>
<path d="M998.9,500l39.2,70M1010.0,500l39.2,70M1021.1,500l39.2,70M1032.2,500l39.2,70M1043.3,500l39.2,70M1054.4,500l39.2,70M1065.5,500l39.2,70M1076.6,500l39.2,70M1087.7,500l39.2,70M1098.8,500l39.2,70M1109.9,500l39.2,70M1121.0,500l39.2,70M1003.4,527.9 L1012.6,527.0 L1024.2,527.3 L1037.6,528.2 L1051.0,529.9 L1064.6,532.5 L1077.9,536.0 L1091.6,541.0 L1104.8,547.4 L1114.6,552.5 L1124.9,558.5 L1135.8,566.1M1014.1,546.9 L1023.3,546.0 L1034.9,546.3 L1048.3,547.2 L1061.7,548.9 L1075.3,551.5 L1088.6,555.0 L1102.3,560.0 L1115.5,566.4 L1125.3,571.5 L1135.6,577.5 L1146.5,585.1" fill="none" stroke="#2a2018" stroke-width="0.8" opacity="0.65" clip-path="url(#cdome)"/>
<polyline points="992.8,508.9 1002.0,508.0 1013.6,508.3 1027.0,509.2 1040.4,510.9 1054.0,513.5 1067.3,517.0 1081.0,522.0 1094.2,528.4 1104.0,533.5 1114.3,539.5 1125.2,547.1" fill="none" stroke="#8a8a80" stroke-width="0.8" opacity=".8"/>
<path d="M985.4,502.8L1220,923.7M1177.4,485.4L1465.5,891M1220,923.7L1465.5,891M1220,923.7L1219.5,1050.5" fill="none" stroke="#8e8e8e" stroke-width="0.9"/>
<path d="M987.8,607L1219.5,1050.5L1460.5,1018.7L1465.5,891M1219.5,1050.5l5.2,-1.6M1206.1,1024.9l2.8,-0.9M1192.8,999.3l2.8,-0.9M1179.4,973.7l2.8,-0.9M1166.0,948.1l2.8,-0.9M1152.6,922.5l5.2,-1.6M1141.7,901.5l2.8,-0.9M1130.7,880.5l2.8,-0.9M1119.7,859.5l2.8,-0.9M1108.7,838.5l2.8,-0.9M1097.8,817.5l5.2,-1.6M1088.4,799.6l2.8,-0.9M1079.1,781.7l2.8,-0.9M1069.7,763.8l2.8,-0.9M1060.4,745.9l2.8,-0.9M1051.0,728.0l5.2,-1.6M1043.1,712.8l2.8,-0.9M1035.1,697.6l2.8,-0.9M1027.2,682.4l2.8,-0.9M1019.3,667.2l2.8,-0.9M1011.3,652.0l5.2,-1.6M1004.6,639.1l2.8,-0.9M997.9,626.3l2.8,-0.9M991.2,613.4l2.8,-0.9M1219.5,1050.5l-1.9,-5.2M1243.6,1047.3l-1.0,-2.8M1267.7,1044.1l-1.9,-5.2M1291.8,1041.0l-1.0,-2.8M1315.9,1037.8l-1.9,-5.2M1340.0,1034.6l-1.0,-2.8M1364.1,1031.4l-1.9,-5.2M1388.2,1028.2l-1.0,-2.8M1412.3,1025.1l-1.9,-5.2M1436.4,1021.9l-1.0,-2.8M1460.5,1018.7l-1.9,-5.2M1460.5,1016.7l-5.5,0.7M1460.8,1008.6l-3.0,0.4M1461.2,1000.5l-3.0,0.4M1461.5,992.4l-3.0,0.4M1461.8,984.2l-3.0,0.4M1462.2,976.1l-5.5,0.7M1462.5,968.0l-3.0,0.4M1462.8,959.9l-3.0,0.4M1463.2,951.8l-3.0,0.4M1463.5,943.7l-3.0,0.4M1463.8,935.6l-5.5,0.7M1464.2,927.5l-3.0,0.4M1464.5,919.3l-3.0,0.4M1464.8,911.2l-3.0,0.4M1465.2,903.1l-3.0,0.4M1465.5,895.0l-5.5,0.7" fill="none" stroke="#4a4a4a" stroke-width="1"/>
<text x="975" y="669.3" font-family='"Liberation Sans", sans-serif' font-size="20" fill="#111" textLength="32.3" lengthAdjust="spacingAndGlyphs">2.0</text>
<text x="1018" y="748.3" font-family='"Liberation Sans", sans-serif' font-size="20" fill="#111" textLength="32.3" lengthAdjust="spacingAndGlyphs">1.5</text>
<text x="1065.5" y="837.7" font-family='"Liberation Sans", sans-serif' font-size="20" fill="#111" textLength="32.3" lengthAdjust="spacingAndGlyphs">1.0</text>
<text x="1116" y="935.5" font-family='"Liberation Sans", sans-serif' font-size="20" fill="#111" textLength="32.3" lengthAdjust="spacingAndGlyphs">0.5</text>
<text x="1174" y="1047.5" font-family='"Liberation Sans", sans-serif' font-size="20" fill="#111" textLength="32.3" lengthAdjust="spacingAndGlyphs">0.0</text>
<text x="1254.5" y="1069.5" font-family='"Liberation Sans", sans-serif' font-size="20" fill="#111" textLength="32.3" lengthAdjust="spacingAndGlyphs">0.6</text>
<text x="1347" y="1057.5" font-family='"Liberation Sans", sans-serif' font-size="20" fill="#111" textLength="32.3" lengthAdjust="spacingAndGlyphs">0.8</text>
<text x="1440.5" y="1045.5" font-family='"Liberation Sans", sans-serif' font-size="20" fill="#111" textLength="32.3" lengthAdjust="spacingAndGlyphs">1.0</text>
<text x="1471.5" y="894.5" font-family='"Liberation Sans", sans-serif' font-size="20" fill="#111" textLength="32.3" lengthAdjust="spacingAndGlyphs">1.0</text>
<text x="1469.5" y="936" font-family='"Liberation Sans", sans-serif' font-size="20" fill="#111" textLength="32.3" lengthAdjust="spacingAndGlyphs">0.9</text>
<text x="1469" y="979.5" font-family='"Liberation Sans", sans-serif' font-size="20" fill="#111" textLength="32.3" lengthAdjust="spacingAndGlyphs">0.8</text>
<text x="1467" y="1022.5" font-family='"Liberation Sans", sans-serif' font-size="20" fill="#111" textLength="32.3" lengthAdjust="spacingAndGlyphs">0.7</text>
<text x="1504" y="957" font-family='"Liberation Sans", sans-serif' font-size="31" fill="#000" textLength="101" lengthAdjust="spacingAndGlyphs">Fidelity</text>
<text x="1022.71" y="866" font-family='"Liberation Serif", "DejaVu Serif", serif' font-size="31" font-style="italic" fill="#222" textLength="22.65" lengthAdjust="spacingAndGlyphs">α</text>
<text x="1047.12" y="854" font-family='"Liberation Serif", "DejaVu Serif", serif' font-size="22" fill="#222">2</text>
<text x="1331.91" y="1103.7" font-family='"Liberation Serif", "DejaVu Serif", serif' font-size="33" font-style="italic" fill="#222" textLength="16.09" lengthAdjust="spacingAndGlyphs">c</text>
<text x="1348.10" y="1087.5" font-family='"Liberation Serif", "DejaVu Serif", serif' font-size="23.5" fill="#222" textLength="15.00" lengthAdjust="spacingAndGlyphs">2</text>
<text x="1348.16" y="1112.3" font-family='"Liberation Serif", "DejaVu Serif", serif' font-size="23.5" fill="#222" textLength="14.29" lengthAdjust="spacingAndGlyphs">0</text>
<rect x="1301.2" y="537.7" width="333.6" height="43" rx="2" fill="#fff" stroke="#f3000a" stroke-width="4.6"/>
<text x="1313" y="568.7" font-family='"Liberation Sans", sans-serif' font-size="24.5" fill="#000" textLength="295.5" lengthAdjust="spacingAndGlyphs">Displaced-photon counting</text>
<line x1="1405.0" y1="586.0" x2="1351.4" y2="730.9" stroke="#000" stroke-width="5.5"/><polygon points="1346.5,744.0 1344.6,726.2 1359.6,731.8" fill="#000"/>
<line x1="1041.0" y1="981.0" x2="1183.0" y2="924.7" stroke="#000" stroke-width="5.5"/><polygon points="1196.0,919.5 1184.1,932.8 1178.2,918.0" fill="#000"/>
<rect x="930.5" y="980.5" width="189" height="72.7" rx="1.5" fill="#fff" stroke="#000" stroke-width="5"/>
<text x="942.7" y="1010.7" font-family='"Liberation Sans", sans-serif' font-size="24.5" fill="#000" textLength="119" lengthAdjust="spacingAndGlyphs">Homodyne</text>
<text x="943.5" y="1039.5" font-family='"Liberation Sans", sans-serif' font-size="24.5" fill="#000" textLength="152" lengthAdjust="spacingAndGlyphs">measurement</text>
<line x1="1446.7" y1="1066.0" x2="1363.4" y2="983.6" stroke="#000" stroke-width="5.5"/><polygon points="1353.5,973.7 1370.5,979.3 1359.2,990.6" fill="#000"/>
<rect x="1411.5" y="1066.2" width="97" height="42.4" rx="1.5" fill="#fff" stroke="#000" stroke-width="5"/>
<text x="1424" y="1095.7" font-family='"Liberation Sans", sans-serif' font-size="24.5" fill="#000" textLength="71" lengthAdjust="spacingAndGlyphs">PNRD</text>
</g>
</svg>
</body></html>
